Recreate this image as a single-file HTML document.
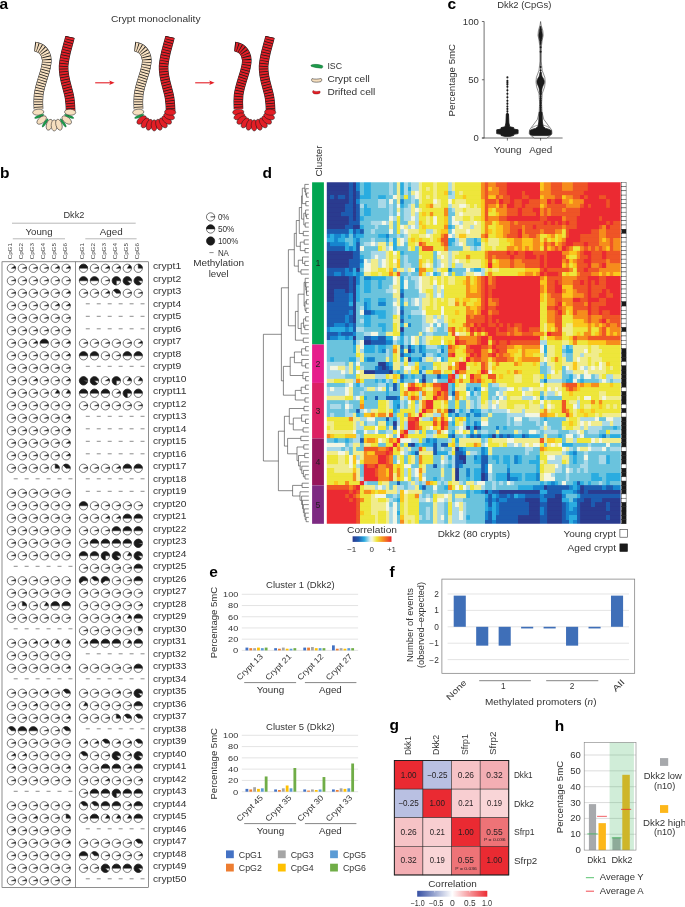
<!DOCTYPE html>
<html><head><meta charset="utf-8"><title>Figure</title>
<style>
html,body{margin:0;padding:0;background:#fff;}
body{width:685px;height:907px;overflow:hidden;font-family:"Liberation Sans",sans-serif;}
svg{display:block;font-family:"Liberation Sans",sans-serif;will-change:transform;}
</style></head><body>
<svg width="685" height="907" viewBox="0 0 685 907">
<rect width="685" height="907" fill="#fff"/>
<g id="pa"><text x="-0.40" y="9.10" font-size="15.5" fill="#000" font-weight="bold">a</text><text x="111.00" y="22.30" font-size="9" fill="#333" textLength="89.50" lengthAdjust="spacingAndGlyphs">Crypt monoclonality</text><g transform="translate(0 0)"><path d="M34.8 46.6 C40 47 46.2 51 46.8 60 C47.2 70 40.4 81 38.6 95 C38.1 100 38.2 104 38.5 109" fill="none" stroke="#1a1a1a" stroke-width="9.6" stroke-linecap="butt"/><path d="M34.8 46.6 C40 47 46.2 51 46.8 60 C47.2 70 40.4 81 38.6 95 C38.1 100 38.2 104 38.5 109" fill="none" stroke="#f6dfbf" stroke-width="8.6" stroke-linecap="butt"/><path d="M34.8 46.6 C40 47 46.2 51 46.8 60 C47.2 70 40.4 81 38.6 95 C38.1 100 38.2 104 38.5 109" fill="none" stroke="#1a1a1a" stroke-width="8.6" stroke-dasharray="0.75 1.95" stroke-linecap="butt"/><path d="M70 37 C68.5 44 64.5 54 63.6 66 C63 78 68 88 69.6 98 C70.3 103 70.6 107 70.6 111" fill="none" stroke="#1a1a1a" stroke-width="9.6" stroke-linecap="butt"/><path d="M70 37 C68.5 44 64.5 54 63.6 66 C63 78 68 88 69.6 98 C70.3 103 70.6 107 70.6 111" fill="none" stroke="#e31e26" stroke-width="8.6" stroke-linecap="butt"/><path d="M70 37 C68.5 44 64.5 54 63.6 66 C63 78 68 88 69.6 98 C70.3 103 70.6 107 70.6 111" fill="none" stroke="#1a1a1a" stroke-width="8.6" stroke-dasharray="0.75 1.95" stroke-linecap="butt"/><ellipse cx="38.24" cy="112.19" rx="5.6" ry="3.0" fill="#f6dfbf" stroke="#1a1a1a" stroke-width="0.5" transform="rotate(176.0 38.24 112.19)"/><ellipse cx="39.28" cy="116.34" rx="5.0" ry="1.15" fill="#1c9b4a" stroke="#0d5c2a" stroke-width="0.3" transform="rotate(158.8 39.28 116.34)"/><ellipse cx="41.66" cy="120.02" rx="5.6" ry="3.0" fill="#f6dfbf" stroke="#1a1a1a" stroke-width="0.5" transform="rotate(141.6 41.66 120.02)"/><ellipse cx="45.16" cy="122.92" rx="5.0" ry="1.15" fill="#1c9b4a" stroke="#0d5c2a" stroke-width="0.3" transform="rotate(124.4 45.16 122.92)"/><ellipse cx="49.47" cy="124.76" rx="5.6" ry="3.0" fill="#f6dfbf" stroke="#1a1a1a" stroke-width="0.5" transform="rotate(107.2 49.47 124.76)"/><ellipse cx="54.20" cy="125.40" rx="5.6" ry="3.0" fill="#f6dfbf" stroke="#1a1a1a" stroke-width="0.5" transform="rotate(90.0 54.20 125.40)"/><ellipse cx="58.93" cy="124.76" rx="5.6" ry="3.0" fill="#f6dfbf" stroke="#1a1a1a" stroke-width="0.5" transform="rotate(72.8 58.93 124.76)"/><ellipse cx="63.24" cy="122.92" rx="5.0" ry="1.15" fill="#1c9b4a" stroke="#0d5c2a" stroke-width="0.3" transform="rotate(55.6 63.24 122.92)"/><ellipse cx="66.74" cy="120.02" rx="5.6" ry="3.0" fill="#f6dfbf" stroke="#1a1a1a" stroke-width="0.5" transform="rotate(38.4 66.74 120.02)"/><ellipse cx="69.12" cy="116.34" rx="5.0" ry="1.15" fill="#1c9b4a" stroke="#0d5c2a" stroke-width="0.3" transform="rotate(21.2 69.12 116.34)"/><ellipse cx="70.16" cy="112.19" rx="5.6" ry="3.0" fill="#f6dfbf" stroke="#1a1a1a" stroke-width="0.5" transform="rotate(4.0 70.16 112.19)"/></g><g transform="translate(100 0)"><path d="M34.8 46.6 C40 47 46.2 51 46.8 60 C47.2 70 40.4 81 38.6 95 C38.1 100 38.2 104 38.5 109" fill="none" stroke="#1a1a1a" stroke-width="9.6" stroke-linecap="butt"/><path d="M34.8 46.6 C40 47 46.2 51 46.8 60 C47.2 70 40.4 81 38.6 95 C38.1 100 38.2 104 38.5 109" fill="none" stroke="#f6dfbf" stroke-width="8.6" stroke-linecap="butt"/><path d="M34.8 46.6 C40 47 46.2 51 46.8 60 C47.2 70 40.4 81 38.6 95 C38.1 100 38.2 104 38.5 109" fill="none" stroke="#1a1a1a" stroke-width="8.6" stroke-dasharray="0.75 1.95" stroke-linecap="butt"/><path d="M70 37 C68.5 44 64.5 54 63.6 66 C63 78 68 88 69.6 98 C70.3 103 70.6 107 70.6 111" fill="none" stroke="#1a1a1a" stroke-width="9.6" stroke-linecap="butt"/><path d="M70 37 C68.5 44 64.5 54 63.6 66 C63 78 68 88 69.6 98 C70.3 103 70.6 107 70.6 111" fill="none" stroke="#e31e26" stroke-width="8.6" stroke-linecap="butt"/><path d="M70 37 C68.5 44 64.5 54 63.6 66 C63 78 68 88 69.6 98 C70.3 103 70.6 107 70.6 111" fill="none" stroke="#1a1a1a" stroke-width="8.6" stroke-dasharray="0.75 1.95" stroke-linecap="butt"/><ellipse cx="38.24" cy="112.19" rx="5.6" ry="3.0" fill="#f6dfbf" stroke="#1a1a1a" stroke-width="0.5" transform="rotate(176.0 38.24 112.19)"/><ellipse cx="39.28" cy="116.34" rx="5.0" ry="1.15" fill="#1c9b4a" stroke="#0d5c2a" stroke-width="0.3" transform="rotate(158.8 39.28 116.34)"/><ellipse cx="41.66" cy="120.02" rx="5.6" ry="3.0" fill="#e31e26" stroke="#1a1a1a" stroke-width="0.5" transform="rotate(141.6 41.66 120.02)"/><ellipse cx="45.16" cy="122.92" rx="5.6" ry="3.0" fill="#e31e26" stroke="#1a1a1a" stroke-width="0.5" transform="rotate(124.4 45.16 122.92)"/><ellipse cx="49.47" cy="124.76" rx="5.6" ry="3.0" fill="#e31e26" stroke="#1a1a1a" stroke-width="0.5" transform="rotate(107.2 49.47 124.76)"/><ellipse cx="54.20" cy="125.40" rx="5.6" ry="3.0" fill="#e31e26" stroke="#1a1a1a" stroke-width="0.5" transform="rotate(90.0 54.20 125.40)"/><ellipse cx="58.93" cy="124.76" rx="5.6" ry="3.0" fill="#e31e26" stroke="#1a1a1a" stroke-width="0.5" transform="rotate(72.8 58.93 124.76)"/><ellipse cx="63.24" cy="122.92" rx="5.6" ry="3.0" fill="#e31e26" stroke="#1a1a1a" stroke-width="0.5" transform="rotate(55.6 63.24 122.92)"/><ellipse cx="66.74" cy="120.02" rx="5.6" ry="3.0" fill="#e31e26" stroke="#1a1a1a" stroke-width="0.5" transform="rotate(38.4 66.74 120.02)"/><ellipse cx="69.12" cy="116.34" rx="5.6" ry="3.0" fill="#e31e26" stroke="#1a1a1a" stroke-width="0.5" transform="rotate(21.2 69.12 116.34)"/><ellipse cx="70.16" cy="112.19" rx="5.6" ry="3.0" fill="#e31e26" stroke="#1a1a1a" stroke-width="0.5" transform="rotate(4.0 70.16 112.19)"/></g><g transform="translate(200 0)"><path d="M34.8 46.6 C40 47 46.2 51 46.8 60 C47.2 70 40.4 81 38.6 95 C38.1 100 38.2 104 38.5 109" fill="none" stroke="#1a1a1a" stroke-width="9.6" stroke-linecap="butt"/><path d="M34.8 46.6 C40 47 46.2 51 46.8 60 C47.2 70 40.4 81 38.6 95 C38.1 100 38.2 104 38.5 109" fill="none" stroke="#e31e26" stroke-width="8.6" stroke-linecap="butt"/><path d="M34.8 46.6 C40 47 46.2 51 46.8 60 C47.2 70 40.4 81 38.6 95 C38.1 100 38.2 104 38.5 109" fill="none" stroke="#1a1a1a" stroke-width="8.6" stroke-dasharray="0.75 1.95" stroke-linecap="butt"/><path d="M70 37 C68.5 44 64.5 54 63.6 66 C63 78 68 88 69.6 98 C70.3 103 70.6 107 70.6 111" fill="none" stroke="#1a1a1a" stroke-width="9.6" stroke-linecap="butt"/><path d="M70 37 C68.5 44 64.5 54 63.6 66 C63 78 68 88 69.6 98 C70.3 103 70.6 107 70.6 111" fill="none" stroke="#e31e26" stroke-width="8.6" stroke-linecap="butt"/><path d="M70 37 C68.5 44 64.5 54 63.6 66 C63 78 68 88 69.6 98 C70.3 103 70.6 107 70.6 111" fill="none" stroke="#1a1a1a" stroke-width="8.6" stroke-dasharray="0.75 1.95" stroke-linecap="butt"/><ellipse cx="38.24" cy="112.19" rx="5.6" ry="3.0" fill="#e31e26" stroke="#1a1a1a" stroke-width="0.5" transform="rotate(176.0 38.24 112.19)"/><ellipse cx="39.28" cy="116.34" rx="5.6" ry="3.0" fill="#e31e26" stroke="#1a1a1a" stroke-width="0.5" transform="rotate(158.8 39.28 116.34)"/><ellipse cx="41.66" cy="120.02" rx="5.6" ry="3.0" fill="#e31e26" stroke="#1a1a1a" stroke-width="0.5" transform="rotate(141.6 41.66 120.02)"/><ellipse cx="45.16" cy="122.92" rx="5.6" ry="3.0" fill="#e31e26" stroke="#1a1a1a" stroke-width="0.5" transform="rotate(124.4 45.16 122.92)"/><ellipse cx="49.47" cy="124.76" rx="5.6" ry="3.0" fill="#e31e26" stroke="#1a1a1a" stroke-width="0.5" transform="rotate(107.2 49.47 124.76)"/><ellipse cx="54.20" cy="125.40" rx="5.6" ry="3.0" fill="#e31e26" stroke="#1a1a1a" stroke-width="0.5" transform="rotate(90.0 54.20 125.40)"/><ellipse cx="58.93" cy="124.76" rx="5.6" ry="3.0" fill="#e31e26" stroke="#1a1a1a" stroke-width="0.5" transform="rotate(72.8 58.93 124.76)"/><ellipse cx="63.24" cy="122.92" rx="5.6" ry="3.0" fill="#e31e26" stroke="#1a1a1a" stroke-width="0.5" transform="rotate(55.6 63.24 122.92)"/><ellipse cx="66.74" cy="120.02" rx="5.6" ry="3.0" fill="#e31e26" stroke="#1a1a1a" stroke-width="0.5" transform="rotate(38.4 66.74 120.02)"/><ellipse cx="69.12" cy="116.34" rx="5.6" ry="3.0" fill="#e31e26" stroke="#1a1a1a" stroke-width="0.5" transform="rotate(21.2 69.12 116.34)"/><ellipse cx="70.16" cy="112.19" rx="5.6" ry="3.0" fill="#e31e26" stroke="#1a1a1a" stroke-width="0.5" transform="rotate(4.0 70.16 112.19)"/></g><line x1="95.2" y1="82.8" x2="111.6" y2="82.8" stroke="#e31e26" stroke-width="1.1"/><path d="M114.6 82.8 L109.19999999999999 80.6 L110.39999999999999 82.8 L109.19999999999999 85.0 Z" fill="#e31e26"/><line x1="195.2" y1="82.8" x2="211.6" y2="82.8" stroke="#e31e26" stroke-width="1.1"/><path d="M214.6 82.8 L209.2 80.6 L210.4 82.8 L209.2 85.0 Z" fill="#e31e26"/><path d="M311.2 65 C313.5 63.8 319 64.4 322.4 65.6 C323.2 66.6 322.8 68 321.6 68.2 C318 68 313.5 67.2 311.4 66.4 C310.8 66 310.8 65.4 311.2 65Z" fill="#1c9b4a" stroke="#0d5c2a" stroke-width="0.4"/><path d="M312 78.6 C314 79.4 319 79.2 321 78.4 C322 78.6 322 81 321 81.6 C318 82.4 314.5 82.4 312.4 81.6 C311.4 81 311.4 79 312 78.6Z" fill="#f6dfbf" stroke="#1a1a1a" stroke-width="0.5"/><path d="M313.2 90.4 C314.5 91.6 318 91.8 319.6 91 C320.4 91.4 320.4 93 319.4 93.4 C317.5 94.2 315 94.2 313.4 93.4 C312.4 92.8 312.4 90.8 313.2 90.4Z" fill="#e31e26" stroke="#7a0d10" stroke-width="0.4"/><text x="327.40" y="69.40" font-size="8.4" fill="#333" textLength="14.60" lengthAdjust="spacingAndGlyphs">ISC</text><text x="327.40" y="82.40" font-size="8.4" fill="#333" textLength="42.30" lengthAdjust="spacingAndGlyphs">Crypt cell</text><text x="327.40" y="95.30" font-size="8.4" fill="#333" textLength="47.90" lengthAdjust="spacingAndGlyphs">Drifted cell</text></g>
<g id="pb"><text x="0.00" y="177.80" font-size="15.5" fill="#000" font-weight="bold">b</text><text x="63.50" y="218.00" font-size="8.8" fill="#333" textLength="20.90" lengthAdjust="spacingAndGlyphs">Dkk2</text><line x1="12.00" y1="223.20" x2="135.70" y2="223.20" stroke="#999" stroke-width="0.7"/><text x="25.50" y="235.10" font-size="8.8" fill="#333" textLength="27.00" lengthAdjust="spacingAndGlyphs">Young</text><text x="99.70" y="235.10" font-size="8.8" fill="#333" textLength="23.00" lengthAdjust="spacingAndGlyphs">Aged</text><line x1="12.80" y1="238.80" x2="65.00" y2="238.80" stroke="#999" stroke-width="0.7"/><line x1="85.30" y1="238.80" x2="136.60" y2="238.80" stroke="#999" stroke-width="0.7"/><text x="11.80" y="259.30" font-size="6.2" fill="#444" transform="rotate(-90 11.80 259.30)" textLength="16.20" lengthAdjust="spacingAndGlyphs">CpG1</text><text x="22.75" y="259.30" font-size="6.2" fill="#444" transform="rotate(-90 22.75 259.30)" textLength="16.20" lengthAdjust="spacingAndGlyphs">CpG2</text><text x="33.70" y="259.30" font-size="6.2" fill="#444" transform="rotate(-90 33.70 259.30)" textLength="16.20" lengthAdjust="spacingAndGlyphs">CpG3</text><text x="44.65" y="259.30" font-size="6.2" fill="#444" transform="rotate(-90 44.65 259.30)" textLength="16.20" lengthAdjust="spacingAndGlyphs">CpG4</text><text x="55.60" y="259.30" font-size="6.2" fill="#444" transform="rotate(-90 55.60 259.30)" textLength="16.20" lengthAdjust="spacingAndGlyphs">CpG5</text><text x="66.55" y="259.30" font-size="6.2" fill="#444" transform="rotate(-90 66.55 259.30)" textLength="16.20" lengthAdjust="spacingAndGlyphs">CpG6</text><text x="83.90" y="259.30" font-size="6.2" fill="#444" transform="rotate(-90 83.90 259.30)" textLength="16.20" lengthAdjust="spacingAndGlyphs">CpG1</text><text x="94.85" y="259.30" font-size="6.2" fill="#444" transform="rotate(-90 94.85 259.30)" textLength="16.20" lengthAdjust="spacingAndGlyphs">CpG2</text><text x="105.80" y="259.30" font-size="6.2" fill="#444" transform="rotate(-90 105.80 259.30)" textLength="16.20" lengthAdjust="spacingAndGlyphs">CpG3</text><text x="116.75" y="259.30" font-size="6.2" fill="#444" transform="rotate(-90 116.75 259.30)" textLength="16.20" lengthAdjust="spacingAndGlyphs">CpG4</text><text x="127.70" y="259.30" font-size="6.2" fill="#444" transform="rotate(-90 127.70 259.30)" textLength="16.20" lengthAdjust="spacingAndGlyphs">CpG5</text><text x="138.65" y="259.30" font-size="6.2" fill="#444" transform="rotate(-90 138.65 259.30)" textLength="16.20" lengthAdjust="spacingAndGlyphs">CpG6</text><rect x="2.00" y="261.80" width="146.50" height="625.50" fill="none" stroke="#444" stroke-width="0.6"/><line x1="75.50" y1="261.80" x2="75.50" y2="887.30" stroke="#444" stroke-width="0.6"/><circle cx="11.40" cy="268.30" r="4.15" fill="#fff" stroke="#1a1a1a" stroke-width="0.6"/><path d="M11.40 268.30 L15.55 268.30 A4.15 4.15 0 0 0 14.90 266.08 Z" fill="#1a1a1a" stroke="#1a1a1a" stroke-width="0.45" stroke-linejoin="round"/><circle cx="22.35" cy="268.30" r="4.15" fill="#fff" stroke="#1a1a1a" stroke-width="0.6"/><path d="M22.35 268.30 L26.50 268.30 A4.15 4.15 0 0 0 26.30 267.02 Z" fill="#1a1a1a" stroke="#1a1a1a" stroke-width="0.45" stroke-linejoin="round"/><circle cx="33.30" cy="268.30" r="4.15" fill="#fff" stroke="#1a1a1a" stroke-width="0.6"/><path d="M33.30 268.30 L37.45 268.30 A4.15 4.15 0 0 0 37.25 267.02 Z" fill="#1a1a1a" stroke="#1a1a1a" stroke-width="0.45" stroke-linejoin="round"/><circle cx="44.25" cy="268.30" r="4.15" fill="#fff" stroke="#1a1a1a" stroke-width="0.6"/><path d="M44.25 268.30 L48.40 268.30 A4.15 4.15 0 0 0 48.20 267.02 Z" fill="#1a1a1a" stroke="#1a1a1a" stroke-width="0.45" stroke-linejoin="round"/><circle cx="55.20" cy="268.30" r="4.15" fill="#fff" stroke="#1a1a1a" stroke-width="0.6"/><path d="M55.20 268.30 L59.35 268.30 A4.15 4.15 0 0 0 58.70 266.08 Z" fill="#1a1a1a" stroke="#1a1a1a" stroke-width="0.45" stroke-linejoin="round"/><circle cx="66.15" cy="268.30" r="4.15" fill="#fff" stroke="#1a1a1a" stroke-width="0.6"/><path d="M66.15 268.30 L70.30 268.30 A4.15 4.15 0 0 0 69.65 266.08 Z" fill="#1a1a1a" stroke="#1a1a1a" stroke-width="0.45" stroke-linejoin="round"/><circle cx="83.50" cy="268.30" r="4.15" fill="#fff" stroke="#1a1a1a" stroke-width="0.6"/><path d="M83.50 268.30 L87.65 268.30 A4.15 4.15 0 0 0 79.35 268.30 Z" fill="#1a1a1a" stroke="#1a1a1a" stroke-width="0.45" stroke-linejoin="round"/><circle cx="94.45" cy="268.30" r="4.15" fill="#fff" stroke="#1a1a1a" stroke-width="0.6"/><path d="M94.45 268.30 L98.60 268.30 A4.15 4.15 0 0 0 98.40 267.02 Z" fill="#1a1a1a" stroke="#1a1a1a" stroke-width="0.45" stroke-linejoin="round"/><circle cx="105.40" cy="268.30" r="4.15" fill="#fff" stroke="#1a1a1a" stroke-width="0.6"/><path d="M105.40 268.30 L109.55 268.30 A4.15 4.15 0 0 0 108.90 266.08 Z" fill="#1a1a1a" stroke="#1a1a1a" stroke-width="0.45" stroke-linejoin="round"/><circle cx="116.35" cy="268.30" r="4.15" fill="#fff" stroke="#1a1a1a" stroke-width="0.6"/><path d="M116.35 268.30 L120.50 268.30 A4.15 4.15 0 0 0 119.85 266.08 Z" fill="#1a1a1a" stroke="#1a1a1a" stroke-width="0.45" stroke-linejoin="round"/><circle cx="127.30" cy="268.30" r="4.15" fill="#fff" stroke="#1a1a1a" stroke-width="0.6"/><path d="M127.30 268.30 L131.45 268.30 A4.15 4.15 0 0 0 129.52 264.80 Z" fill="#1a1a1a" stroke="#1a1a1a" stroke-width="0.45" stroke-linejoin="round"/><circle cx="138.25" cy="268.30" r="4.15" fill="#fff" stroke="#1a1a1a" stroke-width="0.6"/><path d="M138.25 268.30 L142.40 268.30 A4.15 4.15 0 0 0 138.25 264.15 Z" fill="#1a1a1a" stroke="#1a1a1a" stroke-width="0.45" stroke-linejoin="round"/><text x="152.90" y="269.40" font-size="8.6" fill="#333" textLength="28.40" lengthAdjust="spacingAndGlyphs">crypt1</text><circle cx="11.40" cy="280.80" r="4.15" fill="#fff" stroke="#1a1a1a" stroke-width="0.6"/><path d="M11.40 280.80 L15.55 280.80 A4.15 4.15 0 0 0 15.35 279.52 Z" fill="#1a1a1a" stroke="#1a1a1a" stroke-width="0.45" stroke-linejoin="round"/><circle cx="22.35" cy="280.80" r="4.15" fill="#fff" stroke="#1a1a1a" stroke-width="0.6"/><path d="M22.35 280.80 L26.50 280.80 A4.15 4.15 0 0 0 26.30 279.52 Z" fill="#1a1a1a" stroke="#1a1a1a" stroke-width="0.45" stroke-linejoin="round"/><circle cx="33.30" cy="280.80" r="4.15" fill="#fff" stroke="#1a1a1a" stroke-width="0.6"/><path d="M33.30 280.80 L37.45 280.80 A4.15 4.15 0 0 0 37.25 279.52 Z" fill="#1a1a1a" stroke="#1a1a1a" stroke-width="0.45" stroke-linejoin="round"/><circle cx="44.25" cy="280.80" r="4.15" fill="#fff" stroke="#1a1a1a" stroke-width="0.6"/><path d="M44.25 280.80 L48.40 280.80 A4.15 4.15 0 0 0 48.20 279.52 Z" fill="#1a1a1a" stroke="#1a1a1a" stroke-width="0.45" stroke-linejoin="round"/><circle cx="55.20" cy="280.80" r="4.15" fill="#fff" stroke="#1a1a1a" stroke-width="0.6"/><path d="M55.20 280.80 L59.35 280.80 A4.15 4.15 0 0 0 59.15 279.52 Z" fill="#1a1a1a" stroke="#1a1a1a" stroke-width="0.45" stroke-linejoin="round"/><circle cx="66.15" cy="280.80" r="4.15" fill="#fff" stroke="#1a1a1a" stroke-width="0.6"/><path d="M66.15 280.80 L70.30 280.80 A4.15 4.15 0 0 0 70.10 279.52 Z" fill="#1a1a1a" stroke="#1a1a1a" stroke-width="0.45" stroke-linejoin="round"/><circle cx="83.50" cy="280.80" r="4.15" fill="#fff" stroke="#1a1a1a" stroke-width="0.6"/><path d="M83.50 280.80 L87.65 280.80 A4.15 4.15 0 0 0 79.35 280.80 Z" fill="#1a1a1a" stroke="#1a1a1a" stroke-width="0.45" stroke-linejoin="round"/><circle cx="94.45" cy="280.80" r="4.15" fill="#fff" stroke="#1a1a1a" stroke-width="0.6"/><path d="M94.45 280.80 L98.60 280.80 A4.15 4.15 0 0 0 90.30 280.80 Z" fill="#1a1a1a" stroke="#1a1a1a" stroke-width="0.45" stroke-linejoin="round"/><circle cx="105.40" cy="280.80" r="4.15" fill="#fff" stroke="#1a1a1a" stroke-width="0.6"/><path d="M105.40 280.80 L109.55 280.80 A4.15 4.15 0 0 0 109.35 279.52 Z" fill="#1a1a1a" stroke="#1a1a1a" stroke-width="0.45" stroke-linejoin="round"/><circle cx="116.35" cy="280.80" r="4.15" fill="#fff" stroke="#1a1a1a" stroke-width="0.6"/><path d="M116.35 280.80 L120.50 280.80 A4.15 4.15 0 1 0 116.35 284.95 Z" fill="#1a1a1a" stroke="#1a1a1a" stroke-width="0.45" stroke-linejoin="round"/><circle cx="127.30" cy="280.80" r="4.15" fill="#fff" stroke="#1a1a1a" stroke-width="0.6"/><path d="M127.30 280.80 L131.45 280.80 A4.15 4.15 0 1 0 130.33 283.64 Z" fill="#1a1a1a" stroke="#1a1a1a" stroke-width="0.45" stroke-linejoin="round"/><circle cx="138.25" cy="280.80" r="4.15" fill="#fff" stroke="#1a1a1a" stroke-width="0.6"/><path d="M138.25 280.80 L142.40 280.80 A4.15 4.15 0 1 0 141.28 283.64 Z" fill="#1a1a1a" stroke="#1a1a1a" stroke-width="0.45" stroke-linejoin="round"/><text x="152.90" y="281.90" font-size="8.6" fill="#333" textLength="28.40" lengthAdjust="spacingAndGlyphs">crypt2</text><circle cx="11.40" cy="293.30" r="4.15" fill="#fff" stroke="#1a1a1a" stroke-width="0.6"/><path d="M11.40 293.30 L15.55 293.30 A4.15 4.15 0 0 0 15.35 292.02 Z" fill="#1a1a1a" stroke="#1a1a1a" stroke-width="0.45" stroke-linejoin="round"/><circle cx="22.35" cy="293.30" r="4.15" fill="#fff" stroke="#1a1a1a" stroke-width="0.6"/><path d="M22.35 293.30 L26.50 293.30 A4.15 4.15 0 0 0 26.30 292.02 Z" fill="#1a1a1a" stroke="#1a1a1a" stroke-width="0.45" stroke-linejoin="round"/><circle cx="33.30" cy="293.30" r="4.15" fill="#fff" stroke="#1a1a1a" stroke-width="0.6"/><path d="M33.30 293.30 L37.45 293.30 A4.15 4.15 0 0 0 37.25 292.02 Z" fill="#1a1a1a" stroke="#1a1a1a" stroke-width="0.45" stroke-linejoin="round"/><circle cx="44.25" cy="293.30" r="4.15" fill="#fff" stroke="#1a1a1a" stroke-width="0.6"/><path d="M44.25 293.30 L48.40 293.30 A4.15 4.15 0 0 0 48.20 292.02 Z" fill="#1a1a1a" stroke="#1a1a1a" stroke-width="0.45" stroke-linejoin="round"/><circle cx="55.20" cy="293.30" r="4.15" fill="#fff" stroke="#1a1a1a" stroke-width="0.6"/><path d="M55.20 293.30 L59.35 293.30 A4.15 4.15 0 0 0 59.15 292.02 Z" fill="#1a1a1a" stroke="#1a1a1a" stroke-width="0.45" stroke-linejoin="round"/><circle cx="66.15" cy="293.30" r="4.15" fill="#fff" stroke="#1a1a1a" stroke-width="0.6"/><path d="M66.15 293.30 L70.30 293.30 A4.15 4.15 0 0 0 69.65 291.08 Z" fill="#1a1a1a" stroke="#1a1a1a" stroke-width="0.45" stroke-linejoin="round"/><circle cx="83.50" cy="293.30" r="4.15" fill="#fff" stroke="#1a1a1a" stroke-width="0.6"/><path d="M83.50 293.30 L87.65 293.30 A4.15 4.15 0 0 0 87.45 292.02 Z" fill="#1a1a1a" stroke="#1a1a1a" stroke-width="0.45" stroke-linejoin="round"/><circle cx="94.45" cy="293.30" r="4.15" fill="#fff" stroke="#1a1a1a" stroke-width="0.6"/><path d="M94.45 293.30 L98.60 293.30 A4.15 4.15 0 0 0 98.40 292.02 Z" fill="#1a1a1a" stroke="#1a1a1a" stroke-width="0.45" stroke-linejoin="round"/><circle cx="105.40" cy="293.30" r="4.15" fill="#fff" stroke="#1a1a1a" stroke-width="0.6"/><path d="M105.40 293.30 L109.55 293.30 A4.15 4.15 0 0 0 108.90 291.08 Z" fill="#1a1a1a" stroke="#1a1a1a" stroke-width="0.45" stroke-linejoin="round"/><circle cx="116.35" cy="293.30" r="4.15" fill="#fff" stroke="#1a1a1a" stroke-width="0.6"/><path d="M116.35 293.30 L120.50 293.30 A4.15 4.15 0 0 0 113.51 290.27 Z" fill="#1a1a1a" stroke="#1a1a1a" stroke-width="0.45" stroke-linejoin="round"/><circle cx="127.30" cy="293.30" r="4.15" fill="#fff" stroke="#1a1a1a" stroke-width="0.6"/><path d="M127.30 293.30 L131.45 293.30 A4.15 4.15 0 0 0 131.25 292.02 Z" fill="#1a1a1a" stroke="#1a1a1a" stroke-width="0.45" stroke-linejoin="round"/><circle cx="138.25" cy="293.30" r="4.15" fill="#fff" stroke="#1a1a1a" stroke-width="0.6"/><path d="M138.25 293.30 L142.40 293.30 A4.15 4.15 0 0 0 142.20 292.02 Z" fill="#1a1a1a" stroke="#1a1a1a" stroke-width="0.45" stroke-linejoin="round"/><text x="152.90" y="294.40" font-size="8.6" fill="#333" textLength="28.40" lengthAdjust="spacingAndGlyphs">crypt3</text><circle cx="11.40" cy="305.80" r="4.15" fill="#fff" stroke="#1a1a1a" stroke-width="0.6"/><path d="M11.40 305.80 L15.55 305.80 A4.15 4.15 0 0 0 15.35 304.52 Z" fill="#1a1a1a" stroke="#1a1a1a" stroke-width="0.45" stroke-linejoin="round"/><circle cx="22.35" cy="305.80" r="4.15" fill="#fff" stroke="#1a1a1a" stroke-width="0.6"/><path d="M22.35 305.80 L26.50 305.80 A4.15 4.15 0 0 0 26.30 304.52 Z" fill="#1a1a1a" stroke="#1a1a1a" stroke-width="0.45" stroke-linejoin="round"/><circle cx="33.30" cy="305.80" r="4.15" fill="#fff" stroke="#1a1a1a" stroke-width="0.6"/><path d="M33.30 305.80 L37.45 305.80 A4.15 4.15 0 0 0 37.25 304.52 Z" fill="#1a1a1a" stroke="#1a1a1a" stroke-width="0.45" stroke-linejoin="round"/><circle cx="44.25" cy="305.80" r="4.15" fill="#fff" stroke="#1a1a1a" stroke-width="0.6"/><path d="M44.25 305.80 L48.40 305.80 A4.15 4.15 0 0 0 48.20 304.52 Z" fill="#1a1a1a" stroke="#1a1a1a" stroke-width="0.45" stroke-linejoin="round"/><circle cx="55.20" cy="305.80" r="4.15" fill="#fff" stroke="#1a1a1a" stroke-width="0.6"/><path d="M55.20 305.80 L59.35 305.80 A4.15 4.15 0 0 0 58.70 303.58 Z" fill="#1a1a1a" stroke="#1a1a1a" stroke-width="0.45" stroke-linejoin="round"/><circle cx="66.15" cy="305.80" r="4.15" fill="#fff" stroke="#1a1a1a" stroke-width="0.6"/><path d="M66.15 305.80 L70.30 305.80 A4.15 4.15 0 0 0 69.65 303.58 Z" fill="#1a1a1a" stroke="#1a1a1a" stroke-width="0.45" stroke-linejoin="round"/><line x1="85.80" y1="303.80" x2="89.80" y2="303.80" stroke="#666" stroke-width="0.75"/><line x1="96.75" y1="303.80" x2="100.75" y2="303.80" stroke="#666" stroke-width="0.75"/><line x1="107.70" y1="303.80" x2="111.70" y2="303.80" stroke="#666" stroke-width="0.75"/><line x1="118.65" y1="303.80" x2="122.65" y2="303.80" stroke="#666" stroke-width="0.75"/><line x1="129.60" y1="303.80" x2="133.60" y2="303.80" stroke="#666" stroke-width="0.75"/><line x1="140.55" y1="303.80" x2="144.55" y2="303.80" stroke="#666" stroke-width="0.75"/><text x="152.90" y="306.90" font-size="8.6" fill="#333" textLength="28.40" lengthAdjust="spacingAndGlyphs">crypt4</text><circle cx="11.40" cy="318.30" r="4.15" fill="#fff" stroke="#1a1a1a" stroke-width="0.6"/><path d="M11.40 318.30 L15.55 318.30 A4.15 4.15 0 0 0 15.35 317.02 Z" fill="#1a1a1a" stroke="#1a1a1a" stroke-width="0.45" stroke-linejoin="round"/><circle cx="22.35" cy="318.30" r="4.15" fill="#fff" stroke="#1a1a1a" stroke-width="0.6"/><path d="M22.35 318.30 L26.50 318.30 A4.15 4.15 0 0 0 26.30 317.02 Z" fill="#1a1a1a" stroke="#1a1a1a" stroke-width="0.45" stroke-linejoin="round"/><circle cx="33.30" cy="318.30" r="4.15" fill="#fff" stroke="#1a1a1a" stroke-width="0.6"/><path d="M33.30 318.30 L37.45 318.30 A4.15 4.15 0 0 0 37.25 317.02 Z" fill="#1a1a1a" stroke="#1a1a1a" stroke-width="0.45" stroke-linejoin="round"/><circle cx="44.25" cy="318.30" r="4.15" fill="#fff" stroke="#1a1a1a" stroke-width="0.6"/><path d="M44.25 318.30 L48.40 318.30 A4.15 4.15 0 0 0 48.20 317.02 Z" fill="#1a1a1a" stroke="#1a1a1a" stroke-width="0.45" stroke-linejoin="round"/><circle cx="55.20" cy="318.30" r="4.15" fill="#fff" stroke="#1a1a1a" stroke-width="0.6"/><path d="M55.20 318.30 L59.35 318.30 A4.15 4.15 0 0 0 59.15 317.02 Z" fill="#1a1a1a" stroke="#1a1a1a" stroke-width="0.45" stroke-linejoin="round"/><circle cx="66.15" cy="318.30" r="4.15" fill="#fff" stroke="#1a1a1a" stroke-width="0.6"/><path d="M66.15 318.30 L70.30 318.30 A4.15 4.15 0 0 0 70.10 317.02 Z" fill="#1a1a1a" stroke="#1a1a1a" stroke-width="0.45" stroke-linejoin="round"/><line x1="85.80" y1="316.30" x2="89.80" y2="316.30" stroke="#666" stroke-width="0.75"/><line x1="96.75" y1="316.30" x2="100.75" y2="316.30" stroke="#666" stroke-width="0.75"/><line x1="107.70" y1="316.30" x2="111.70" y2="316.30" stroke="#666" stroke-width="0.75"/><line x1="118.65" y1="316.30" x2="122.65" y2="316.30" stroke="#666" stroke-width="0.75"/><line x1="129.60" y1="316.30" x2="133.60" y2="316.30" stroke="#666" stroke-width="0.75"/><line x1="140.55" y1="316.30" x2="144.55" y2="316.30" stroke="#666" stroke-width="0.75"/><text x="152.90" y="319.40" font-size="8.6" fill="#333" textLength="28.40" lengthAdjust="spacingAndGlyphs">crypt5</text><circle cx="11.40" cy="330.80" r="4.15" fill="#fff" stroke="#1a1a1a" stroke-width="0.6"/><path d="M11.40 330.80 L15.55 330.80 A4.15 4.15 0 0 0 15.35 329.52 Z" fill="#1a1a1a" stroke="#1a1a1a" stroke-width="0.45" stroke-linejoin="round"/><circle cx="22.35" cy="330.80" r="4.15" fill="#fff" stroke="#1a1a1a" stroke-width="0.6"/><path d="M22.35 330.80 L26.50 330.80 A4.15 4.15 0 0 0 26.30 329.52 Z" fill="#1a1a1a" stroke="#1a1a1a" stroke-width="0.45" stroke-linejoin="round"/><circle cx="33.30" cy="330.80" r="4.15" fill="#fff" stroke="#1a1a1a" stroke-width="0.6"/><path d="M33.30 330.80 L37.45 330.80 A4.15 4.15 0 0 0 37.25 329.52 Z" fill="#1a1a1a" stroke="#1a1a1a" stroke-width="0.45" stroke-linejoin="round"/><circle cx="44.25" cy="330.80" r="4.15" fill="#fff" stroke="#1a1a1a" stroke-width="0.6"/><path d="M44.25 330.80 L48.40 330.80 A4.15 4.15 0 0 0 48.20 329.52 Z" fill="#1a1a1a" stroke="#1a1a1a" stroke-width="0.45" stroke-linejoin="round"/><circle cx="55.20" cy="330.80" r="4.15" fill="#fff" stroke="#1a1a1a" stroke-width="0.6"/><path d="M55.20 330.80 L59.35 330.80 A4.15 4.15 0 0 0 59.15 329.52 Z" fill="#1a1a1a" stroke="#1a1a1a" stroke-width="0.45" stroke-linejoin="round"/><circle cx="66.15" cy="330.80" r="4.15" fill="#fff" stroke="#1a1a1a" stroke-width="0.6"/><path d="M66.15 330.80 L70.30 330.80 A4.15 4.15 0 0 0 70.10 329.52 Z" fill="#1a1a1a" stroke="#1a1a1a" stroke-width="0.45" stroke-linejoin="round"/><line x1="85.80" y1="328.80" x2="89.80" y2="328.80" stroke="#666" stroke-width="0.75"/><line x1="96.75" y1="328.80" x2="100.75" y2="328.80" stroke="#666" stroke-width="0.75"/><line x1="107.70" y1="328.80" x2="111.70" y2="328.80" stroke="#666" stroke-width="0.75"/><line x1="118.65" y1="328.80" x2="122.65" y2="328.80" stroke="#666" stroke-width="0.75"/><line x1="129.60" y1="328.80" x2="133.60" y2="328.80" stroke="#666" stroke-width="0.75"/><line x1="140.55" y1="328.80" x2="144.55" y2="328.80" stroke="#666" stroke-width="0.75"/><text x="152.90" y="331.90" font-size="8.6" fill="#333" textLength="28.40" lengthAdjust="spacingAndGlyphs">crypt6</text><circle cx="11.40" cy="343.30" r="4.15" fill="#fff" stroke="#1a1a1a" stroke-width="0.6"/><path d="M11.40 343.30 L15.55 343.30 A4.15 4.15 0 0 0 15.35 342.02 Z" fill="#1a1a1a" stroke="#1a1a1a" stroke-width="0.45" stroke-linejoin="round"/><circle cx="22.35" cy="343.30" r="4.15" fill="#fff" stroke="#1a1a1a" stroke-width="0.6"/><path d="M22.35 343.30 L26.50 343.30 A4.15 4.15 0 0 0 26.30 342.02 Z" fill="#1a1a1a" stroke="#1a1a1a" stroke-width="0.45" stroke-linejoin="round"/><circle cx="33.30" cy="343.30" r="4.15" fill="#fff" stroke="#1a1a1a" stroke-width="0.6"/><path d="M33.30 343.30 L37.45 343.30 A4.15 4.15 0 0 0 36.80 341.08 Z" fill="#1a1a1a" stroke="#1a1a1a" stroke-width="0.45" stroke-linejoin="round"/><circle cx="44.25" cy="343.30" r="4.15" fill="#fff" stroke="#1a1a1a" stroke-width="0.6"/><path d="M44.25 343.30 L48.40 343.30 A4.15 4.15 0 0 0 40.10 343.30 Z" fill="#1a1a1a" stroke="#1a1a1a" stroke-width="0.45" stroke-linejoin="round"/><circle cx="55.20" cy="343.30" r="4.15" fill="#fff" stroke="#1a1a1a" stroke-width="0.6"/><path d="M55.20 343.30 L59.35 343.30 A4.15 4.15 0 0 0 59.15 342.02 Z" fill="#1a1a1a" stroke="#1a1a1a" stroke-width="0.45" stroke-linejoin="round"/><circle cx="66.15" cy="343.30" r="4.15" fill="#fff" stroke="#1a1a1a" stroke-width="0.6"/><path d="M66.15 343.30 L70.30 343.30 A4.15 4.15 0 0 0 69.65 341.08 Z" fill="#1a1a1a" stroke="#1a1a1a" stroke-width="0.45" stroke-linejoin="round"/><circle cx="83.50" cy="343.30" r="4.15" fill="#fff" stroke="#1a1a1a" stroke-width="0.6"/><path d="M83.50 343.30 L87.65 343.30 A4.15 4.15 0 0 0 87.45 342.02 Z" fill="#1a1a1a" stroke="#1a1a1a" stroke-width="0.45" stroke-linejoin="round"/><circle cx="94.45" cy="343.30" r="4.15" fill="#fff" stroke="#1a1a1a" stroke-width="0.6"/><path d="M94.45 343.30 L98.60 343.30 A4.15 4.15 0 0 0 98.40 342.02 Z" fill="#1a1a1a" stroke="#1a1a1a" stroke-width="0.45" stroke-linejoin="round"/><circle cx="105.40" cy="343.30" r="4.15" fill="#fff" stroke="#1a1a1a" stroke-width="0.6"/><path d="M105.40 343.30 L109.55 343.30 A4.15 4.15 0 0 0 109.35 342.02 Z" fill="#1a1a1a" stroke="#1a1a1a" stroke-width="0.45" stroke-linejoin="round"/><circle cx="116.35" cy="343.30" r="4.15" fill="#fff" stroke="#1a1a1a" stroke-width="0.6"/><path d="M116.35 343.30 L120.50 343.30 A4.15 4.15 0 0 0 120.30 342.02 Z" fill="#1a1a1a" stroke="#1a1a1a" stroke-width="0.45" stroke-linejoin="round"/><circle cx="127.30" cy="343.30" r="4.15" fill="#fff" stroke="#1a1a1a" stroke-width="0.6"/><path d="M127.30 343.30 L131.45 343.30 A4.15 4.15 0 0 0 131.25 342.02 Z" fill="#1a1a1a" stroke="#1a1a1a" stroke-width="0.45" stroke-linejoin="round"/><circle cx="138.25" cy="343.30" r="4.15" fill="#fff" stroke="#1a1a1a" stroke-width="0.6"/><path d="M138.25 343.30 L142.40 343.30 A4.15 4.15 0 0 0 141.75 341.08 Z" fill="#1a1a1a" stroke="#1a1a1a" stroke-width="0.45" stroke-linejoin="round"/><text x="152.90" y="344.40" font-size="8.6" fill="#333" textLength="28.40" lengthAdjust="spacingAndGlyphs">crypt7</text><circle cx="11.40" cy="355.80" r="4.15" fill="#fff" stroke="#1a1a1a" stroke-width="0.6"/><path d="M11.40 355.80 L15.55 355.80 A4.15 4.15 0 0 0 15.35 354.52 Z" fill="#1a1a1a" stroke="#1a1a1a" stroke-width="0.45" stroke-linejoin="round"/><circle cx="22.35" cy="355.80" r="4.15" fill="#fff" stroke="#1a1a1a" stroke-width="0.6"/><path d="M22.35 355.80 L26.50 355.80 A4.15 4.15 0 0 0 26.30 354.52 Z" fill="#1a1a1a" stroke="#1a1a1a" stroke-width="0.45" stroke-linejoin="round"/><circle cx="33.30" cy="355.80" r="4.15" fill="#fff" stroke="#1a1a1a" stroke-width="0.6"/><path d="M33.30 355.80 L37.45 355.80 A4.15 4.15 0 0 0 37.25 354.52 Z" fill="#1a1a1a" stroke="#1a1a1a" stroke-width="0.45" stroke-linejoin="round"/><circle cx="44.25" cy="355.80" r="4.15" fill="#fff" stroke="#1a1a1a" stroke-width="0.6"/><path d="M44.25 355.80 L48.40 355.80 A4.15 4.15 0 0 0 48.20 354.52 Z" fill="#1a1a1a" stroke="#1a1a1a" stroke-width="0.45" stroke-linejoin="round"/><circle cx="55.20" cy="355.80" r="4.15" fill="#fff" stroke="#1a1a1a" stroke-width="0.6"/><path d="M55.20 355.80 L59.35 355.80 A4.15 4.15 0 0 0 59.15 354.52 Z" fill="#1a1a1a" stroke="#1a1a1a" stroke-width="0.45" stroke-linejoin="round"/><circle cx="66.15" cy="355.80" r="4.15" fill="#fff" stroke="#1a1a1a" stroke-width="0.6"/><path d="M66.15 355.80 L70.30 355.80 A4.15 4.15 0 0 0 69.65 353.58 Z" fill="#1a1a1a" stroke="#1a1a1a" stroke-width="0.45" stroke-linejoin="round"/><circle cx="83.50" cy="355.80" r="4.15" fill="#fff" stroke="#1a1a1a" stroke-width="0.6"/><path d="M83.50 355.80 L87.65 355.80 A4.15 4.15 0 0 0 79.35 355.80 Z" fill="#1a1a1a" stroke="#1a1a1a" stroke-width="0.45" stroke-linejoin="round"/><circle cx="94.45" cy="355.80" r="4.15" fill="#fff" stroke="#1a1a1a" stroke-width="0.6"/><path d="M94.45 355.80 L98.60 355.80 A4.15 4.15 0 0 0 90.30 355.80 Z" fill="#1a1a1a" stroke="#1a1a1a" stroke-width="0.45" stroke-linejoin="round"/><circle cx="105.40" cy="355.80" r="4.15" fill="#fff" stroke="#1a1a1a" stroke-width="0.6"/><path d="M105.40 355.80 L109.55 355.80 A4.15 4.15 0 0 0 109.35 354.52 Z" fill="#1a1a1a" stroke="#1a1a1a" stroke-width="0.45" stroke-linejoin="round"/><circle cx="116.35" cy="355.80" r="4.15" fill="#fff" stroke="#1a1a1a" stroke-width="0.6"/><path d="M116.35 355.80 L120.50 355.80 A4.15 4.15 0 0 0 120.30 354.52 Z" fill="#1a1a1a" stroke="#1a1a1a" stroke-width="0.45" stroke-linejoin="round"/><circle cx="127.30" cy="355.80" r="4.15" fill="#fff" stroke="#1a1a1a" stroke-width="0.6"/><path d="M127.30 355.80 L131.45 355.80 A4.15 4.15 0 0 0 123.15 355.80 Z" fill="#1a1a1a" stroke="#1a1a1a" stroke-width="0.45" stroke-linejoin="round"/><circle cx="138.25" cy="355.80" r="4.15" fill="#fff" stroke="#1a1a1a" stroke-width="0.6"/><path d="M138.25 355.80 L142.40 355.80 A4.15 4.15 0 0 0 134.10 355.80 Z" fill="#1a1a1a" stroke="#1a1a1a" stroke-width="0.45" stroke-linejoin="round"/><text x="152.90" y="356.90" font-size="8.6" fill="#333" textLength="28.40" lengthAdjust="spacingAndGlyphs">crypt8</text><circle cx="11.40" cy="368.30" r="4.15" fill="#fff" stroke="#1a1a1a" stroke-width="0.6"/><path d="M11.40 368.30 L15.55 368.30 A4.15 4.15 0 0 0 15.35 367.02 Z" fill="#1a1a1a" stroke="#1a1a1a" stroke-width="0.45" stroke-linejoin="round"/><circle cx="22.35" cy="368.30" r="4.15" fill="#fff" stroke="#1a1a1a" stroke-width="0.6"/><path d="M22.35 368.30 L26.50 368.30 A4.15 4.15 0 0 0 26.30 367.02 Z" fill="#1a1a1a" stroke="#1a1a1a" stroke-width="0.45" stroke-linejoin="round"/><circle cx="33.30" cy="368.30" r="4.15" fill="#fff" stroke="#1a1a1a" stroke-width="0.6"/><path d="M33.30 368.30 L37.45 368.30 A4.15 4.15 0 0 0 37.25 367.02 Z" fill="#1a1a1a" stroke="#1a1a1a" stroke-width="0.45" stroke-linejoin="round"/><circle cx="44.25" cy="368.30" r="4.15" fill="#fff" stroke="#1a1a1a" stroke-width="0.6"/><path d="M44.25 368.30 L48.40 368.30 A4.15 4.15 0 0 0 48.20 367.02 Z" fill="#1a1a1a" stroke="#1a1a1a" stroke-width="0.45" stroke-linejoin="round"/><circle cx="55.20" cy="368.30" r="4.15" fill="#fff" stroke="#1a1a1a" stroke-width="0.6"/><path d="M55.20 368.30 L59.35 368.30 A4.15 4.15 0 0 0 59.15 367.02 Z" fill="#1a1a1a" stroke="#1a1a1a" stroke-width="0.45" stroke-linejoin="round"/><circle cx="66.15" cy="368.30" r="4.15" fill="#fff" stroke="#1a1a1a" stroke-width="0.6"/><path d="M66.15 368.30 L70.30 368.30 A4.15 4.15 0 0 0 70.10 367.02 Z" fill="#1a1a1a" stroke="#1a1a1a" stroke-width="0.45" stroke-linejoin="round"/><line x1="85.80" y1="366.30" x2="89.80" y2="366.30" stroke="#666" stroke-width="0.75"/><line x1="96.75" y1="366.30" x2="100.75" y2="366.30" stroke="#666" stroke-width="0.75"/><line x1="107.70" y1="366.30" x2="111.70" y2="366.30" stroke="#666" stroke-width="0.75"/><line x1="118.65" y1="366.30" x2="122.65" y2="366.30" stroke="#666" stroke-width="0.75"/><line x1="129.60" y1="366.30" x2="133.60" y2="366.30" stroke="#666" stroke-width="0.75"/><line x1="140.55" y1="366.30" x2="144.55" y2="366.30" stroke="#666" stroke-width="0.75"/><text x="152.90" y="369.40" font-size="8.6" fill="#333" textLength="28.40" lengthAdjust="spacingAndGlyphs">crypt9</text><circle cx="11.40" cy="380.80" r="4.15" fill="#fff" stroke="#1a1a1a" stroke-width="0.6"/><path d="M11.40 380.80 L15.55 380.80 A4.15 4.15 0 0 0 15.35 379.52 Z" fill="#1a1a1a" stroke="#1a1a1a" stroke-width="0.45" stroke-linejoin="round"/><circle cx="22.35" cy="380.80" r="4.15" fill="#fff" stroke="#1a1a1a" stroke-width="0.6"/><path d="M22.35 380.80 L26.50 380.80 A4.15 4.15 0 0 0 26.30 379.52 Z" fill="#1a1a1a" stroke="#1a1a1a" stroke-width="0.45" stroke-linejoin="round"/><circle cx="33.30" cy="380.80" r="4.15" fill="#fff" stroke="#1a1a1a" stroke-width="0.6"/><path d="M33.30 380.80 L37.45 380.80 A4.15 4.15 0 0 0 36.80 378.58 Z" fill="#1a1a1a" stroke="#1a1a1a" stroke-width="0.45" stroke-linejoin="round"/><circle cx="44.25" cy="380.80" r="4.15" fill="#fff" stroke="#1a1a1a" stroke-width="0.6"/><path d="M44.25 380.80 L48.40 380.80 A4.15 4.15 0 0 0 48.20 379.52 Z" fill="#1a1a1a" stroke="#1a1a1a" stroke-width="0.45" stroke-linejoin="round"/><circle cx="55.20" cy="380.80" r="4.15" fill="#fff" stroke="#1a1a1a" stroke-width="0.6"/><path d="M55.20 380.80 L59.35 380.80 A4.15 4.15 0 0 0 59.15 379.52 Z" fill="#1a1a1a" stroke="#1a1a1a" stroke-width="0.45" stroke-linejoin="round"/><circle cx="66.15" cy="380.80" r="4.15" fill="#fff" stroke="#1a1a1a" stroke-width="0.6"/><path d="M66.15 380.80 L70.30 380.80 A4.15 4.15 0 0 0 69.65 378.58 Z" fill="#1a1a1a" stroke="#1a1a1a" stroke-width="0.45" stroke-linejoin="round"/><circle cx="83.50" cy="380.80" r="4.15" fill="#fff" stroke="#1a1a1a" stroke-width="0.6"/><path d="M83.50 380.80 L87.65 380.80 A4.15 4.15 0 1 0 87.52 381.83 Z" fill="#1a1a1a" stroke="#1a1a1a" stroke-width="0.45" stroke-linejoin="round"/><circle cx="94.45" cy="380.80" r="4.15" fill="#fff" stroke="#1a1a1a" stroke-width="0.6"/><path d="M94.45 380.80 L98.60 380.80 A4.15 4.15 0 1 0 97.48 383.64 Z" fill="#1a1a1a" stroke="#1a1a1a" stroke-width="0.45" stroke-linejoin="round"/><circle cx="105.40" cy="380.80" r="4.15" fill="#fff" stroke="#1a1a1a" stroke-width="0.6"/><path d="M105.40 380.80 L109.55 380.80 A4.15 4.15 0 0 0 108.90 378.58 Z" fill="#1a1a1a" stroke="#1a1a1a" stroke-width="0.45" stroke-linejoin="round"/><circle cx="116.35" cy="380.80" r="4.15" fill="#fff" stroke="#1a1a1a" stroke-width="0.6"/><path d="M116.35 380.80 L120.50 380.80 A4.15 4.15 0 1 0 116.35 384.95 Z" fill="#1a1a1a" stroke="#1a1a1a" stroke-width="0.45" stroke-linejoin="round"/><circle cx="127.30" cy="380.80" r="4.15" fill="#fff" stroke="#1a1a1a" stroke-width="0.6"/><path d="M127.30 380.80 L131.45 380.80 A4.15 4.15 0 0 0 129.52 377.30 Z" fill="#1a1a1a" stroke="#1a1a1a" stroke-width="0.45" stroke-linejoin="round"/><circle cx="138.25" cy="380.80" r="4.15" fill="#fff" stroke="#1a1a1a" stroke-width="0.6"/><path d="M138.25 380.80 L142.40 380.80 A4.15 4.15 0 0 0 140.47 377.30 Z" fill="#1a1a1a" stroke="#1a1a1a" stroke-width="0.45" stroke-linejoin="round"/><text x="152.90" y="381.90" font-size="8.6" fill="#333" textLength="33.60" lengthAdjust="spacingAndGlyphs">crypt10</text><circle cx="11.40" cy="393.30" r="4.15" fill="#fff" stroke="#1a1a1a" stroke-width="0.6"/><path d="M11.40 393.30 L15.55 393.30 A4.15 4.15 0 0 0 15.35 392.02 Z" fill="#1a1a1a" stroke="#1a1a1a" stroke-width="0.45" stroke-linejoin="round"/><circle cx="22.35" cy="393.30" r="4.15" fill="#fff" stroke="#1a1a1a" stroke-width="0.6"/><path d="M22.35 393.30 L26.50 393.30 A4.15 4.15 0 0 0 26.30 392.02 Z" fill="#1a1a1a" stroke="#1a1a1a" stroke-width="0.45" stroke-linejoin="round"/><circle cx="33.30" cy="393.30" r="4.15" fill="#fff" stroke="#1a1a1a" stroke-width="0.6"/><path d="M33.30 393.30 L37.45 393.30 A4.15 4.15 0 0 0 37.25 392.02 Z" fill="#1a1a1a" stroke="#1a1a1a" stroke-width="0.45" stroke-linejoin="round"/><circle cx="44.25" cy="393.30" r="4.15" fill="#fff" stroke="#1a1a1a" stroke-width="0.6"/><path d="M44.25 393.30 L48.40 393.30 A4.15 4.15 0 0 0 48.20 392.02 Z" fill="#1a1a1a" stroke="#1a1a1a" stroke-width="0.45" stroke-linejoin="round"/><circle cx="55.20" cy="393.30" r="4.15" fill="#fff" stroke="#1a1a1a" stroke-width="0.6"/><path d="M55.20 393.30 L59.35 393.30 A4.15 4.15 0 0 0 57.42 389.80 Z" fill="#1a1a1a" stroke="#1a1a1a" stroke-width="0.45" stroke-linejoin="round"/><circle cx="66.15" cy="393.30" r="4.15" fill="#fff" stroke="#1a1a1a" stroke-width="0.6"/><path d="M66.15 393.30 L70.30 393.30 A4.15 4.15 0 0 0 68.37 389.80 Z" fill="#1a1a1a" stroke="#1a1a1a" stroke-width="0.45" stroke-linejoin="round"/><circle cx="83.50" cy="393.30" r="4.15" fill="#fff" stroke="#1a1a1a" stroke-width="0.6"/><path d="M83.50 393.30 L87.65 393.30 A4.15 4.15 0 0 0 79.35 393.30 Z" fill="#1a1a1a" stroke="#1a1a1a" stroke-width="0.45" stroke-linejoin="round"/><circle cx="94.45" cy="393.30" r="4.15" fill="#fff" stroke="#1a1a1a" stroke-width="0.6"/><path d="M94.45 393.30 L98.60 393.30 A4.15 4.15 0 0 0 90.30 393.30 Z" fill="#1a1a1a" stroke="#1a1a1a" stroke-width="0.45" stroke-linejoin="round"/><circle cx="105.40" cy="393.30" r="4.15" fill="#fff" stroke="#1a1a1a" stroke-width="0.6"/><path d="M105.40 393.30 L109.55 393.30 A4.15 4.15 0 0 0 101.25 393.30 Z" fill="#1a1a1a" stroke="#1a1a1a" stroke-width="0.45" stroke-linejoin="round"/><circle cx="116.35" cy="393.30" r="4.15" fill="#fff" stroke="#1a1a1a" stroke-width="0.6"/><path d="M116.35 393.30 L120.50 393.30 A4.15 4.15 0 0 0 119.85 391.08 Z" fill="#1a1a1a" stroke="#1a1a1a" stroke-width="0.45" stroke-linejoin="round"/><circle cx="127.30" cy="393.30" r="4.15" fill="#fff" stroke="#1a1a1a" stroke-width="0.6"/><path d="M127.30 393.30 L131.45 393.30 A4.15 4.15 0 1 0 127.30 397.45 Z" fill="#1a1a1a" stroke="#1a1a1a" stroke-width="0.45" stroke-linejoin="round"/><circle cx="138.25" cy="393.30" r="4.15" fill="#fff" stroke="#1a1a1a" stroke-width="0.6"/><path d="M138.25 393.30 L142.40 393.30 A4.15 4.15 0 0 0 134.10 393.30 Z" fill="#1a1a1a" stroke="#1a1a1a" stroke-width="0.45" stroke-linejoin="round"/><text x="152.90" y="394.40" font-size="8.6" fill="#333" textLength="33.60" lengthAdjust="spacingAndGlyphs">crypt11</text><circle cx="11.40" cy="405.80" r="4.15" fill="#fff" stroke="#1a1a1a" stroke-width="0.6"/><path d="M11.40 405.80 L15.55 405.80 A4.15 4.15 0 0 0 15.35 404.52 Z" fill="#1a1a1a" stroke="#1a1a1a" stroke-width="0.45" stroke-linejoin="round"/><circle cx="22.35" cy="405.80" r="4.15" fill="#fff" stroke="#1a1a1a" stroke-width="0.6"/><path d="M22.35 405.80 L26.50 405.80 A4.15 4.15 0 0 0 26.30 404.52 Z" fill="#1a1a1a" stroke="#1a1a1a" stroke-width="0.45" stroke-linejoin="round"/><circle cx="33.30" cy="405.80" r="4.15" fill="#fff" stroke="#1a1a1a" stroke-width="0.6"/><path d="M33.30 405.80 L37.45 405.80 A4.15 4.15 0 0 0 37.25 404.52 Z" fill="#1a1a1a" stroke="#1a1a1a" stroke-width="0.45" stroke-linejoin="round"/><circle cx="44.25" cy="405.80" r="4.15" fill="#fff" stroke="#1a1a1a" stroke-width="0.6"/><path d="M44.25 405.80 L48.40 405.80 A4.15 4.15 0 0 0 48.20 404.52 Z" fill="#1a1a1a" stroke="#1a1a1a" stroke-width="0.45" stroke-linejoin="round"/><circle cx="55.20" cy="405.80" r="4.15" fill="#fff" stroke="#1a1a1a" stroke-width="0.6"/><path d="M55.20 405.80 L59.35 405.80 A4.15 4.15 0 0 0 59.15 404.52 Z" fill="#1a1a1a" stroke="#1a1a1a" stroke-width="0.45" stroke-linejoin="round"/><circle cx="66.15" cy="405.80" r="4.15" fill="#fff" stroke="#1a1a1a" stroke-width="0.6"/><path d="M66.15 405.80 L70.30 405.80 A4.15 4.15 0 0 0 70.10 404.52 Z" fill="#1a1a1a" stroke="#1a1a1a" stroke-width="0.45" stroke-linejoin="round"/><circle cx="83.50" cy="405.80" r="4.15" fill="#fff" stroke="#1a1a1a" stroke-width="0.6"/><path d="M83.50 405.80 L87.65 405.80 A4.15 4.15 0 0 0 87.45 404.52 Z" fill="#1a1a1a" stroke="#1a1a1a" stroke-width="0.45" stroke-linejoin="round"/><circle cx="94.45" cy="405.80" r="4.15" fill="#fff" stroke="#1a1a1a" stroke-width="0.6"/><path d="M94.45 405.80 L98.60 405.80 A4.15 4.15 0 0 0 98.40 404.52 Z" fill="#1a1a1a" stroke="#1a1a1a" stroke-width="0.45" stroke-linejoin="round"/><circle cx="105.40" cy="405.80" r="4.15" fill="#fff" stroke="#1a1a1a" stroke-width="0.6"/><path d="M105.40 405.80 L109.55 405.80 A4.15 4.15 0 0 0 109.35 404.52 Z" fill="#1a1a1a" stroke="#1a1a1a" stroke-width="0.45" stroke-linejoin="round"/><circle cx="116.35" cy="405.80" r="4.15" fill="#fff" stroke="#1a1a1a" stroke-width="0.6"/><path d="M116.35 405.80 L120.50 405.80 A4.15 4.15 0 0 0 120.30 404.52 Z" fill="#1a1a1a" stroke="#1a1a1a" stroke-width="0.45" stroke-linejoin="round"/><circle cx="127.30" cy="405.80" r="4.15" fill="#fff" stroke="#1a1a1a" stroke-width="0.6"/><path d="M127.30 405.80 L131.45 405.80 A4.15 4.15 0 0 0 131.25 404.52 Z" fill="#1a1a1a" stroke="#1a1a1a" stroke-width="0.45" stroke-linejoin="round"/><circle cx="138.25" cy="405.80" r="4.15" fill="#fff" stroke="#1a1a1a" stroke-width="0.6"/><path d="M138.25 405.80 L142.40 405.80 A4.15 4.15 0 0 0 142.20 404.52 Z" fill="#1a1a1a" stroke="#1a1a1a" stroke-width="0.45" stroke-linejoin="round"/><text x="152.90" y="406.90" font-size="8.6" fill="#333" textLength="33.60" lengthAdjust="spacingAndGlyphs">crypt12</text><circle cx="11.40" cy="418.30" r="4.15" fill="#fff" stroke="#1a1a1a" stroke-width="0.6"/><path d="M11.40 418.30 L15.55 418.30 A4.15 4.15 0 0 0 15.35 417.02 Z" fill="#1a1a1a" stroke="#1a1a1a" stroke-width="0.45" stroke-linejoin="round"/><circle cx="22.35" cy="418.30" r="4.15" fill="#fff" stroke="#1a1a1a" stroke-width="0.6"/><path d="M22.35 418.30 L26.50 418.30 A4.15 4.15 0 0 0 26.30 417.02 Z" fill="#1a1a1a" stroke="#1a1a1a" stroke-width="0.45" stroke-linejoin="round"/><circle cx="33.30" cy="418.30" r="4.15" fill="#fff" stroke="#1a1a1a" stroke-width="0.6"/><path d="M33.30 418.30 L37.45 418.30 A4.15 4.15 0 0 0 37.25 417.02 Z" fill="#1a1a1a" stroke="#1a1a1a" stroke-width="0.45" stroke-linejoin="round"/><circle cx="44.25" cy="418.30" r="4.15" fill="#fff" stroke="#1a1a1a" stroke-width="0.6"/><path d="M44.25 418.30 L48.40 418.30 A4.15 4.15 0 0 0 48.20 417.02 Z" fill="#1a1a1a" stroke="#1a1a1a" stroke-width="0.45" stroke-linejoin="round"/><circle cx="55.20" cy="418.30" r="4.15" fill="#fff" stroke="#1a1a1a" stroke-width="0.6"/><path d="M55.20 418.30 L59.35 418.30 A4.15 4.15 0 0 0 59.15 417.02 Z" fill="#1a1a1a" stroke="#1a1a1a" stroke-width="0.45" stroke-linejoin="round"/><circle cx="66.15" cy="418.30" r="4.15" fill="#fff" stroke="#1a1a1a" stroke-width="0.6"/><path d="M66.15 418.30 L70.30 418.30 A4.15 4.15 0 0 0 69.65 416.08 Z" fill="#1a1a1a" stroke="#1a1a1a" stroke-width="0.45" stroke-linejoin="round"/><line x1="85.80" y1="416.30" x2="89.80" y2="416.30" stroke="#666" stroke-width="0.75"/><line x1="96.75" y1="416.30" x2="100.75" y2="416.30" stroke="#666" stroke-width="0.75"/><line x1="107.70" y1="416.30" x2="111.70" y2="416.30" stroke="#666" stroke-width="0.75"/><line x1="118.65" y1="416.30" x2="122.65" y2="416.30" stroke="#666" stroke-width="0.75"/><line x1="129.60" y1="416.30" x2="133.60" y2="416.30" stroke="#666" stroke-width="0.75"/><line x1="140.55" y1="416.30" x2="144.55" y2="416.30" stroke="#666" stroke-width="0.75"/><text x="152.90" y="419.40" font-size="8.6" fill="#333" textLength="33.60" lengthAdjust="spacingAndGlyphs">crypt13</text><circle cx="11.40" cy="430.80" r="4.15" fill="#fff" stroke="#1a1a1a" stroke-width="0.6"/><path d="M11.40 430.80 L15.55 430.80 A4.15 4.15 0 0 0 15.35 429.52 Z" fill="#1a1a1a" stroke="#1a1a1a" stroke-width="0.45" stroke-linejoin="round"/><circle cx="22.35" cy="430.80" r="4.15" fill="#fff" stroke="#1a1a1a" stroke-width="0.6"/><path d="M22.35 430.80 L26.50 430.80 A4.15 4.15 0 0 0 26.30 429.52 Z" fill="#1a1a1a" stroke="#1a1a1a" stroke-width="0.45" stroke-linejoin="round"/><circle cx="33.30" cy="430.80" r="4.15" fill="#fff" stroke="#1a1a1a" stroke-width="0.6"/><path d="M33.30 430.80 L37.45 430.80 A4.15 4.15 0 0 0 37.25 429.52 Z" fill="#1a1a1a" stroke="#1a1a1a" stroke-width="0.45" stroke-linejoin="round"/><circle cx="44.25" cy="430.80" r="4.15" fill="#fff" stroke="#1a1a1a" stroke-width="0.6"/><path d="M44.25 430.80 L48.40 430.80 A4.15 4.15 0 0 0 48.20 429.52 Z" fill="#1a1a1a" stroke="#1a1a1a" stroke-width="0.45" stroke-linejoin="round"/><circle cx="55.20" cy="430.80" r="4.15" fill="#fff" stroke="#1a1a1a" stroke-width="0.6"/><path d="M55.20 430.80 L59.35 430.80 A4.15 4.15 0 0 0 59.15 429.52 Z" fill="#1a1a1a" stroke="#1a1a1a" stroke-width="0.45" stroke-linejoin="round"/><circle cx="66.15" cy="430.80" r="4.15" fill="#fff" stroke="#1a1a1a" stroke-width="0.6"/><path d="M66.15 430.80 L70.30 430.80 A4.15 4.15 0 0 0 69.65 428.58 Z" fill="#1a1a1a" stroke="#1a1a1a" stroke-width="0.45" stroke-linejoin="round"/><line x1="85.80" y1="428.80" x2="89.80" y2="428.80" stroke="#666" stroke-width="0.75"/><line x1="96.75" y1="428.80" x2="100.75" y2="428.80" stroke="#666" stroke-width="0.75"/><line x1="107.70" y1="428.80" x2="111.70" y2="428.80" stroke="#666" stroke-width="0.75"/><line x1="118.65" y1="428.80" x2="122.65" y2="428.80" stroke="#666" stroke-width="0.75"/><line x1="129.60" y1="428.80" x2="133.60" y2="428.80" stroke="#666" stroke-width="0.75"/><line x1="140.55" y1="428.80" x2="144.55" y2="428.80" stroke="#666" stroke-width="0.75"/><text x="152.90" y="431.90" font-size="8.6" fill="#333" textLength="33.60" lengthAdjust="spacingAndGlyphs">crypt14</text><circle cx="11.40" cy="443.30" r="4.15" fill="#fff" stroke="#1a1a1a" stroke-width="0.6"/><path d="M11.40 443.30 L15.55 443.30 A4.15 4.15 0 0 0 15.35 442.02 Z" fill="#1a1a1a" stroke="#1a1a1a" stroke-width="0.45" stroke-linejoin="round"/><circle cx="22.35" cy="443.30" r="4.15" fill="#fff" stroke="#1a1a1a" stroke-width="0.6"/><path d="M22.35 443.30 L26.50 443.30 A4.15 4.15 0 0 0 26.30 442.02 Z" fill="#1a1a1a" stroke="#1a1a1a" stroke-width="0.45" stroke-linejoin="round"/><circle cx="33.30" cy="443.30" r="4.15" fill="#fff" stroke="#1a1a1a" stroke-width="0.6"/><path d="M33.30 443.30 L37.45 443.30 A4.15 4.15 0 0 0 37.25 442.02 Z" fill="#1a1a1a" stroke="#1a1a1a" stroke-width="0.45" stroke-linejoin="round"/><circle cx="44.25" cy="443.30" r="4.15" fill="#fff" stroke="#1a1a1a" stroke-width="0.6"/><path d="M44.25 443.30 L48.40 443.30 A4.15 4.15 0 0 0 48.20 442.02 Z" fill="#1a1a1a" stroke="#1a1a1a" stroke-width="0.45" stroke-linejoin="round"/><circle cx="55.20" cy="443.30" r="4.15" fill="#fff" stroke="#1a1a1a" stroke-width="0.6"/><path d="M55.20 443.30 L59.35 443.30 A4.15 4.15 0 0 0 59.15 442.02 Z" fill="#1a1a1a" stroke="#1a1a1a" stroke-width="0.45" stroke-linejoin="round"/><circle cx="66.15" cy="443.30" r="4.15" fill="#fff" stroke="#1a1a1a" stroke-width="0.6"/><path d="M66.15 443.30 L70.30 443.30 A4.15 4.15 0 0 0 69.65 441.08 Z" fill="#1a1a1a" stroke="#1a1a1a" stroke-width="0.45" stroke-linejoin="round"/><line x1="85.80" y1="441.30" x2="89.80" y2="441.30" stroke="#666" stroke-width="0.75"/><line x1="96.75" y1="441.30" x2="100.75" y2="441.30" stroke="#666" stroke-width="0.75"/><line x1="107.70" y1="441.30" x2="111.70" y2="441.30" stroke="#666" stroke-width="0.75"/><line x1="118.65" y1="441.30" x2="122.65" y2="441.30" stroke="#666" stroke-width="0.75"/><line x1="129.60" y1="441.30" x2="133.60" y2="441.30" stroke="#666" stroke-width="0.75"/><line x1="140.55" y1="441.30" x2="144.55" y2="441.30" stroke="#666" stroke-width="0.75"/><text x="152.90" y="444.40" font-size="8.6" fill="#333" textLength="33.60" lengthAdjust="spacingAndGlyphs">crypt15</text><circle cx="11.40" cy="455.80" r="4.15" fill="#fff" stroke="#1a1a1a" stroke-width="0.6"/><path d="M11.40 455.80 L15.55 455.80 A4.15 4.15 0 0 0 15.35 454.52 Z" fill="#1a1a1a" stroke="#1a1a1a" stroke-width="0.45" stroke-linejoin="round"/><circle cx="22.35" cy="455.80" r="4.15" fill="#fff" stroke="#1a1a1a" stroke-width="0.6"/><path d="M22.35 455.80 L26.50 455.80 A4.15 4.15 0 0 0 26.30 454.52 Z" fill="#1a1a1a" stroke="#1a1a1a" stroke-width="0.45" stroke-linejoin="round"/><circle cx="33.30" cy="455.80" r="4.15" fill="#fff" stroke="#1a1a1a" stroke-width="0.6"/><path d="M33.30 455.80 L37.45 455.80 A4.15 4.15 0 0 0 37.25 454.52 Z" fill="#1a1a1a" stroke="#1a1a1a" stroke-width="0.45" stroke-linejoin="round"/><circle cx="44.25" cy="455.80" r="4.15" fill="#fff" stroke="#1a1a1a" stroke-width="0.6"/><path d="M44.25 455.80 L48.40 455.80 A4.15 4.15 0 0 0 48.20 454.52 Z" fill="#1a1a1a" stroke="#1a1a1a" stroke-width="0.45" stroke-linejoin="round"/><circle cx="55.20" cy="455.80" r="4.15" fill="#fff" stroke="#1a1a1a" stroke-width="0.6"/><path d="M55.20 455.80 L59.35 455.80 A4.15 4.15 0 0 0 59.15 454.52 Z" fill="#1a1a1a" stroke="#1a1a1a" stroke-width="0.45" stroke-linejoin="round"/><circle cx="66.15" cy="455.80" r="4.15" fill="#fff" stroke="#1a1a1a" stroke-width="0.6"/><path d="M66.15 455.80 L70.30 455.80 A4.15 4.15 0 0 0 69.65 453.58 Z" fill="#1a1a1a" stroke="#1a1a1a" stroke-width="0.45" stroke-linejoin="round"/><line x1="85.80" y1="453.80" x2="89.80" y2="453.80" stroke="#666" stroke-width="0.75"/><line x1="96.75" y1="453.80" x2="100.75" y2="453.80" stroke="#666" stroke-width="0.75"/><line x1="107.70" y1="453.80" x2="111.70" y2="453.80" stroke="#666" stroke-width="0.75"/><line x1="118.65" y1="453.80" x2="122.65" y2="453.80" stroke="#666" stroke-width="0.75"/><line x1="129.60" y1="453.80" x2="133.60" y2="453.80" stroke="#666" stroke-width="0.75"/><line x1="140.55" y1="453.80" x2="144.55" y2="453.80" stroke="#666" stroke-width="0.75"/><text x="152.90" y="456.90" font-size="8.6" fill="#333" textLength="33.60" lengthAdjust="spacingAndGlyphs">crypt16</text><circle cx="11.40" cy="468.30" r="4.15" fill="#fff" stroke="#1a1a1a" stroke-width="0.6"/><path d="M11.40 468.30 L15.55 468.30 A4.15 4.15 0 0 0 15.35 467.02 Z" fill="#1a1a1a" stroke="#1a1a1a" stroke-width="0.45" stroke-linejoin="round"/><circle cx="22.35" cy="468.30" r="4.15" fill="#fff" stroke="#1a1a1a" stroke-width="0.6"/><path d="M22.35 468.30 L26.50 468.30 A4.15 4.15 0 0 0 26.30 467.02 Z" fill="#1a1a1a" stroke="#1a1a1a" stroke-width="0.45" stroke-linejoin="round"/><circle cx="33.30" cy="468.30" r="4.15" fill="#fff" stroke="#1a1a1a" stroke-width="0.6"/><path d="M33.30 468.30 L37.45 468.30 A4.15 4.15 0 0 0 37.25 467.02 Z" fill="#1a1a1a" stroke="#1a1a1a" stroke-width="0.45" stroke-linejoin="round"/><circle cx="44.25" cy="468.30" r="4.15" fill="#fff" stroke="#1a1a1a" stroke-width="0.6"/><path d="M44.25 468.30 L48.40 468.30 A4.15 4.15 0 0 0 48.20 467.02 Z" fill="#1a1a1a" stroke="#1a1a1a" stroke-width="0.45" stroke-linejoin="round"/><circle cx="55.20" cy="468.30" r="4.15" fill="#fff" stroke="#1a1a1a" stroke-width="0.6"/><path d="M55.20 468.30 L59.35 468.30 A4.15 4.15 0 0 0 55.20 464.15 Z" fill="#1a1a1a" stroke="#1a1a1a" stroke-width="0.45" stroke-linejoin="round"/><circle cx="66.15" cy="468.30" r="4.15" fill="#fff" stroke="#1a1a1a" stroke-width="0.6"/><path d="M66.15 468.30 L70.30 468.30 A4.15 4.15 0 0 0 63.31 465.27 Z" fill="#1a1a1a" stroke="#1a1a1a" stroke-width="0.45" stroke-linejoin="round"/><circle cx="83.50" cy="468.30" r="4.15" fill="#fff" stroke="#1a1a1a" stroke-width="0.6"/><path d="M83.50 468.30 L87.65 468.30 A4.15 4.15 0 0 0 87.45 467.02 Z" fill="#1a1a1a" stroke="#1a1a1a" stroke-width="0.45" stroke-linejoin="round"/><circle cx="94.45" cy="468.30" r="4.15" fill="#fff" stroke="#1a1a1a" stroke-width="0.6"/><path d="M94.45 468.30 L98.60 468.30 A4.15 4.15 0 0 0 98.40 467.02 Z" fill="#1a1a1a" stroke="#1a1a1a" stroke-width="0.45" stroke-linejoin="round"/><circle cx="105.40" cy="468.30" r="4.15" fill="#fff" stroke="#1a1a1a" stroke-width="0.6"/><path d="M105.40 468.30 L109.55 468.30 A4.15 4.15 0 0 0 109.35 467.02 Z" fill="#1a1a1a" stroke="#1a1a1a" stroke-width="0.45" stroke-linejoin="round"/><circle cx="116.35" cy="468.30" r="4.15" fill="#fff" stroke="#1a1a1a" stroke-width="0.6"/><path d="M116.35 468.30 L120.50 468.30 A4.15 4.15 0 0 0 119.85 466.08 Z" fill="#1a1a1a" stroke="#1a1a1a" stroke-width="0.45" stroke-linejoin="round"/><circle cx="127.30" cy="468.30" r="4.15" fill="#fff" stroke="#1a1a1a" stroke-width="0.6"/><path d="M127.30 468.30 L131.45 468.30 A4.15 4.15 0 0 0 123.15 468.30 Z" fill="#1a1a1a" stroke="#1a1a1a" stroke-width="0.45" stroke-linejoin="round"/><circle cx="138.25" cy="468.30" r="4.15" fill="#fff" stroke="#1a1a1a" stroke-width="0.6"/><path d="M138.25 468.30 L142.40 468.30 A4.15 4.15 0 0 0 134.10 468.30 Z" fill="#1a1a1a" stroke="#1a1a1a" stroke-width="0.45" stroke-linejoin="round"/><text x="152.90" y="469.40" font-size="8.6" fill="#333" textLength="33.60" lengthAdjust="spacingAndGlyphs">crypt17</text><line x1="13.70" y1="478.80" x2="17.70" y2="478.80" stroke="#666" stroke-width="0.75"/><line x1="24.65" y1="478.80" x2="28.65" y2="478.80" stroke="#666" stroke-width="0.75"/><line x1="35.60" y1="478.80" x2="39.60" y2="478.80" stroke="#666" stroke-width="0.75"/><line x1="46.55" y1="478.80" x2="50.55" y2="478.80" stroke="#666" stroke-width="0.75"/><line x1="57.50" y1="478.80" x2="61.50" y2="478.80" stroke="#666" stroke-width="0.75"/><line x1="68.45" y1="478.80" x2="72.45" y2="478.80" stroke="#666" stroke-width="0.75"/><line x1="85.80" y1="478.80" x2="89.80" y2="478.80" stroke="#666" stroke-width="0.75"/><line x1="96.75" y1="478.80" x2="100.75" y2="478.80" stroke="#666" stroke-width="0.75"/><line x1="107.70" y1="478.80" x2="111.70" y2="478.80" stroke="#666" stroke-width="0.75"/><line x1="118.65" y1="478.80" x2="122.65" y2="478.80" stroke="#666" stroke-width="0.75"/><line x1="129.60" y1="478.80" x2="133.60" y2="478.80" stroke="#666" stroke-width="0.75"/><line x1="140.55" y1="478.80" x2="144.55" y2="478.80" stroke="#666" stroke-width="0.75"/><text x="152.90" y="481.90" font-size="8.6" fill="#333" textLength="33.60" lengthAdjust="spacingAndGlyphs">crypt18</text><circle cx="11.40" cy="493.30" r="4.15" fill="#fff" stroke="#1a1a1a" stroke-width="0.6"/><path d="M11.40 493.30 L15.55 493.30 A4.15 4.15 0 0 0 15.35 492.02 Z" fill="#1a1a1a" stroke="#1a1a1a" stroke-width="0.45" stroke-linejoin="round"/><circle cx="22.35" cy="493.30" r="4.15" fill="#fff" stroke="#1a1a1a" stroke-width="0.6"/><path d="M22.35 493.30 L26.50 493.30 A4.15 4.15 0 0 0 26.30 492.02 Z" fill="#1a1a1a" stroke="#1a1a1a" stroke-width="0.45" stroke-linejoin="round"/><circle cx="33.30" cy="493.30" r="4.15" fill="#fff" stroke="#1a1a1a" stroke-width="0.6"/><path d="M33.30 493.30 L37.45 493.30 A4.15 4.15 0 0 0 37.25 492.02 Z" fill="#1a1a1a" stroke="#1a1a1a" stroke-width="0.45" stroke-linejoin="round"/><circle cx="44.25" cy="493.30" r="4.15" fill="#fff" stroke="#1a1a1a" stroke-width="0.6"/><path d="M44.25 493.30 L48.40 493.30 A4.15 4.15 0 0 0 48.20 492.02 Z" fill="#1a1a1a" stroke="#1a1a1a" stroke-width="0.45" stroke-linejoin="round"/><circle cx="55.20" cy="493.30" r="4.15" fill="#fff" stroke="#1a1a1a" stroke-width="0.6"/><path d="M55.20 493.30 L59.35 493.30 A4.15 4.15 0 0 0 59.15 492.02 Z" fill="#1a1a1a" stroke="#1a1a1a" stroke-width="0.45" stroke-linejoin="round"/><circle cx="66.15" cy="493.30" r="4.15" fill="#fff" stroke="#1a1a1a" stroke-width="0.6"/><path d="M66.15 493.30 L70.30 493.30 A4.15 4.15 0 0 0 70.10 492.02 Z" fill="#1a1a1a" stroke="#1a1a1a" stroke-width="0.45" stroke-linejoin="round"/><line x1="85.80" y1="491.30" x2="89.80" y2="491.30" stroke="#666" stroke-width="0.75"/><line x1="96.75" y1="491.30" x2="100.75" y2="491.30" stroke="#666" stroke-width="0.75"/><line x1="107.70" y1="491.30" x2="111.70" y2="491.30" stroke="#666" stroke-width="0.75"/><line x1="118.65" y1="491.30" x2="122.65" y2="491.30" stroke="#666" stroke-width="0.75"/><line x1="129.60" y1="491.30" x2="133.60" y2="491.30" stroke="#666" stroke-width="0.75"/><line x1="140.55" y1="491.30" x2="144.55" y2="491.30" stroke="#666" stroke-width="0.75"/><text x="152.90" y="494.40" font-size="8.6" fill="#333" textLength="33.60" lengthAdjust="spacingAndGlyphs">crypt19</text><circle cx="11.40" cy="505.80" r="4.15" fill="#fff" stroke="#1a1a1a" stroke-width="0.6"/><path d="M11.40 505.80 L15.55 505.80 A4.15 4.15 0 0 0 15.35 504.52 Z" fill="#1a1a1a" stroke="#1a1a1a" stroke-width="0.45" stroke-linejoin="round"/><circle cx="22.35" cy="505.80" r="4.15" fill="#fff" stroke="#1a1a1a" stroke-width="0.6"/><path d="M22.35 505.80 L26.50 505.80 A4.15 4.15 0 0 0 26.30 504.52 Z" fill="#1a1a1a" stroke="#1a1a1a" stroke-width="0.45" stroke-linejoin="round"/><circle cx="33.30" cy="505.80" r="4.15" fill="#fff" stroke="#1a1a1a" stroke-width="0.6"/><path d="M33.30 505.80 L37.45 505.80 A4.15 4.15 0 0 0 37.25 504.52 Z" fill="#1a1a1a" stroke="#1a1a1a" stroke-width="0.45" stroke-linejoin="round"/><circle cx="44.25" cy="505.80" r="4.15" fill="#fff" stroke="#1a1a1a" stroke-width="0.6"/><path d="M44.25 505.80 L48.40 505.80 A4.15 4.15 0 0 0 48.20 504.52 Z" fill="#1a1a1a" stroke="#1a1a1a" stroke-width="0.45" stroke-linejoin="round"/><circle cx="55.20" cy="505.80" r="4.15" fill="#fff" stroke="#1a1a1a" stroke-width="0.6"/><path d="M55.20 505.80 L59.35 505.80 A4.15 4.15 0 0 0 59.15 504.52 Z" fill="#1a1a1a" stroke="#1a1a1a" stroke-width="0.45" stroke-linejoin="round"/><circle cx="66.15" cy="505.80" r="4.15" fill="#fff" stroke="#1a1a1a" stroke-width="0.6"/><path d="M66.15 505.80 L70.30 505.80 A4.15 4.15 0 0 0 70.10 504.52 Z" fill="#1a1a1a" stroke="#1a1a1a" stroke-width="0.45" stroke-linejoin="round"/><circle cx="83.50" cy="505.80" r="4.15" fill="#fff" stroke="#1a1a1a" stroke-width="0.6"/><path d="M83.50 505.80 L87.65 505.80 A4.15 4.15 0 0 0 79.35 505.80 Z" fill="#1a1a1a" stroke="#1a1a1a" stroke-width="0.45" stroke-linejoin="round"/><circle cx="94.45" cy="505.80" r="4.15" fill="#fff" stroke="#1a1a1a" stroke-width="0.6"/><path d="M94.45 505.80 L98.60 505.80 A4.15 4.15 0 0 0 98.40 504.52 Z" fill="#1a1a1a" stroke="#1a1a1a" stroke-width="0.45" stroke-linejoin="round"/><circle cx="105.40" cy="505.80" r="4.15" fill="#fff" stroke="#1a1a1a" stroke-width="0.6"/><path d="M105.40 505.80 L109.55 505.80 A4.15 4.15 0 0 0 109.35 504.52 Z" fill="#1a1a1a" stroke="#1a1a1a" stroke-width="0.45" stroke-linejoin="round"/><circle cx="116.35" cy="505.80" r="4.15" fill="#fff" stroke="#1a1a1a" stroke-width="0.6"/><path d="M116.35 505.80 L120.50 505.80 A4.15 4.15 0 0 0 120.30 504.52 Z" fill="#1a1a1a" stroke="#1a1a1a" stroke-width="0.45" stroke-linejoin="round"/><circle cx="127.30" cy="505.80" r="4.15" fill="#fff" stroke="#1a1a1a" stroke-width="0.6"/><path d="M127.30 505.80 L131.45 505.80 A4.15 4.15 0 0 0 131.25 504.52 Z" fill="#1a1a1a" stroke="#1a1a1a" stroke-width="0.45" stroke-linejoin="round"/><circle cx="138.25" cy="505.80" r="4.15" fill="#fff" stroke="#1a1a1a" stroke-width="0.6"/><path d="M138.25 505.80 L142.40 505.80 A4.15 4.15 0 0 0 142.20 504.52 Z" fill="#1a1a1a" stroke="#1a1a1a" stroke-width="0.45" stroke-linejoin="round"/><text x="152.90" y="506.90" font-size="8.6" fill="#333" textLength="33.60" lengthAdjust="spacingAndGlyphs">crypt20</text><circle cx="11.40" cy="518.30" r="4.15" fill="#fff" stroke="#1a1a1a" stroke-width="0.6"/><path d="M11.40 518.30 L15.55 518.30 A4.15 4.15 0 0 0 15.35 517.02 Z" fill="#1a1a1a" stroke="#1a1a1a" stroke-width="0.45" stroke-linejoin="round"/><circle cx="22.35" cy="518.30" r="4.15" fill="#fff" stroke="#1a1a1a" stroke-width="0.6"/><path d="M22.35 518.30 L26.50 518.30 A4.15 4.15 0 0 0 26.30 517.02 Z" fill="#1a1a1a" stroke="#1a1a1a" stroke-width="0.45" stroke-linejoin="round"/><circle cx="33.30" cy="518.30" r="4.15" fill="#fff" stroke="#1a1a1a" stroke-width="0.6"/><path d="M33.30 518.30 L37.45 518.30 A4.15 4.15 0 0 0 37.25 517.02 Z" fill="#1a1a1a" stroke="#1a1a1a" stroke-width="0.45" stroke-linejoin="round"/><circle cx="44.25" cy="518.30" r="4.15" fill="#fff" stroke="#1a1a1a" stroke-width="0.6"/><path d="M44.25 518.30 L48.40 518.30 A4.15 4.15 0 0 0 48.20 517.02 Z" fill="#1a1a1a" stroke="#1a1a1a" stroke-width="0.45" stroke-linejoin="round"/><circle cx="55.20" cy="518.30" r="4.15" fill="#fff" stroke="#1a1a1a" stroke-width="0.6"/><path d="M55.20 518.30 L59.35 518.30 A4.15 4.15 0 0 0 59.15 517.02 Z" fill="#1a1a1a" stroke="#1a1a1a" stroke-width="0.45" stroke-linejoin="round"/><circle cx="66.15" cy="518.30" r="4.15" fill="#fff" stroke="#1a1a1a" stroke-width="0.6"/><path d="M66.15 518.30 L70.30 518.30 A4.15 4.15 0 0 0 70.10 517.02 Z" fill="#1a1a1a" stroke="#1a1a1a" stroke-width="0.45" stroke-linejoin="round"/><circle cx="83.50" cy="518.30" r="4.15" fill="#fff" stroke="#1a1a1a" stroke-width="0.6"/><path d="M83.50 518.30 L87.65 518.30 A4.15 4.15 0 0 0 87.45 517.02 Z" fill="#1a1a1a" stroke="#1a1a1a" stroke-width="0.45" stroke-linejoin="round"/><circle cx="94.45" cy="518.30" r="4.15" fill="#fff" stroke="#1a1a1a" stroke-width="0.6"/><path d="M94.45 518.30 L98.60 518.30 A4.15 4.15 0 0 0 98.40 517.02 Z" fill="#1a1a1a" stroke="#1a1a1a" stroke-width="0.45" stroke-linejoin="round"/><circle cx="105.40" cy="518.30" r="4.15" fill="#fff" stroke="#1a1a1a" stroke-width="0.6"/><path d="M105.40 518.30 L109.55 518.30 A4.15 4.15 0 0 0 108.90 516.08 Z" fill="#1a1a1a" stroke="#1a1a1a" stroke-width="0.45" stroke-linejoin="round"/><circle cx="116.35" cy="518.30" r="4.15" fill="#fff" stroke="#1a1a1a" stroke-width="0.6"/><path d="M116.35 518.30 L120.50 518.30 A4.15 4.15 0 0 0 119.85 516.08 Z" fill="#1a1a1a" stroke="#1a1a1a" stroke-width="0.45" stroke-linejoin="round"/><circle cx="127.30" cy="518.30" r="4.15" fill="#fff" stroke="#1a1a1a" stroke-width="0.6"/><path d="M127.30 518.30 L131.45 518.30 A4.15 4.15 0 0 0 123.15 518.30 Z" fill="#1a1a1a" stroke="#1a1a1a" stroke-width="0.45" stroke-linejoin="round"/><circle cx="138.25" cy="518.30" r="4.15" fill="#fff" stroke="#1a1a1a" stroke-width="0.6"/><path d="M138.25 518.30 L142.40 518.30 A4.15 4.15 0 0 0 134.10 518.30 Z" fill="#1a1a1a" stroke="#1a1a1a" stroke-width="0.45" stroke-linejoin="round"/><text x="152.90" y="519.40" font-size="8.6" fill="#333" textLength="33.60" lengthAdjust="spacingAndGlyphs">crypt21</text><circle cx="11.40" cy="530.80" r="4.15" fill="#fff" stroke="#1a1a1a" stroke-width="0.6"/><path d="M11.40 530.80 L15.55 530.80 A4.15 4.15 0 0 0 15.35 529.52 Z" fill="#1a1a1a" stroke="#1a1a1a" stroke-width="0.45" stroke-linejoin="round"/><circle cx="22.35" cy="530.80" r="4.15" fill="#fff" stroke="#1a1a1a" stroke-width="0.6"/><path d="M22.35 530.80 L26.50 530.80 A4.15 4.15 0 0 0 26.30 529.52 Z" fill="#1a1a1a" stroke="#1a1a1a" stroke-width="0.45" stroke-linejoin="round"/><circle cx="33.30" cy="530.80" r="4.15" fill="#fff" stroke="#1a1a1a" stroke-width="0.6"/><path d="M33.30 530.80 L37.45 530.80 A4.15 4.15 0 0 0 37.25 529.52 Z" fill="#1a1a1a" stroke="#1a1a1a" stroke-width="0.45" stroke-linejoin="round"/><circle cx="44.25" cy="530.80" r="4.15" fill="#fff" stroke="#1a1a1a" stroke-width="0.6"/><path d="M44.25 530.80 L48.40 530.80 A4.15 4.15 0 0 0 48.20 529.52 Z" fill="#1a1a1a" stroke="#1a1a1a" stroke-width="0.45" stroke-linejoin="round"/><circle cx="55.20" cy="530.80" r="4.15" fill="#fff" stroke="#1a1a1a" stroke-width="0.6"/><path d="M55.20 530.80 L59.35 530.80 A4.15 4.15 0 0 0 59.15 529.52 Z" fill="#1a1a1a" stroke="#1a1a1a" stroke-width="0.45" stroke-linejoin="round"/><circle cx="66.15" cy="530.80" r="4.15" fill="#fff" stroke="#1a1a1a" stroke-width="0.6"/><path d="M66.15 530.80 L70.30 530.80 A4.15 4.15 0 0 0 70.10 529.52 Z" fill="#1a1a1a" stroke="#1a1a1a" stroke-width="0.45" stroke-linejoin="round"/><circle cx="83.50" cy="530.80" r="4.15" fill="#fff" stroke="#1a1a1a" stroke-width="0.6"/><path d="M83.50 530.80 L87.65 530.80 A4.15 4.15 0 0 0 87.45 529.52 Z" fill="#1a1a1a" stroke="#1a1a1a" stroke-width="0.45" stroke-linejoin="round"/><circle cx="94.45" cy="530.80" r="4.15" fill="#fff" stroke="#1a1a1a" stroke-width="0.6"/><path d="M94.45 530.80 L98.60 530.80 A4.15 4.15 0 0 0 98.40 529.52 Z" fill="#1a1a1a" stroke="#1a1a1a" stroke-width="0.45" stroke-linejoin="round"/><circle cx="105.40" cy="530.80" r="4.15" fill="#fff" stroke="#1a1a1a" stroke-width="0.6"/><path d="M105.40 530.80 L109.55 530.80 A4.15 4.15 0 0 0 109.35 529.52 Z" fill="#1a1a1a" stroke="#1a1a1a" stroke-width="0.45" stroke-linejoin="round"/><circle cx="116.35" cy="530.80" r="4.15" fill="#fff" stroke="#1a1a1a" stroke-width="0.6"/><path d="M116.35 530.80 L120.50 530.80 A4.15 4.15 0 0 0 112.20 530.80 Z" fill="#1a1a1a" stroke="#1a1a1a" stroke-width="0.45" stroke-linejoin="round"/><circle cx="127.30" cy="530.80" r="4.15" fill="#fff" stroke="#1a1a1a" stroke-width="0.6"/><path d="M127.30 530.80 L131.45 530.80 A4.15 4.15 0 0 0 123.15 530.80 Z" fill="#1a1a1a" stroke="#1a1a1a" stroke-width="0.45" stroke-linejoin="round"/><circle cx="138.25" cy="530.80" r="4.15" fill="#fff" stroke="#1a1a1a" stroke-width="0.6"/><path d="M138.25 530.80 L142.40 530.80 A4.15 4.15 0 0 0 134.10 530.80 Z" fill="#1a1a1a" stroke="#1a1a1a" stroke-width="0.45" stroke-linejoin="round"/><text x="152.90" y="531.90" font-size="8.6" fill="#333" textLength="33.60" lengthAdjust="spacingAndGlyphs">crypt22</text><circle cx="11.40" cy="543.30" r="4.15" fill="#fff" stroke="#1a1a1a" stroke-width="0.6"/><path d="M11.40 543.30 L15.55 543.30 A4.15 4.15 0 0 0 15.35 542.02 Z" fill="#1a1a1a" stroke="#1a1a1a" stroke-width="0.45" stroke-linejoin="round"/><circle cx="22.35" cy="543.30" r="4.15" fill="#fff" stroke="#1a1a1a" stroke-width="0.6"/><path d="M22.35 543.30 L26.50 543.30 A4.15 4.15 0 0 0 26.30 542.02 Z" fill="#1a1a1a" stroke="#1a1a1a" stroke-width="0.45" stroke-linejoin="round"/><circle cx="33.30" cy="543.30" r="4.15" fill="#fff" stroke="#1a1a1a" stroke-width="0.6"/><path d="M33.30 543.30 L37.45 543.30 A4.15 4.15 0 0 0 37.25 542.02 Z" fill="#1a1a1a" stroke="#1a1a1a" stroke-width="0.45" stroke-linejoin="round"/><circle cx="44.25" cy="543.30" r="4.15" fill="#fff" stroke="#1a1a1a" stroke-width="0.6"/><path d="M44.25 543.30 L48.40 543.30 A4.15 4.15 0 0 0 48.20 542.02 Z" fill="#1a1a1a" stroke="#1a1a1a" stroke-width="0.45" stroke-linejoin="round"/><circle cx="55.20" cy="543.30" r="4.15" fill="#fff" stroke="#1a1a1a" stroke-width="0.6"/><path d="M55.20 543.30 L59.35 543.30 A4.15 4.15 0 0 0 59.15 542.02 Z" fill="#1a1a1a" stroke="#1a1a1a" stroke-width="0.45" stroke-linejoin="round"/><circle cx="66.15" cy="543.30" r="4.15" fill="#fff" stroke="#1a1a1a" stroke-width="0.6"/><path d="M66.15 543.30 L70.30 543.30 A4.15 4.15 0 0 0 70.10 542.02 Z" fill="#1a1a1a" stroke="#1a1a1a" stroke-width="0.45" stroke-linejoin="round"/><circle cx="83.50" cy="543.30" r="4.15" fill="#fff" stroke="#1a1a1a" stroke-width="0.6"/><path d="M83.50 543.30 L87.65 543.30 A4.15 4.15 0 0 0 87.45 542.02 Z" fill="#1a1a1a" stroke="#1a1a1a" stroke-width="0.45" stroke-linejoin="round"/><circle cx="94.45" cy="543.30" r="4.15" fill="#fff" stroke="#1a1a1a" stroke-width="0.6"/><path d="M94.45 543.30 L98.60 543.30 A4.15 4.15 0 0 0 90.30 543.30 Z" fill="#1a1a1a" stroke="#1a1a1a" stroke-width="0.45" stroke-linejoin="round"/><circle cx="105.40" cy="543.30" r="4.15" fill="#fff" stroke="#1a1a1a" stroke-width="0.6"/><path d="M105.40 543.30 L109.55 543.30 A4.15 4.15 0 0 0 101.25 543.30 Z" fill="#1a1a1a" stroke="#1a1a1a" stroke-width="0.45" stroke-linejoin="round"/><circle cx="116.35" cy="543.30" r="4.15" fill="#fff" stroke="#1a1a1a" stroke-width="0.6"/><path d="M116.35 543.30 L120.50 543.30 A4.15 4.15 0 0 0 112.20 543.30 Z" fill="#1a1a1a" stroke="#1a1a1a" stroke-width="0.45" stroke-linejoin="round"/><circle cx="127.30" cy="543.30" r="4.15" fill="#fff" stroke="#1a1a1a" stroke-width="0.6"/><path d="M127.30 543.30 L131.45 543.30 A4.15 4.15 0 0 0 123.15 543.30 Z" fill="#1a1a1a" stroke="#1a1a1a" stroke-width="0.45" stroke-linejoin="round"/><circle cx="138.25" cy="543.30" r="4.15" fill="#fff" stroke="#1a1a1a" stroke-width="0.6"/><path d="M138.25 543.30 L142.40 543.30 A4.15 4.15 0 1 0 142.27 544.33 Z" fill="#1a1a1a" stroke="#1a1a1a" stroke-width="0.45" stroke-linejoin="round"/><text x="152.90" y="544.40" font-size="8.6" fill="#333" textLength="33.60" lengthAdjust="spacingAndGlyphs">crypt23</text><circle cx="11.40" cy="555.80" r="4.15" fill="#fff" stroke="#1a1a1a" stroke-width="0.6"/><path d="M11.40 555.80 L15.55 555.80 A4.15 4.15 0 0 0 15.35 554.52 Z" fill="#1a1a1a" stroke="#1a1a1a" stroke-width="0.45" stroke-linejoin="round"/><circle cx="22.35" cy="555.80" r="4.15" fill="#fff" stroke="#1a1a1a" stroke-width="0.6"/><path d="M22.35 555.80 L26.50 555.80 A4.15 4.15 0 0 0 26.30 554.52 Z" fill="#1a1a1a" stroke="#1a1a1a" stroke-width="0.45" stroke-linejoin="round"/><circle cx="33.30" cy="555.80" r="4.15" fill="#fff" stroke="#1a1a1a" stroke-width="0.6"/><path d="M33.30 555.80 L37.45 555.80 A4.15 4.15 0 0 0 37.25 554.52 Z" fill="#1a1a1a" stroke="#1a1a1a" stroke-width="0.45" stroke-linejoin="round"/><circle cx="44.25" cy="555.80" r="4.15" fill="#fff" stroke="#1a1a1a" stroke-width="0.6"/><path d="M44.25 555.80 L48.40 555.80 A4.15 4.15 0 0 0 48.20 554.52 Z" fill="#1a1a1a" stroke="#1a1a1a" stroke-width="0.45" stroke-linejoin="round"/><circle cx="55.20" cy="555.80" r="4.15" fill="#fff" stroke="#1a1a1a" stroke-width="0.6"/><path d="M55.20 555.80 L59.35 555.80 A4.15 4.15 0 0 0 59.15 554.52 Z" fill="#1a1a1a" stroke="#1a1a1a" stroke-width="0.45" stroke-linejoin="round"/><circle cx="66.15" cy="555.80" r="4.15" fill="#fff" stroke="#1a1a1a" stroke-width="0.6"/><path d="M66.15 555.80 L70.30 555.80 A4.15 4.15 0 0 0 70.10 554.52 Z" fill="#1a1a1a" stroke="#1a1a1a" stroke-width="0.45" stroke-linejoin="round"/><circle cx="83.50" cy="555.80" r="4.15" fill="#fff" stroke="#1a1a1a" stroke-width="0.6"/><path d="M83.50 555.80 L87.65 555.80 A4.15 4.15 0 0 0 79.35 555.80 Z" fill="#1a1a1a" stroke="#1a1a1a" stroke-width="0.45" stroke-linejoin="round"/><circle cx="94.45" cy="555.80" r="4.15" fill="#fff" stroke="#1a1a1a" stroke-width="0.6"/><path d="M94.45 555.80 L98.60 555.80 A4.15 4.15 0 0 0 90.30 555.80 Z" fill="#1a1a1a" stroke="#1a1a1a" stroke-width="0.45" stroke-linejoin="round"/><circle cx="105.40" cy="555.80" r="4.15" fill="#fff" stroke="#1a1a1a" stroke-width="0.6"/><path d="M105.40 555.80 L109.55 555.80 A4.15 4.15 0 1 0 105.40 559.95 Z" fill="#1a1a1a" stroke="#1a1a1a" stroke-width="0.45" stroke-linejoin="round"/><circle cx="116.35" cy="555.80" r="4.15" fill="#fff" stroke="#1a1a1a" stroke-width="0.6"/><path d="M116.35 555.80 L120.50 555.80 A4.15 4.15 0 1 0 119.38 558.64 Z" fill="#1a1a1a" stroke="#1a1a1a" stroke-width="0.45" stroke-linejoin="round"/><circle cx="127.30" cy="555.80" r="4.15" fill="#fff" stroke="#1a1a1a" stroke-width="0.6"/><path d="M127.30 555.80 L131.45 555.80 A4.15 4.15 0 0 0 129.52 552.30 Z" fill="#1a1a1a" stroke="#1a1a1a" stroke-width="0.45" stroke-linejoin="round"/><circle cx="138.25" cy="555.80" r="4.15" fill="#fff" stroke="#1a1a1a" stroke-width="0.6"/><path d="M138.25 555.80 L142.40 555.80 A4.15 4.15 0 1 0 141.28 558.64 Z" fill="#1a1a1a" stroke="#1a1a1a" stroke-width="0.45" stroke-linejoin="round"/><text x="152.90" y="556.90" font-size="8.6" fill="#333" textLength="33.60" lengthAdjust="spacingAndGlyphs">crypt24</text><line x1="13.70" y1="566.30" x2="17.70" y2="566.30" stroke="#666" stroke-width="0.75"/><line x1="24.65" y1="566.30" x2="28.65" y2="566.30" stroke="#666" stroke-width="0.75"/><line x1="35.60" y1="566.30" x2="39.60" y2="566.30" stroke="#666" stroke-width="0.75"/><line x1="46.55" y1="566.30" x2="50.55" y2="566.30" stroke="#666" stroke-width="0.75"/><line x1="57.50" y1="566.30" x2="61.50" y2="566.30" stroke="#666" stroke-width="0.75"/><line x1="68.45" y1="566.30" x2="72.45" y2="566.30" stroke="#666" stroke-width="0.75"/><circle cx="83.50" cy="568.30" r="4.15" fill="#fff" stroke="#1a1a1a" stroke-width="0.6"/><path d="M83.50 568.30 L87.65 568.30 A4.15 4.15 0 0 0 87.45 567.02 Z" fill="#1a1a1a" stroke="#1a1a1a" stroke-width="0.45" stroke-linejoin="round"/><circle cx="94.45" cy="568.30" r="4.15" fill="#fff" stroke="#1a1a1a" stroke-width="0.6"/><path d="M94.45 568.30 L98.60 568.30 A4.15 4.15 0 0 0 98.40 567.02 Z" fill="#1a1a1a" stroke="#1a1a1a" stroke-width="0.45" stroke-linejoin="round"/><circle cx="105.40" cy="568.30" r="4.15" fill="#fff" stroke="#1a1a1a" stroke-width="0.6"/><path d="M105.40 568.30 L109.55 568.30 A4.15 4.15 0 0 0 109.35 567.02 Z" fill="#1a1a1a" stroke="#1a1a1a" stroke-width="0.45" stroke-linejoin="round"/><circle cx="116.35" cy="568.30" r="4.15" fill="#fff" stroke="#1a1a1a" stroke-width="0.6"/><path d="M116.35 568.30 L120.50 568.30 A4.15 4.15 0 0 0 120.30 567.02 Z" fill="#1a1a1a" stroke="#1a1a1a" stroke-width="0.45" stroke-linejoin="round"/><circle cx="127.30" cy="568.30" r="4.15" fill="#fff" stroke="#1a1a1a" stroke-width="0.6"/><path d="M127.30 568.30 L131.45 568.30 A4.15 4.15 0 0 0 131.25 567.02 Z" fill="#1a1a1a" stroke="#1a1a1a" stroke-width="0.45" stroke-linejoin="round"/><circle cx="138.25" cy="568.30" r="4.15" fill="#fff" stroke="#1a1a1a" stroke-width="0.6"/><path d="M138.25 568.30 L142.40 568.30 A4.15 4.15 0 0 0 134.10 568.30 Z" fill="#1a1a1a" stroke="#1a1a1a" stroke-width="0.45" stroke-linejoin="round"/><text x="152.90" y="569.40" font-size="8.6" fill="#333" textLength="33.60" lengthAdjust="spacingAndGlyphs">crypt25</text><circle cx="11.40" cy="580.80" r="4.15" fill="#fff" stroke="#1a1a1a" stroke-width="0.6"/><path d="M11.40 580.80 L15.55 580.80 A4.15 4.15 0 0 0 15.35 579.52 Z" fill="#1a1a1a" stroke="#1a1a1a" stroke-width="0.45" stroke-linejoin="round"/><circle cx="22.35" cy="580.80" r="4.15" fill="#fff" stroke="#1a1a1a" stroke-width="0.6"/><path d="M22.35 580.80 L26.50 580.80 A4.15 4.15 0 0 0 26.30 579.52 Z" fill="#1a1a1a" stroke="#1a1a1a" stroke-width="0.45" stroke-linejoin="round"/><circle cx="33.30" cy="580.80" r="4.15" fill="#fff" stroke="#1a1a1a" stroke-width="0.6"/><path d="M33.30 580.80 L37.45 580.80 A4.15 4.15 0 0 0 37.25 579.52 Z" fill="#1a1a1a" stroke="#1a1a1a" stroke-width="0.45" stroke-linejoin="round"/><circle cx="44.25" cy="580.80" r="4.15" fill="#fff" stroke="#1a1a1a" stroke-width="0.6"/><path d="M44.25 580.80 L48.40 580.80 A4.15 4.15 0 0 0 48.20 579.52 Z" fill="#1a1a1a" stroke="#1a1a1a" stroke-width="0.45" stroke-linejoin="round"/><circle cx="55.20" cy="580.80" r="4.15" fill="#fff" stroke="#1a1a1a" stroke-width="0.6"/><path d="M55.20 580.80 L59.35 580.80 A4.15 4.15 0 0 0 59.15 579.52 Z" fill="#1a1a1a" stroke="#1a1a1a" stroke-width="0.45" stroke-linejoin="round"/><circle cx="66.15" cy="580.80" r="4.15" fill="#fff" stroke="#1a1a1a" stroke-width="0.6"/><path d="M66.15 580.80 L70.30 580.80 A4.15 4.15 0 0 0 70.10 579.52 Z" fill="#1a1a1a" stroke="#1a1a1a" stroke-width="0.45" stroke-linejoin="round"/><circle cx="83.50" cy="580.80" r="4.15" fill="#fff" stroke="#1a1a1a" stroke-width="0.6"/><path d="M83.50 580.80 L87.65 580.80 A4.15 4.15 0 1 0 80.14 583.24 Z" fill="#1a1a1a" stroke="#1a1a1a" stroke-width="0.45" stroke-linejoin="round"/><circle cx="94.45" cy="580.80" r="4.15" fill="#fff" stroke="#1a1a1a" stroke-width="0.6"/><path d="M94.45 580.80 L98.60 580.80 A4.15 4.15 0 0 0 91.61 577.77 Z" fill="#1a1a1a" stroke="#1a1a1a" stroke-width="0.45" stroke-linejoin="round"/><circle cx="105.40" cy="580.80" r="4.15" fill="#fff" stroke="#1a1a1a" stroke-width="0.6"/><path d="M105.40 580.80 L109.55 580.80 A4.15 4.15 0 1 0 102.04 583.24 Z" fill="#1a1a1a" stroke="#1a1a1a" stroke-width="0.45" stroke-linejoin="round"/><circle cx="116.35" cy="580.80" r="4.15" fill="#fff" stroke="#1a1a1a" stroke-width="0.6"/><path d="M116.35 580.80 L120.50 580.80 A4.15 4.15 0 0 0 120.30 579.52 Z" fill="#1a1a1a" stroke="#1a1a1a" stroke-width="0.45" stroke-linejoin="round"/><circle cx="127.30" cy="580.80" r="4.15" fill="#fff" stroke="#1a1a1a" stroke-width="0.6"/><path d="M127.30 580.80 L131.45 580.80 A4.15 4.15 0 0 0 131.25 579.52 Z" fill="#1a1a1a" stroke="#1a1a1a" stroke-width="0.45" stroke-linejoin="round"/><circle cx="138.25" cy="580.80" r="4.15" fill="#fff" stroke="#1a1a1a" stroke-width="0.6"/><path d="M138.25 580.80 L142.40 580.80 A4.15 4.15 0 0 0 134.10 580.80 Z" fill="#1a1a1a" stroke="#1a1a1a" stroke-width="0.45" stroke-linejoin="round"/><text x="152.90" y="581.90" font-size="8.6" fill="#333" textLength="33.60" lengthAdjust="spacingAndGlyphs">crypt26</text><circle cx="11.40" cy="593.30" r="4.15" fill="#fff" stroke="#1a1a1a" stroke-width="0.6"/><path d="M11.40 593.30 L15.55 593.30 A4.15 4.15 0 0 0 15.35 592.02 Z" fill="#1a1a1a" stroke="#1a1a1a" stroke-width="0.45" stroke-linejoin="round"/><circle cx="22.35" cy="593.30" r="4.15" fill="#fff" stroke="#1a1a1a" stroke-width="0.6"/><path d="M22.35 593.30 L26.50 593.30 A4.15 4.15 0 0 0 26.30 592.02 Z" fill="#1a1a1a" stroke="#1a1a1a" stroke-width="0.45" stroke-linejoin="round"/><circle cx="33.30" cy="593.30" r="4.15" fill="#fff" stroke="#1a1a1a" stroke-width="0.6"/><path d="M33.30 593.30 L37.45 593.30 A4.15 4.15 0 0 0 37.25 592.02 Z" fill="#1a1a1a" stroke="#1a1a1a" stroke-width="0.45" stroke-linejoin="round"/><circle cx="44.25" cy="593.30" r="4.15" fill="#fff" stroke="#1a1a1a" stroke-width="0.6"/><path d="M44.25 593.30 L48.40 593.30 A4.15 4.15 0 0 0 48.20 592.02 Z" fill="#1a1a1a" stroke="#1a1a1a" stroke-width="0.45" stroke-linejoin="round"/><circle cx="55.20" cy="593.30" r="4.15" fill="#fff" stroke="#1a1a1a" stroke-width="0.6"/><path d="M55.20 593.30 L59.35 593.30 A4.15 4.15 0 0 0 59.15 592.02 Z" fill="#1a1a1a" stroke="#1a1a1a" stroke-width="0.45" stroke-linejoin="round"/><circle cx="66.15" cy="593.30" r="4.15" fill="#fff" stroke="#1a1a1a" stroke-width="0.6"/><path d="M66.15 593.30 L70.30 593.30 A4.15 4.15 0 0 0 70.10 592.02 Z" fill="#1a1a1a" stroke="#1a1a1a" stroke-width="0.45" stroke-linejoin="round"/><circle cx="83.50" cy="593.30" r="4.15" fill="#fff" stroke="#1a1a1a" stroke-width="0.6"/><path d="M83.50 593.30 L87.65 593.30 A4.15 4.15 0 0 0 87.45 592.02 Z" fill="#1a1a1a" stroke="#1a1a1a" stroke-width="0.45" stroke-linejoin="round"/><circle cx="94.45" cy="593.30" r="4.15" fill="#fff" stroke="#1a1a1a" stroke-width="0.6"/><path d="M94.45 593.30 L98.60 593.30 A4.15 4.15 0 0 0 98.40 592.02 Z" fill="#1a1a1a" stroke="#1a1a1a" stroke-width="0.45" stroke-linejoin="round"/><circle cx="105.40" cy="593.30" r="4.15" fill="#fff" stroke="#1a1a1a" stroke-width="0.6"/><path d="M105.40 593.30 L109.55 593.30 A4.15 4.15 0 0 0 109.35 592.02 Z" fill="#1a1a1a" stroke="#1a1a1a" stroke-width="0.45" stroke-linejoin="round"/><circle cx="116.35" cy="593.30" r="4.15" fill="#fff" stroke="#1a1a1a" stroke-width="0.6"/><path d="M116.35 593.30 L120.50 593.30 A4.15 4.15 0 0 0 120.30 592.02 Z" fill="#1a1a1a" stroke="#1a1a1a" stroke-width="0.45" stroke-linejoin="round"/><circle cx="127.30" cy="593.30" r="4.15" fill="#fff" stroke="#1a1a1a" stroke-width="0.6"/><path d="M127.30 593.30 L131.45 593.30 A4.15 4.15 0 0 0 131.25 592.02 Z" fill="#1a1a1a" stroke="#1a1a1a" stroke-width="0.45" stroke-linejoin="round"/><circle cx="138.25" cy="593.30" r="4.15" fill="#fff" stroke="#1a1a1a" stroke-width="0.6"/><path d="M138.25 593.30 L142.40 593.30 A4.15 4.15 0 0 0 142.20 592.02 Z" fill="#1a1a1a" stroke="#1a1a1a" stroke-width="0.45" stroke-linejoin="round"/><text x="152.90" y="594.40" font-size="8.6" fill="#333" textLength="33.60" lengthAdjust="spacingAndGlyphs">crypt27</text><circle cx="11.40" cy="605.80" r="4.15" fill="#fff" stroke="#1a1a1a" stroke-width="0.6"/><path d="M11.40 605.80 L15.55 605.80 A4.15 4.15 0 0 0 15.35 604.52 Z" fill="#1a1a1a" stroke="#1a1a1a" stroke-width="0.45" stroke-linejoin="round"/><circle cx="22.35" cy="605.80" r="4.15" fill="#fff" stroke="#1a1a1a" stroke-width="0.6"/><path d="M22.35 605.80 L26.50 605.80 A4.15 4.15 0 0 0 22.35 601.65 Z" fill="#1a1a1a" stroke="#1a1a1a" stroke-width="0.45" stroke-linejoin="round"/><circle cx="33.30" cy="605.80" r="4.15" fill="#fff" stroke="#1a1a1a" stroke-width="0.6"/><path d="M33.30 605.80 L37.45 605.80 A4.15 4.15 0 0 0 37.25 604.52 Z" fill="#1a1a1a" stroke="#1a1a1a" stroke-width="0.45" stroke-linejoin="round"/><circle cx="44.25" cy="605.80" r="4.15" fill="#fff" stroke="#1a1a1a" stroke-width="0.6"/><path d="M44.25 605.80 L48.40 605.80 A4.15 4.15 0 0 0 46.47 602.30 Z" fill="#1a1a1a" stroke="#1a1a1a" stroke-width="0.45" stroke-linejoin="round"/><circle cx="55.20" cy="605.80" r="4.15" fill="#fff" stroke="#1a1a1a" stroke-width="0.6"/><path d="M55.20 605.80 L59.35 605.80 A4.15 4.15 0 0 0 51.05 605.80 Z" fill="#1a1a1a" stroke="#1a1a1a" stroke-width="0.45" stroke-linejoin="round"/><circle cx="66.15" cy="605.80" r="4.15" fill="#fff" stroke="#1a1a1a" stroke-width="0.6"/><path d="M66.15 605.80 L70.30 605.80 A4.15 4.15 0 0 0 62.00 605.80 Z" fill="#1a1a1a" stroke="#1a1a1a" stroke-width="0.45" stroke-linejoin="round"/><circle cx="83.50" cy="605.80" r="4.15" fill="#fff" stroke="#1a1a1a" stroke-width="0.6"/><path d="M83.50 605.80 L87.65 605.80 A4.15 4.15 0 0 0 87.45 604.52 Z" fill="#1a1a1a" stroke="#1a1a1a" stroke-width="0.45" stroke-linejoin="round"/><circle cx="94.45" cy="605.80" r="4.15" fill="#fff" stroke="#1a1a1a" stroke-width="0.6"/><path d="M94.45 605.80 L98.60 605.80 A4.15 4.15 0 0 0 98.40 604.52 Z" fill="#1a1a1a" stroke="#1a1a1a" stroke-width="0.45" stroke-linejoin="round"/><circle cx="105.40" cy="605.80" r="4.15" fill="#fff" stroke="#1a1a1a" stroke-width="0.6"/><path d="M105.40 605.80 L109.55 605.80 A4.15 4.15 0 0 0 109.35 604.52 Z" fill="#1a1a1a" stroke="#1a1a1a" stroke-width="0.45" stroke-linejoin="round"/><circle cx="116.35" cy="605.80" r="4.15" fill="#fff" stroke="#1a1a1a" stroke-width="0.6"/><path d="M116.35 605.80 L120.50 605.80 A4.15 4.15 0 0 0 120.30 604.52 Z" fill="#1a1a1a" stroke="#1a1a1a" stroke-width="0.45" stroke-linejoin="round"/><circle cx="127.30" cy="605.80" r="4.15" fill="#fff" stroke="#1a1a1a" stroke-width="0.6"/><path d="M127.30 605.80 L131.45 605.80 A4.15 4.15 0 0 0 131.25 604.52 Z" fill="#1a1a1a" stroke="#1a1a1a" stroke-width="0.45" stroke-linejoin="round"/><circle cx="138.25" cy="605.80" r="4.15" fill="#fff" stroke="#1a1a1a" stroke-width="0.6"/><path d="M138.25 605.80 L142.40 605.80 A4.15 4.15 0 0 0 141.75 603.58 Z" fill="#1a1a1a" stroke="#1a1a1a" stroke-width="0.45" stroke-linejoin="round"/><text x="152.90" y="606.90" font-size="8.6" fill="#333" textLength="33.60" lengthAdjust="spacingAndGlyphs">crypt28</text><circle cx="11.40" cy="618.30" r="4.15" fill="#fff" stroke="#1a1a1a" stroke-width="0.6"/><path d="M11.40 618.30 L15.55 618.30 A4.15 4.15 0 0 0 15.35 617.02 Z" fill="#1a1a1a" stroke="#1a1a1a" stroke-width="0.45" stroke-linejoin="round"/><circle cx="22.35" cy="618.30" r="4.15" fill="#fff" stroke="#1a1a1a" stroke-width="0.6"/><path d="M22.35 618.30 L26.50 618.30 A4.15 4.15 0 0 0 26.30 617.02 Z" fill="#1a1a1a" stroke="#1a1a1a" stroke-width="0.45" stroke-linejoin="round"/><circle cx="33.30" cy="618.30" r="4.15" fill="#fff" stroke="#1a1a1a" stroke-width="0.6"/><path d="M33.30 618.30 L37.45 618.30 A4.15 4.15 0 0 0 37.25 617.02 Z" fill="#1a1a1a" stroke="#1a1a1a" stroke-width="0.45" stroke-linejoin="round"/><circle cx="44.25" cy="618.30" r="4.15" fill="#fff" stroke="#1a1a1a" stroke-width="0.6"/><path d="M44.25 618.30 L48.40 618.30 A4.15 4.15 0 0 0 48.20 617.02 Z" fill="#1a1a1a" stroke="#1a1a1a" stroke-width="0.45" stroke-linejoin="round"/><circle cx="55.20" cy="618.30" r="4.15" fill="#fff" stroke="#1a1a1a" stroke-width="0.6"/><path d="M55.20 618.30 L59.35 618.30 A4.15 4.15 0 0 0 59.15 617.02 Z" fill="#1a1a1a" stroke="#1a1a1a" stroke-width="0.45" stroke-linejoin="round"/><circle cx="66.15" cy="618.30" r="4.15" fill="#fff" stroke="#1a1a1a" stroke-width="0.6"/><path d="M66.15 618.30 L70.30 618.30 A4.15 4.15 0 0 0 70.10 617.02 Z" fill="#1a1a1a" stroke="#1a1a1a" stroke-width="0.45" stroke-linejoin="round"/><circle cx="83.50" cy="618.30" r="4.15" fill="#fff" stroke="#1a1a1a" stroke-width="0.6"/><path d="M83.50 618.30 L87.65 618.30 A4.15 4.15 0 0 0 87.45 617.02 Z" fill="#1a1a1a" stroke="#1a1a1a" stroke-width="0.45" stroke-linejoin="round"/><circle cx="94.45" cy="618.30" r="4.15" fill="#fff" stroke="#1a1a1a" stroke-width="0.6"/><path d="M94.45 618.30 L98.60 618.30 A4.15 4.15 0 0 0 98.40 617.02 Z" fill="#1a1a1a" stroke="#1a1a1a" stroke-width="0.45" stroke-linejoin="round"/><circle cx="105.40" cy="618.30" r="4.15" fill="#fff" stroke="#1a1a1a" stroke-width="0.6"/><path d="M105.40 618.30 L109.55 618.30 A4.15 4.15 0 0 0 109.35 617.02 Z" fill="#1a1a1a" stroke="#1a1a1a" stroke-width="0.45" stroke-linejoin="round"/><circle cx="116.35" cy="618.30" r="4.15" fill="#fff" stroke="#1a1a1a" stroke-width="0.6"/><path d="M116.35 618.30 L120.50 618.30 A4.15 4.15 0 0 0 119.85 616.08 Z" fill="#1a1a1a" stroke="#1a1a1a" stroke-width="0.45" stroke-linejoin="round"/><circle cx="127.30" cy="618.30" r="4.15" fill="#fff" stroke="#1a1a1a" stroke-width="0.6"/><path d="M127.30 618.30 L131.45 618.30 A4.15 4.15 0 0 0 129.52 614.80 Z" fill="#1a1a1a" stroke="#1a1a1a" stroke-width="0.45" stroke-linejoin="round"/><circle cx="138.25" cy="618.30" r="4.15" fill="#fff" stroke="#1a1a1a" stroke-width="0.6"/><path d="M138.25 618.30 L142.40 618.30 A4.15 4.15 0 0 0 134.10 618.30 Z" fill="#1a1a1a" stroke="#1a1a1a" stroke-width="0.45" stroke-linejoin="round"/><text x="152.90" y="619.40" font-size="8.6" fill="#333" textLength="33.60" lengthAdjust="spacingAndGlyphs">crypt29</text><line x1="13.70" y1="628.80" x2="17.70" y2="628.80" stroke="#666" stroke-width="0.75"/><line x1="24.65" y1="628.80" x2="28.65" y2="628.80" stroke="#666" stroke-width="0.75"/><line x1="35.60" y1="628.80" x2="39.60" y2="628.80" stroke="#666" stroke-width="0.75"/><line x1="46.55" y1="628.80" x2="50.55" y2="628.80" stroke="#666" stroke-width="0.75"/><line x1="57.50" y1="628.80" x2="61.50" y2="628.80" stroke="#666" stroke-width="0.75"/><line x1="68.45" y1="628.80" x2="72.45" y2="628.80" stroke="#666" stroke-width="0.75"/><circle cx="83.50" cy="630.80" r="4.15" fill="#fff" stroke="#1a1a1a" stroke-width="0.6"/><path d="M83.50 630.80 L87.65 630.80 A4.15 4.15 0 0 0 87.45 629.52 Z" fill="#1a1a1a" stroke="#1a1a1a" stroke-width="0.45" stroke-linejoin="round"/><circle cx="94.45" cy="630.80" r="4.15" fill="#fff" stroke="#1a1a1a" stroke-width="0.6"/><path d="M94.45 630.80 L98.60 630.80 A4.15 4.15 0 0 0 98.40 629.52 Z" fill="#1a1a1a" stroke="#1a1a1a" stroke-width="0.45" stroke-linejoin="round"/><circle cx="105.40" cy="630.80" r="4.15" fill="#fff" stroke="#1a1a1a" stroke-width="0.6"/><path d="M105.40 630.80 L109.55 630.80 A4.15 4.15 0 0 0 109.35 629.52 Z" fill="#1a1a1a" stroke="#1a1a1a" stroke-width="0.45" stroke-linejoin="round"/><circle cx="116.35" cy="630.80" r="4.15" fill="#fff" stroke="#1a1a1a" stroke-width="0.6"/><path d="M116.35 630.80 L120.50 630.80 A4.15 4.15 0 0 0 120.30 629.52 Z" fill="#1a1a1a" stroke="#1a1a1a" stroke-width="0.45" stroke-linejoin="round"/><circle cx="127.30" cy="630.80" r="4.15" fill="#fff" stroke="#1a1a1a" stroke-width="0.6"/><path d="M127.30 630.80 L131.45 630.80 A4.15 4.15 0 0 0 131.25 629.52 Z" fill="#1a1a1a" stroke="#1a1a1a" stroke-width="0.45" stroke-linejoin="round"/><circle cx="138.25" cy="630.80" r="4.15" fill="#fff" stroke="#1a1a1a" stroke-width="0.6"/><path d="M138.25 630.80 L142.40 630.80 A4.15 4.15 0 0 0 138.25 626.65 Z" fill="#1a1a1a" stroke="#1a1a1a" stroke-width="0.45" stroke-linejoin="round"/><text x="152.90" y="631.90" font-size="8.6" fill="#333" textLength="33.60" lengthAdjust="spacingAndGlyphs">crypt30</text><circle cx="11.40" cy="643.30" r="4.15" fill="#fff" stroke="#1a1a1a" stroke-width="0.6"/><path d="M11.40 643.30 L15.55 643.30 A4.15 4.15 0 0 0 15.35 642.02 Z" fill="#1a1a1a" stroke="#1a1a1a" stroke-width="0.45" stroke-linejoin="round"/><circle cx="22.35" cy="643.30" r="4.15" fill="#fff" stroke="#1a1a1a" stroke-width="0.6"/><path d="M22.35 643.30 L26.50 643.30 A4.15 4.15 0 0 0 26.30 642.02 Z" fill="#1a1a1a" stroke="#1a1a1a" stroke-width="0.45" stroke-linejoin="round"/><circle cx="33.30" cy="643.30" r="4.15" fill="#fff" stroke="#1a1a1a" stroke-width="0.6"/><path d="M33.30 643.30 L37.45 643.30 A4.15 4.15 0 0 0 36.80 641.08 Z" fill="#1a1a1a" stroke="#1a1a1a" stroke-width="0.45" stroke-linejoin="round"/><circle cx="44.25" cy="643.30" r="4.15" fill="#fff" stroke="#1a1a1a" stroke-width="0.6"/><path d="M44.25 643.30 L48.40 643.30 A4.15 4.15 0 0 0 47.75 641.08 Z" fill="#1a1a1a" stroke="#1a1a1a" stroke-width="0.45" stroke-linejoin="round"/><circle cx="55.20" cy="643.30" r="4.15" fill="#fff" stroke="#1a1a1a" stroke-width="0.6"/><path d="M55.20 643.30 L59.35 643.30 A4.15 4.15 0 0 0 57.42 639.80 Z" fill="#1a1a1a" stroke="#1a1a1a" stroke-width="0.45" stroke-linejoin="round"/><circle cx="66.15" cy="643.30" r="4.15" fill="#fff" stroke="#1a1a1a" stroke-width="0.6"/><path d="M66.15 643.30 L70.30 643.30 A4.15 4.15 0 0 0 68.37 639.80 Z" fill="#1a1a1a" stroke="#1a1a1a" stroke-width="0.45" stroke-linejoin="round"/><circle cx="83.50" cy="643.30" r="4.15" fill="#fff" stroke="#1a1a1a" stroke-width="0.6"/><path d="M83.50 643.30 L87.65 643.30 A4.15 4.15 0 0 0 87.00 641.08 Z" fill="#1a1a1a" stroke="#1a1a1a" stroke-width="0.45" stroke-linejoin="round"/><circle cx="94.45" cy="643.30" r="4.15" fill="#fff" stroke="#1a1a1a" stroke-width="0.6"/><path d="M94.45 643.30 L98.60 643.30 A4.15 4.15 0 0 0 90.30 643.30 Z" fill="#1a1a1a" stroke="#1a1a1a" stroke-width="0.45" stroke-linejoin="round"/><circle cx="105.40" cy="643.30" r="4.15" fill="#fff" stroke="#1a1a1a" stroke-width="0.6"/><path d="M105.40 643.30 L109.55 643.30 A4.15 4.15 0 0 0 101.25 643.30 Z" fill="#1a1a1a" stroke="#1a1a1a" stroke-width="0.45" stroke-linejoin="round"/><circle cx="116.35" cy="643.30" r="4.15" fill="#fff" stroke="#1a1a1a" stroke-width="0.6"/><path d="M116.35 643.30 L120.50 643.30 A4.15 4.15 0 0 0 112.20 643.30 Z" fill="#1a1a1a" stroke="#1a1a1a" stroke-width="0.45" stroke-linejoin="round"/><circle cx="127.30" cy="643.30" r="4.15" fill="#fff" stroke="#1a1a1a" stroke-width="0.6"/><path d="M127.30 643.30 L131.45 643.30 A4.15 4.15 0 0 0 129.52 639.80 Z" fill="#1a1a1a" stroke="#1a1a1a" stroke-width="0.45" stroke-linejoin="round"/><circle cx="138.25" cy="643.30" r="4.15" fill="#fff" stroke="#1a1a1a" stroke-width="0.6"/><path d="M138.25 643.30 L142.40 643.30 A4.15 4.15 0 0 0 134.10 643.30 Z" fill="#1a1a1a" stroke="#1a1a1a" stroke-width="0.45" stroke-linejoin="round"/><text x="152.90" y="644.40" font-size="8.6" fill="#333" textLength="33.60" lengthAdjust="spacingAndGlyphs">crypt31</text><circle cx="11.40" cy="655.80" r="4.15" fill="#fff" stroke="#1a1a1a" stroke-width="0.6"/><path d="M11.40 655.80 L15.55 655.80 A4.15 4.15 0 0 0 15.35 654.52 Z" fill="#1a1a1a" stroke="#1a1a1a" stroke-width="0.45" stroke-linejoin="round"/><circle cx="22.35" cy="655.80" r="4.15" fill="#fff" stroke="#1a1a1a" stroke-width="0.6"/><path d="M22.35 655.80 L26.50 655.80 A4.15 4.15 0 0 0 26.30 654.52 Z" fill="#1a1a1a" stroke="#1a1a1a" stroke-width="0.45" stroke-linejoin="round"/><circle cx="33.30" cy="655.80" r="4.15" fill="#fff" stroke="#1a1a1a" stroke-width="0.6"/><path d="M33.30 655.80 L37.45 655.80 A4.15 4.15 0 0 0 37.25 654.52 Z" fill="#1a1a1a" stroke="#1a1a1a" stroke-width="0.45" stroke-linejoin="round"/><circle cx="44.25" cy="655.80" r="4.15" fill="#fff" stroke="#1a1a1a" stroke-width="0.6"/><path d="M44.25 655.80 L48.40 655.80 A4.15 4.15 0 0 0 48.20 654.52 Z" fill="#1a1a1a" stroke="#1a1a1a" stroke-width="0.45" stroke-linejoin="round"/><circle cx="55.20" cy="655.80" r="4.15" fill="#fff" stroke="#1a1a1a" stroke-width="0.6"/><path d="M55.20 655.80 L59.35 655.80 A4.15 4.15 0 0 0 59.15 654.52 Z" fill="#1a1a1a" stroke="#1a1a1a" stroke-width="0.45" stroke-linejoin="round"/><circle cx="66.15" cy="655.80" r="4.15" fill="#fff" stroke="#1a1a1a" stroke-width="0.6"/><path d="M66.15 655.80 L70.30 655.80 A4.15 4.15 0 0 0 70.10 654.52 Z" fill="#1a1a1a" stroke="#1a1a1a" stroke-width="0.45" stroke-linejoin="round"/><line x1="85.80" y1="653.80" x2="89.80" y2="653.80" stroke="#666" stroke-width="0.75"/><line x1="96.75" y1="653.80" x2="100.75" y2="653.80" stroke="#666" stroke-width="0.75"/><line x1="107.70" y1="653.80" x2="111.70" y2="653.80" stroke="#666" stroke-width="0.75"/><line x1="118.65" y1="653.80" x2="122.65" y2="653.80" stroke="#666" stroke-width="0.75"/><line x1="129.60" y1="653.80" x2="133.60" y2="653.80" stroke="#666" stroke-width="0.75"/><line x1="140.55" y1="653.80" x2="144.55" y2="653.80" stroke="#666" stroke-width="0.75"/><text x="152.90" y="656.90" font-size="8.6" fill="#333" textLength="33.60" lengthAdjust="spacingAndGlyphs">crypt32</text><circle cx="11.40" cy="668.30" r="4.15" fill="#fff" stroke="#1a1a1a" stroke-width="0.6"/><path d="M11.40 668.30 L15.55 668.30 A4.15 4.15 0 0 0 15.35 667.02 Z" fill="#1a1a1a" stroke="#1a1a1a" stroke-width="0.45" stroke-linejoin="round"/><circle cx="22.35" cy="668.30" r="4.15" fill="#fff" stroke="#1a1a1a" stroke-width="0.6"/><path d="M22.35 668.30 L26.50 668.30 A4.15 4.15 0 0 0 26.30 667.02 Z" fill="#1a1a1a" stroke="#1a1a1a" stroke-width="0.45" stroke-linejoin="round"/><circle cx="33.30" cy="668.30" r="4.15" fill="#fff" stroke="#1a1a1a" stroke-width="0.6"/><path d="M33.30 668.30 L37.45 668.30 A4.15 4.15 0 0 0 37.25 667.02 Z" fill="#1a1a1a" stroke="#1a1a1a" stroke-width="0.45" stroke-linejoin="round"/><circle cx="44.25" cy="668.30" r="4.15" fill="#fff" stroke="#1a1a1a" stroke-width="0.6"/><path d="M44.25 668.30 L48.40 668.30 A4.15 4.15 0 0 0 48.20 667.02 Z" fill="#1a1a1a" stroke="#1a1a1a" stroke-width="0.45" stroke-linejoin="round"/><circle cx="55.20" cy="668.30" r="4.15" fill="#fff" stroke="#1a1a1a" stroke-width="0.6"/><path d="M55.20 668.30 L59.35 668.30 A4.15 4.15 0 0 0 59.15 667.02 Z" fill="#1a1a1a" stroke="#1a1a1a" stroke-width="0.45" stroke-linejoin="round"/><circle cx="66.15" cy="668.30" r="4.15" fill="#fff" stroke="#1a1a1a" stroke-width="0.6"/><path d="M66.15 668.30 L70.30 668.30 A4.15 4.15 0 0 0 69.65 666.08 Z" fill="#1a1a1a" stroke="#1a1a1a" stroke-width="0.45" stroke-linejoin="round"/><circle cx="83.50" cy="668.30" r="4.15" fill="#fff" stroke="#1a1a1a" stroke-width="0.6"/><path d="M83.50 668.30 L87.65 668.30 A4.15 4.15 0 0 0 87.45 667.02 Z" fill="#1a1a1a" stroke="#1a1a1a" stroke-width="0.45" stroke-linejoin="round"/><circle cx="94.45" cy="668.30" r="4.15" fill="#fff" stroke="#1a1a1a" stroke-width="0.6"/><path d="M94.45 668.30 L98.60 668.30 A4.15 4.15 0 0 0 98.40 667.02 Z" fill="#1a1a1a" stroke="#1a1a1a" stroke-width="0.45" stroke-linejoin="round"/><circle cx="105.40" cy="668.30" r="4.15" fill="#fff" stroke="#1a1a1a" stroke-width="0.6"/><path d="M105.40 668.30 L109.55 668.30 A4.15 4.15 0 0 0 109.35 667.02 Z" fill="#1a1a1a" stroke="#1a1a1a" stroke-width="0.45" stroke-linejoin="round"/><circle cx="116.35" cy="668.30" r="4.15" fill="#fff" stroke="#1a1a1a" stroke-width="0.6"/><path d="M116.35 668.30 L120.50 668.30 A4.15 4.15 0 0 0 120.30 667.02 Z" fill="#1a1a1a" stroke="#1a1a1a" stroke-width="0.45" stroke-linejoin="round"/><circle cx="127.30" cy="668.30" r="4.15" fill="#fff" stroke="#1a1a1a" stroke-width="0.6"/><path d="M127.30 668.30 L131.45 668.30 A4.15 4.15 0 0 0 131.25 667.02 Z" fill="#1a1a1a" stroke="#1a1a1a" stroke-width="0.45" stroke-linejoin="round"/><circle cx="138.25" cy="668.30" r="4.15" fill="#fff" stroke="#1a1a1a" stroke-width="0.6"/><path d="M138.25 668.30 L142.40 668.30 A4.15 4.15 0 0 0 134.10 668.30 Z" fill="#1a1a1a" stroke="#1a1a1a" stroke-width="0.45" stroke-linejoin="round"/><text x="152.90" y="669.40" font-size="8.6" fill="#333" textLength="33.60" lengthAdjust="spacingAndGlyphs">crypt33</text><line x1="13.70" y1="678.80" x2="17.70" y2="678.80" stroke="#666" stroke-width="0.75"/><line x1="24.65" y1="678.80" x2="28.65" y2="678.80" stroke="#666" stroke-width="0.75"/><line x1="35.60" y1="678.80" x2="39.60" y2="678.80" stroke="#666" stroke-width="0.75"/><line x1="46.55" y1="678.80" x2="50.55" y2="678.80" stroke="#666" stroke-width="0.75"/><line x1="57.50" y1="678.80" x2="61.50" y2="678.80" stroke="#666" stroke-width="0.75"/><line x1="68.45" y1="678.80" x2="72.45" y2="678.80" stroke="#666" stroke-width="0.75"/><line x1="85.80" y1="678.80" x2="89.80" y2="678.80" stroke="#666" stroke-width="0.75"/><line x1="96.75" y1="678.80" x2="100.75" y2="678.80" stroke="#666" stroke-width="0.75"/><line x1="107.70" y1="678.80" x2="111.70" y2="678.80" stroke="#666" stroke-width="0.75"/><line x1="118.65" y1="678.80" x2="122.65" y2="678.80" stroke="#666" stroke-width="0.75"/><line x1="129.60" y1="678.80" x2="133.60" y2="678.80" stroke="#666" stroke-width="0.75"/><line x1="140.55" y1="678.80" x2="144.55" y2="678.80" stroke="#666" stroke-width="0.75"/><text x="152.90" y="681.90" font-size="8.6" fill="#333" textLength="33.60" lengthAdjust="spacingAndGlyphs">crypt34</text><circle cx="11.40" cy="693.30" r="4.15" fill="#fff" stroke="#1a1a1a" stroke-width="0.6"/><path d="M11.40 693.30 L15.55 693.30 A4.15 4.15 0 0 0 15.35 692.02 Z" fill="#1a1a1a" stroke="#1a1a1a" stroke-width="0.45" stroke-linejoin="round"/><circle cx="22.35" cy="693.30" r="4.15" fill="#fff" stroke="#1a1a1a" stroke-width="0.6"/><path d="M22.35 693.30 L26.50 693.30 A4.15 4.15 0 0 0 26.30 692.02 Z" fill="#1a1a1a" stroke="#1a1a1a" stroke-width="0.45" stroke-linejoin="round"/><circle cx="33.30" cy="693.30" r="4.15" fill="#fff" stroke="#1a1a1a" stroke-width="0.6"/><path d="M33.30 693.30 L37.45 693.30 A4.15 4.15 0 0 0 37.25 692.02 Z" fill="#1a1a1a" stroke="#1a1a1a" stroke-width="0.45" stroke-linejoin="round"/><circle cx="44.25" cy="693.30" r="4.15" fill="#fff" stroke="#1a1a1a" stroke-width="0.6"/><path d="M44.25 693.30 L48.40 693.30 A4.15 4.15 0 0 0 47.75 691.08 Z" fill="#1a1a1a" stroke="#1a1a1a" stroke-width="0.45" stroke-linejoin="round"/><circle cx="55.20" cy="693.30" r="4.15" fill="#fff" stroke="#1a1a1a" stroke-width="0.6"/><path d="M55.20 693.30 L59.35 693.30 A4.15 4.15 0 0 0 59.15 692.02 Z" fill="#1a1a1a" stroke="#1a1a1a" stroke-width="0.45" stroke-linejoin="round"/><circle cx="66.15" cy="693.30" r="4.15" fill="#fff" stroke="#1a1a1a" stroke-width="0.6"/><path d="M66.15 693.30 L70.30 693.30 A4.15 4.15 0 0 0 63.31 690.27 Z" fill="#1a1a1a" stroke="#1a1a1a" stroke-width="0.45" stroke-linejoin="round"/><circle cx="83.50" cy="693.30" r="4.15" fill="#fff" stroke="#1a1a1a" stroke-width="0.6"/><path d="M83.50 693.30 L87.65 693.30 A4.15 4.15 0 0 0 87.45 692.02 Z" fill="#1a1a1a" stroke="#1a1a1a" stroke-width="0.45" stroke-linejoin="round"/><circle cx="94.45" cy="693.30" r="4.15" fill="#fff" stroke="#1a1a1a" stroke-width="0.6"/><path d="M94.45 693.30 L98.60 693.30 A4.15 4.15 0 0 0 98.40 692.02 Z" fill="#1a1a1a" stroke="#1a1a1a" stroke-width="0.45" stroke-linejoin="round"/><circle cx="105.40" cy="693.30" r="4.15" fill="#fff" stroke="#1a1a1a" stroke-width="0.6"/><path d="M105.40 693.30 L109.55 693.30 A4.15 4.15 0 0 0 109.35 692.02 Z" fill="#1a1a1a" stroke="#1a1a1a" stroke-width="0.45" stroke-linejoin="round"/><circle cx="116.35" cy="693.30" r="4.15" fill="#fff" stroke="#1a1a1a" stroke-width="0.6"/><path d="M116.35 693.30 L120.50 693.30 A4.15 4.15 0 0 0 119.85 691.08 Z" fill="#1a1a1a" stroke="#1a1a1a" stroke-width="0.45" stroke-linejoin="round"/><circle cx="127.30" cy="693.30" r="4.15" fill="#fff" stroke="#1a1a1a" stroke-width="0.6"/><path d="M127.30 693.30 L131.45 693.30 A4.15 4.15 0 0 0 131.25 692.02 Z" fill="#1a1a1a" stroke="#1a1a1a" stroke-width="0.45" stroke-linejoin="round"/><circle cx="138.25" cy="693.30" r="4.15" fill="#fff" stroke="#1a1a1a" stroke-width="0.6"/><path d="M138.25 693.30 L142.40 693.30 A4.15 4.15 0 1 0 141.28 696.14 Z" fill="#1a1a1a" stroke="#1a1a1a" stroke-width="0.45" stroke-linejoin="round"/><text x="152.90" y="694.40" font-size="8.6" fill="#333" textLength="33.60" lengthAdjust="spacingAndGlyphs">crypt35</text><circle cx="11.40" cy="705.80" r="4.15" fill="#fff" stroke="#1a1a1a" stroke-width="0.6"/><path d="M11.40 705.80 L15.55 705.80 A4.15 4.15 0 0 0 15.35 704.52 Z" fill="#1a1a1a" stroke="#1a1a1a" stroke-width="0.45" stroke-linejoin="round"/><circle cx="22.35" cy="705.80" r="4.15" fill="#fff" stroke="#1a1a1a" stroke-width="0.6"/><path d="M22.35 705.80 L26.50 705.80 A4.15 4.15 0 0 0 26.30 704.52 Z" fill="#1a1a1a" stroke="#1a1a1a" stroke-width="0.45" stroke-linejoin="round"/><circle cx="33.30" cy="705.80" r="4.15" fill="#fff" stroke="#1a1a1a" stroke-width="0.6"/><path d="M33.30 705.80 L37.45 705.80 A4.15 4.15 0 0 0 36.80 703.58 Z" fill="#1a1a1a" stroke="#1a1a1a" stroke-width="0.45" stroke-linejoin="round"/><circle cx="44.25" cy="705.80" r="4.15" fill="#fff" stroke="#1a1a1a" stroke-width="0.6"/><path d="M44.25 705.80 L48.40 705.80 A4.15 4.15 0 0 0 48.20 704.52 Z" fill="#1a1a1a" stroke="#1a1a1a" stroke-width="0.45" stroke-linejoin="round"/><circle cx="55.20" cy="705.80" r="4.15" fill="#fff" stroke="#1a1a1a" stroke-width="0.6"/><path d="M55.20 705.80 L59.35 705.80 A4.15 4.15 0 0 0 59.15 704.52 Z" fill="#1a1a1a" stroke="#1a1a1a" stroke-width="0.45" stroke-linejoin="round"/><circle cx="66.15" cy="705.80" r="4.15" fill="#fff" stroke="#1a1a1a" stroke-width="0.6"/><path d="M66.15 705.80 L70.30 705.80 A4.15 4.15 0 0 0 69.65 703.58 Z" fill="#1a1a1a" stroke="#1a1a1a" stroke-width="0.45" stroke-linejoin="round"/><circle cx="83.50" cy="705.80" r="4.15" fill="#fff" stroke="#1a1a1a" stroke-width="0.6"/><path d="M83.50 705.80 L87.65 705.80 A4.15 4.15 0 0 0 85.72 702.30 Z" fill="#1a1a1a" stroke="#1a1a1a" stroke-width="0.45" stroke-linejoin="round"/><circle cx="94.45" cy="705.80" r="4.15" fill="#fff" stroke="#1a1a1a" stroke-width="0.6"/><path d="M94.45 705.80 L98.60 705.80 A4.15 4.15 0 0 0 98.40 704.52 Z" fill="#1a1a1a" stroke="#1a1a1a" stroke-width="0.45" stroke-linejoin="round"/><circle cx="105.40" cy="705.80" r="4.15" fill="#fff" stroke="#1a1a1a" stroke-width="0.6"/><path d="M105.40 705.80 L109.55 705.80 A4.15 4.15 0 0 0 109.35 704.52 Z" fill="#1a1a1a" stroke="#1a1a1a" stroke-width="0.45" stroke-linejoin="round"/><circle cx="116.35" cy="705.80" r="4.15" fill="#fff" stroke="#1a1a1a" stroke-width="0.6"/><path d="M116.35 705.80 L120.50 705.80 A4.15 4.15 0 0 0 120.30 704.52 Z" fill="#1a1a1a" stroke="#1a1a1a" stroke-width="0.45" stroke-linejoin="round"/><circle cx="127.30" cy="705.80" r="4.15" fill="#fff" stroke="#1a1a1a" stroke-width="0.6"/><path d="M127.30 705.80 L131.45 705.80 A4.15 4.15 0 0 0 131.25 704.52 Z" fill="#1a1a1a" stroke="#1a1a1a" stroke-width="0.45" stroke-linejoin="round"/><circle cx="138.25" cy="705.80" r="4.15" fill="#fff" stroke="#1a1a1a" stroke-width="0.6"/><path d="M138.25 705.80 L142.40 705.80 A4.15 4.15 0 0 0 134.10 705.80 Z" fill="#1a1a1a" stroke="#1a1a1a" stroke-width="0.45" stroke-linejoin="round"/><text x="152.90" y="706.90" font-size="8.6" fill="#333" textLength="33.60" lengthAdjust="spacingAndGlyphs">crypt36</text><circle cx="11.40" cy="718.30" r="4.15" fill="#fff" stroke="#1a1a1a" stroke-width="0.6"/><path d="M11.40 718.30 L15.55 718.30 A4.15 4.15 0 0 0 15.35 717.02 Z" fill="#1a1a1a" stroke="#1a1a1a" stroke-width="0.45" stroke-linejoin="round"/><circle cx="22.35" cy="718.30" r="4.15" fill="#fff" stroke="#1a1a1a" stroke-width="0.6"/><path d="M22.35 718.30 L26.50 718.30 A4.15 4.15 0 0 0 26.30 717.02 Z" fill="#1a1a1a" stroke="#1a1a1a" stroke-width="0.45" stroke-linejoin="round"/><circle cx="33.30" cy="718.30" r="4.15" fill="#fff" stroke="#1a1a1a" stroke-width="0.6"/><path d="M33.30 718.30 L37.45 718.30 A4.15 4.15 0 0 0 37.25 717.02 Z" fill="#1a1a1a" stroke="#1a1a1a" stroke-width="0.45" stroke-linejoin="round"/><circle cx="44.25" cy="718.30" r="4.15" fill="#fff" stroke="#1a1a1a" stroke-width="0.6"/><path d="M44.25 718.30 L48.40 718.30 A4.15 4.15 0 0 0 48.20 717.02 Z" fill="#1a1a1a" stroke="#1a1a1a" stroke-width="0.45" stroke-linejoin="round"/><circle cx="55.20" cy="718.30" r="4.15" fill="#fff" stroke="#1a1a1a" stroke-width="0.6"/><path d="M55.20 718.30 L59.35 718.30 A4.15 4.15 0 0 0 59.15 717.02 Z" fill="#1a1a1a" stroke="#1a1a1a" stroke-width="0.45" stroke-linejoin="round"/><circle cx="66.15" cy="718.30" r="4.15" fill="#fff" stroke="#1a1a1a" stroke-width="0.6"/><path d="M66.15 718.30 L70.30 718.30 A4.15 4.15 0 0 0 69.65 716.08 Z" fill="#1a1a1a" stroke="#1a1a1a" stroke-width="0.45" stroke-linejoin="round"/><circle cx="83.50" cy="718.30" r="4.15" fill="#fff" stroke="#1a1a1a" stroke-width="0.6"/><path d="M83.50 718.30 L87.65 718.30 A4.15 4.15 0 0 0 87.45 717.02 Z" fill="#1a1a1a" stroke="#1a1a1a" stroke-width="0.45" stroke-linejoin="round"/><circle cx="94.45" cy="718.30" r="4.15" fill="#fff" stroke="#1a1a1a" stroke-width="0.6"/><path d="M94.45 718.30 L98.60 718.30 A4.15 4.15 0 0 0 98.40 717.02 Z" fill="#1a1a1a" stroke="#1a1a1a" stroke-width="0.45" stroke-linejoin="round"/><circle cx="105.40" cy="718.30" r="4.15" fill="#fff" stroke="#1a1a1a" stroke-width="0.6"/><path d="M105.40 718.30 L109.55 718.30 A4.15 4.15 0 0 0 109.35 717.02 Z" fill="#1a1a1a" stroke="#1a1a1a" stroke-width="0.45" stroke-linejoin="round"/><circle cx="116.35" cy="718.30" r="4.15" fill="#fff" stroke="#1a1a1a" stroke-width="0.6"/><path d="M116.35 718.30 L120.50 718.30 A4.15 4.15 0 0 0 116.35 714.15 Z" fill="#1a1a1a" stroke="#1a1a1a" stroke-width="0.45" stroke-linejoin="round"/><circle cx="127.30" cy="718.30" r="4.15" fill="#fff" stroke="#1a1a1a" stroke-width="0.6"/><path d="M127.30 718.30 L131.45 718.30 A4.15 4.15 0 0 0 124.46 715.27 Z" fill="#1a1a1a" stroke="#1a1a1a" stroke-width="0.45" stroke-linejoin="round"/><circle cx="138.25" cy="718.30" r="4.15" fill="#fff" stroke="#1a1a1a" stroke-width="0.6"/><path d="M138.25 718.30 L142.40 718.30 A4.15 4.15 0 0 0 135.41 715.27 Z" fill="#1a1a1a" stroke="#1a1a1a" stroke-width="0.45" stroke-linejoin="round"/><text x="152.90" y="719.40" font-size="8.6" fill="#333" textLength="33.60" lengthAdjust="spacingAndGlyphs">crypt37</text><circle cx="11.40" cy="730.80" r="4.15" fill="#fff" stroke="#1a1a1a" stroke-width="0.6"/><path d="M11.40 730.80 L15.55 730.80 A4.15 4.15 0 0 0 8.56 727.77 Z" fill="#1a1a1a" stroke="#1a1a1a" stroke-width="0.45" stroke-linejoin="round"/><circle cx="22.35" cy="730.80" r="4.15" fill="#fff" stroke="#1a1a1a" stroke-width="0.6"/><path d="M22.35 730.80 L26.50 730.80 A4.15 4.15 0 0 0 18.20 730.80 Z" fill="#1a1a1a" stroke="#1a1a1a" stroke-width="0.45" stroke-linejoin="round"/><circle cx="33.30" cy="730.80" r="4.15" fill="#fff" stroke="#1a1a1a" stroke-width="0.6"/><path d="M33.30 730.80 L37.45 730.80 A4.15 4.15 0 0 0 29.15 730.80 Z" fill="#1a1a1a" stroke="#1a1a1a" stroke-width="0.45" stroke-linejoin="round"/><circle cx="44.25" cy="730.80" r="4.15" fill="#fff" stroke="#1a1a1a" stroke-width="0.6"/><path d="M44.25 730.80 L48.40 730.80 A4.15 4.15 0 0 0 48.20 729.52 Z" fill="#1a1a1a" stroke="#1a1a1a" stroke-width="0.45" stroke-linejoin="round"/><circle cx="55.20" cy="730.80" r="4.15" fill="#fff" stroke="#1a1a1a" stroke-width="0.6"/><path d="M55.20 730.80 L59.35 730.80 A4.15 4.15 0 0 0 59.15 729.52 Z" fill="#1a1a1a" stroke="#1a1a1a" stroke-width="0.45" stroke-linejoin="round"/><circle cx="66.15" cy="730.80" r="4.15" fill="#fff" stroke="#1a1a1a" stroke-width="0.6"/><path d="M66.15 730.80 L70.30 730.80 A4.15 4.15 0 0 0 63.31 727.77 Z" fill="#1a1a1a" stroke="#1a1a1a" stroke-width="0.45" stroke-linejoin="round"/><line x1="85.80" y1="728.80" x2="89.80" y2="728.80" stroke="#666" stroke-width="0.75"/><line x1="96.75" y1="728.80" x2="100.75" y2="728.80" stroke="#666" stroke-width="0.75"/><line x1="107.70" y1="728.80" x2="111.70" y2="728.80" stroke="#666" stroke-width="0.75"/><line x1="118.65" y1="728.80" x2="122.65" y2="728.80" stroke="#666" stroke-width="0.75"/><line x1="129.60" y1="728.80" x2="133.60" y2="728.80" stroke="#666" stroke-width="0.75"/><line x1="140.55" y1="728.80" x2="144.55" y2="728.80" stroke="#666" stroke-width="0.75"/><text x="152.90" y="731.90" font-size="8.6" fill="#333" textLength="33.60" lengthAdjust="spacingAndGlyphs">crypt38</text><circle cx="11.40" cy="743.30" r="4.15" fill="#fff" stroke="#1a1a1a" stroke-width="0.6"/><path d="M11.40 743.30 L15.55 743.30 A4.15 4.15 0 0 0 15.35 742.02 Z" fill="#1a1a1a" stroke="#1a1a1a" stroke-width="0.45" stroke-linejoin="round"/><circle cx="22.35" cy="743.30" r="4.15" fill="#fff" stroke="#1a1a1a" stroke-width="0.6"/><path d="M22.35 743.30 L26.50 743.30 A4.15 4.15 0 0 0 26.30 742.02 Z" fill="#1a1a1a" stroke="#1a1a1a" stroke-width="0.45" stroke-linejoin="round"/><circle cx="33.30" cy="743.30" r="4.15" fill="#fff" stroke="#1a1a1a" stroke-width="0.6"/><path d="M33.30 743.30 L37.45 743.30 A4.15 4.15 0 0 0 37.25 742.02 Z" fill="#1a1a1a" stroke="#1a1a1a" stroke-width="0.45" stroke-linejoin="round"/><circle cx="44.25" cy="743.30" r="4.15" fill="#fff" stroke="#1a1a1a" stroke-width="0.6"/><path d="M44.25 743.30 L48.40 743.30 A4.15 4.15 0 0 0 48.20 742.02 Z" fill="#1a1a1a" stroke="#1a1a1a" stroke-width="0.45" stroke-linejoin="round"/><circle cx="55.20" cy="743.30" r="4.15" fill="#fff" stroke="#1a1a1a" stroke-width="0.6"/><path d="M55.20 743.30 L59.35 743.30 A4.15 4.15 0 0 0 59.15 742.02 Z" fill="#1a1a1a" stroke="#1a1a1a" stroke-width="0.45" stroke-linejoin="round"/><circle cx="66.15" cy="743.30" r="4.15" fill="#fff" stroke="#1a1a1a" stroke-width="0.6"/><path d="M66.15 743.30 L70.30 743.30 A4.15 4.15 0 0 0 70.10 742.02 Z" fill="#1a1a1a" stroke="#1a1a1a" stroke-width="0.45" stroke-linejoin="round"/><circle cx="83.50" cy="743.30" r="4.15" fill="#fff" stroke="#1a1a1a" stroke-width="0.6"/><path d="M83.50 743.30 L87.65 743.30 A4.15 4.15 0 0 0 87.00 741.08 Z" fill="#1a1a1a" stroke="#1a1a1a" stroke-width="0.45" stroke-linejoin="round"/><circle cx="94.45" cy="743.30" r="4.15" fill="#fff" stroke="#1a1a1a" stroke-width="0.6"/><path d="M94.45 743.30 L98.60 743.30 A4.15 4.15 0 0 0 97.95 741.08 Z" fill="#1a1a1a" stroke="#1a1a1a" stroke-width="0.45" stroke-linejoin="round"/><circle cx="105.40" cy="743.30" r="4.15" fill="#fff" stroke="#1a1a1a" stroke-width="0.6"/><path d="M105.40 743.30 L109.55 743.30 A4.15 4.15 0 0 0 102.56 740.27 Z" fill="#1a1a1a" stroke="#1a1a1a" stroke-width="0.45" stroke-linejoin="round"/><circle cx="116.35" cy="743.30" r="4.15" fill="#fff" stroke="#1a1a1a" stroke-width="0.6"/><path d="M116.35 743.30 L120.50 743.30 A4.15 4.15 0 0 0 119.85 741.08 Z" fill="#1a1a1a" stroke="#1a1a1a" stroke-width="0.45" stroke-linejoin="round"/><circle cx="127.30" cy="743.30" r="4.15" fill="#fff" stroke="#1a1a1a" stroke-width="0.6"/><path d="M127.30 743.30 L131.45 743.30 A4.15 4.15 0 0 0 130.80 741.08 Z" fill="#1a1a1a" stroke="#1a1a1a" stroke-width="0.45" stroke-linejoin="round"/><circle cx="138.25" cy="743.30" r="4.15" fill="#fff" stroke="#1a1a1a" stroke-width="0.6"/><path d="M138.25 743.30 L142.40 743.30 A4.15 4.15 0 0 0 135.41 740.27 Z" fill="#1a1a1a" stroke="#1a1a1a" stroke-width="0.45" stroke-linejoin="round"/><text x="152.90" y="744.40" font-size="8.6" fill="#333" textLength="33.60" lengthAdjust="spacingAndGlyphs">crypt39</text><circle cx="11.40" cy="755.80" r="4.15" fill="#fff" stroke="#1a1a1a" stroke-width="0.6"/><path d="M11.40 755.80 L15.55 755.80 A4.15 4.15 0 0 0 14.90 753.58 Z" fill="#1a1a1a" stroke="#1a1a1a" stroke-width="0.45" stroke-linejoin="round"/><circle cx="22.35" cy="755.80" r="4.15" fill="#fff" stroke="#1a1a1a" stroke-width="0.6"/><path d="M22.35 755.80 L26.50 755.80 A4.15 4.15 0 0 0 25.85 753.58 Z" fill="#1a1a1a" stroke="#1a1a1a" stroke-width="0.45" stroke-linejoin="round"/><circle cx="33.30" cy="755.80" r="4.15" fill="#fff" stroke="#1a1a1a" stroke-width="0.6"/><path d="M33.30 755.80 L37.45 755.80 A4.15 4.15 0 0 0 37.25 754.52 Z" fill="#1a1a1a" stroke="#1a1a1a" stroke-width="0.45" stroke-linejoin="round"/><circle cx="44.25" cy="755.80" r="4.15" fill="#fff" stroke="#1a1a1a" stroke-width="0.6"/><path d="M44.25 755.80 L48.40 755.80 A4.15 4.15 0 0 0 48.20 754.52 Z" fill="#1a1a1a" stroke="#1a1a1a" stroke-width="0.45" stroke-linejoin="round"/><circle cx="55.20" cy="755.80" r="4.15" fill="#fff" stroke="#1a1a1a" stroke-width="0.6"/><path d="M55.20 755.80 L59.35 755.80 A4.15 4.15 0 0 0 59.15 754.52 Z" fill="#1a1a1a" stroke="#1a1a1a" stroke-width="0.45" stroke-linejoin="round"/><circle cx="66.15" cy="755.80" r="4.15" fill="#fff" stroke="#1a1a1a" stroke-width="0.6"/><path d="M66.15 755.80 L70.30 755.80 A4.15 4.15 0 0 0 70.10 754.52 Z" fill="#1a1a1a" stroke="#1a1a1a" stroke-width="0.45" stroke-linejoin="round"/><circle cx="83.50" cy="755.80" r="4.15" fill="#fff" stroke="#1a1a1a" stroke-width="0.6"/><path d="M83.50 755.80 L87.65 755.80 A4.15 4.15 0 0 0 80.66 752.77 Z" fill="#1a1a1a" stroke="#1a1a1a" stroke-width="0.45" stroke-linejoin="round"/><circle cx="94.45" cy="755.80" r="4.15" fill="#fff" stroke="#1a1a1a" stroke-width="0.6"/><path d="M94.45 755.80 L98.60 755.80 A4.15 4.15 0 0 0 98.40 754.52 Z" fill="#1a1a1a" stroke="#1a1a1a" stroke-width="0.45" stroke-linejoin="round"/><circle cx="105.40" cy="755.80" r="4.15" fill="#fff" stroke="#1a1a1a" stroke-width="0.6"/><path d="M105.40 755.80 L109.55 755.80 A4.15 4.15 0 0 0 109.35 754.52 Z" fill="#1a1a1a" stroke="#1a1a1a" stroke-width="0.45" stroke-linejoin="round"/><circle cx="116.35" cy="755.80" r="4.15" fill="#fff" stroke="#1a1a1a" stroke-width="0.6"/><path d="M116.35 755.80 L120.50 755.80 A4.15 4.15 0 1 0 119.38 758.64 Z" fill="#1a1a1a" stroke="#1a1a1a" stroke-width="0.45" stroke-linejoin="round"/><circle cx="127.30" cy="755.80" r="4.15" fill="#fff" stroke="#1a1a1a" stroke-width="0.6"/><path d="M127.30 755.80 L131.45 755.80 A4.15 4.15 0 0 0 130.80 753.58 Z" fill="#1a1a1a" stroke="#1a1a1a" stroke-width="0.45" stroke-linejoin="round"/><circle cx="138.25" cy="755.80" r="4.15" fill="#fff" stroke="#1a1a1a" stroke-width="0.6"/><path d="M138.25 755.80 L142.40 755.80 A4.15 4.15 0 1 0 141.28 758.64 Z" fill="#1a1a1a" stroke="#1a1a1a" stroke-width="0.45" stroke-linejoin="round"/><text x="152.90" y="756.90" font-size="8.6" fill="#333" textLength="33.60" lengthAdjust="spacingAndGlyphs">crypt40</text><circle cx="11.40" cy="768.30" r="4.15" fill="#fff" stroke="#1a1a1a" stroke-width="0.6"/><path d="M11.40 768.30 L15.55 768.30 A4.15 4.15 0 0 0 14.90 766.08 Z" fill="#1a1a1a" stroke="#1a1a1a" stroke-width="0.45" stroke-linejoin="round"/><circle cx="22.35" cy="768.30" r="4.15" fill="#fff" stroke="#1a1a1a" stroke-width="0.6"/><path d="M22.35 768.30 L26.50 768.30 A4.15 4.15 0 0 0 26.30 767.02 Z" fill="#1a1a1a" stroke="#1a1a1a" stroke-width="0.45" stroke-linejoin="round"/><circle cx="33.30" cy="768.30" r="4.15" fill="#fff" stroke="#1a1a1a" stroke-width="0.6"/><path d="M33.30 768.30 L37.45 768.30 A4.15 4.15 0 0 0 37.25 767.02 Z" fill="#1a1a1a" stroke="#1a1a1a" stroke-width="0.45" stroke-linejoin="round"/><circle cx="44.25" cy="768.30" r="4.15" fill="#fff" stroke="#1a1a1a" stroke-width="0.6"/><path d="M44.25 768.30 L48.40 768.30 A4.15 4.15 0 0 0 48.20 767.02 Z" fill="#1a1a1a" stroke="#1a1a1a" stroke-width="0.45" stroke-linejoin="round"/><circle cx="55.20" cy="768.30" r="4.15" fill="#fff" stroke="#1a1a1a" stroke-width="0.6"/><path d="M55.20 768.30 L59.35 768.30 A4.15 4.15 0 0 0 59.15 767.02 Z" fill="#1a1a1a" stroke="#1a1a1a" stroke-width="0.45" stroke-linejoin="round"/><circle cx="66.15" cy="768.30" r="4.15" fill="#fff" stroke="#1a1a1a" stroke-width="0.6"/><path d="M66.15 768.30 L70.30 768.30 A4.15 4.15 0 0 0 69.65 766.08 Z" fill="#1a1a1a" stroke="#1a1a1a" stroke-width="0.45" stroke-linejoin="round"/><circle cx="83.50" cy="768.30" r="4.15" fill="#fff" stroke="#1a1a1a" stroke-width="0.6"/><path d="M83.50 768.30 L87.65 768.30 A4.15 4.15 0 0 0 87.45 767.02 Z" fill="#1a1a1a" stroke="#1a1a1a" stroke-width="0.45" stroke-linejoin="round"/><circle cx="94.45" cy="768.30" r="4.15" fill="#fff" stroke="#1a1a1a" stroke-width="0.6"/><path d="M94.45 768.30 L98.60 768.30 A4.15 4.15 0 0 0 98.40 767.02 Z" fill="#1a1a1a" stroke="#1a1a1a" stroke-width="0.45" stroke-linejoin="round"/><circle cx="105.40" cy="768.30" r="4.15" fill="#fff" stroke="#1a1a1a" stroke-width="0.6"/><path d="M105.40 768.30 L109.55 768.30 A4.15 4.15 0 0 0 101.25 768.30 Z" fill="#1a1a1a" stroke="#1a1a1a" stroke-width="0.45" stroke-linejoin="round"/><circle cx="116.35" cy="768.30" r="4.15" fill="#fff" stroke="#1a1a1a" stroke-width="0.6"/><path d="M116.35 768.30 L120.50 768.30 A4.15 4.15 0 0 0 112.20 768.30 Z" fill="#1a1a1a" stroke="#1a1a1a" stroke-width="0.45" stroke-linejoin="round"/><circle cx="127.30" cy="768.30" r="4.15" fill="#fff" stroke="#1a1a1a" stroke-width="0.6"/><path d="M127.30 768.30 L131.45 768.30 A4.15 4.15 0 0 0 130.80 766.08 Z" fill="#1a1a1a" stroke="#1a1a1a" stroke-width="0.45" stroke-linejoin="round"/><circle cx="138.25" cy="768.30" r="4.15" fill="#fff" stroke="#1a1a1a" stroke-width="0.6"/><path d="M138.25 768.30 L142.40 768.30 A4.15 4.15 0 0 0 134.10 768.30 Z" fill="#1a1a1a" stroke="#1a1a1a" stroke-width="0.45" stroke-linejoin="round"/><text x="152.90" y="769.40" font-size="8.6" fill="#333" textLength="33.60" lengthAdjust="spacingAndGlyphs">crypt41</text><circle cx="11.40" cy="780.80" r="4.15" fill="#fff" stroke="#1a1a1a" stroke-width="0.6"/><path d="M11.40 780.80 L15.55 780.80 A4.15 4.15 0 0 0 15.35 779.52 Z" fill="#1a1a1a" stroke="#1a1a1a" stroke-width="0.45" stroke-linejoin="round"/><circle cx="22.35" cy="780.80" r="4.15" fill="#fff" stroke="#1a1a1a" stroke-width="0.6"/><path d="M22.35 780.80 L26.50 780.80 A4.15 4.15 0 0 0 26.30 779.52 Z" fill="#1a1a1a" stroke="#1a1a1a" stroke-width="0.45" stroke-linejoin="round"/><circle cx="33.30" cy="780.80" r="4.15" fill="#fff" stroke="#1a1a1a" stroke-width="0.6"/><path d="M33.30 780.80 L37.45 780.80 A4.15 4.15 0 0 0 37.25 779.52 Z" fill="#1a1a1a" stroke="#1a1a1a" stroke-width="0.45" stroke-linejoin="round"/><circle cx="44.25" cy="780.80" r="4.15" fill="#fff" stroke="#1a1a1a" stroke-width="0.6"/><path d="M44.25 780.80 L48.40 780.80 A4.15 4.15 0 0 0 48.20 779.52 Z" fill="#1a1a1a" stroke="#1a1a1a" stroke-width="0.45" stroke-linejoin="round"/><circle cx="55.20" cy="780.80" r="4.15" fill="#fff" stroke="#1a1a1a" stroke-width="0.6"/><path d="M55.20 780.80 L59.35 780.80 A4.15 4.15 0 0 0 59.15 779.52 Z" fill="#1a1a1a" stroke="#1a1a1a" stroke-width="0.45" stroke-linejoin="round"/><circle cx="66.15" cy="780.80" r="4.15" fill="#fff" stroke="#1a1a1a" stroke-width="0.6"/><path d="M66.15 780.80 L70.30 780.80 A4.15 4.15 0 0 0 70.10 779.52 Z" fill="#1a1a1a" stroke="#1a1a1a" stroke-width="0.45" stroke-linejoin="round"/><circle cx="83.50" cy="780.80" r="4.15" fill="#fff" stroke="#1a1a1a" stroke-width="0.6"/><path d="M83.50 780.80 L87.65 780.80 A4.15 4.15 0 0 0 87.45 779.52 Z" fill="#1a1a1a" stroke="#1a1a1a" stroke-width="0.45" stroke-linejoin="round"/><circle cx="94.45" cy="780.80" r="4.15" fill="#fff" stroke="#1a1a1a" stroke-width="0.6"/><path d="M94.45 780.80 L98.60 780.80 A4.15 4.15 0 0 0 98.40 779.52 Z" fill="#1a1a1a" stroke="#1a1a1a" stroke-width="0.45" stroke-linejoin="round"/><circle cx="105.40" cy="780.80" r="4.15" fill="#fff" stroke="#1a1a1a" stroke-width="0.6"/><path d="M105.40 780.80 L109.55 780.80 A4.15 4.15 0 0 0 108.90 778.58 Z" fill="#1a1a1a" stroke="#1a1a1a" stroke-width="0.45" stroke-linejoin="round"/><circle cx="116.35" cy="780.80" r="4.15" fill="#fff" stroke="#1a1a1a" stroke-width="0.6"/><path d="M116.35 780.80 L120.50 780.80 A4.15 4.15 0 0 0 120.30 779.52 Z" fill="#1a1a1a" stroke="#1a1a1a" stroke-width="0.45" stroke-linejoin="round"/><circle cx="127.30" cy="780.80" r="4.15" fill="#fff" stroke="#1a1a1a" stroke-width="0.6"/><path d="M127.30 780.80 L131.45 780.80 A4.15 4.15 0 0 0 131.25 779.52 Z" fill="#1a1a1a" stroke="#1a1a1a" stroke-width="0.45" stroke-linejoin="round"/><circle cx="138.25" cy="780.80" r="4.15" fill="#fff" stroke="#1a1a1a" stroke-width="0.6"/><path d="M138.25 780.80 L142.40 780.80 A4.15 4.15 0 0 0 141.75 778.58 Z" fill="#1a1a1a" stroke="#1a1a1a" stroke-width="0.45" stroke-linejoin="round"/><text x="152.90" y="781.90" font-size="8.6" fill="#333" textLength="33.60" lengthAdjust="spacingAndGlyphs">crypt42</text><line x1="13.70" y1="791.30" x2="17.70" y2="791.30" stroke="#666" stroke-width="0.75"/><line x1="24.65" y1="791.30" x2="28.65" y2="791.30" stroke="#666" stroke-width="0.75"/><line x1="35.60" y1="791.30" x2="39.60" y2="791.30" stroke="#666" stroke-width="0.75"/><line x1="46.55" y1="791.30" x2="50.55" y2="791.30" stroke="#666" stroke-width="0.75"/><line x1="57.50" y1="791.30" x2="61.50" y2="791.30" stroke="#666" stroke-width="0.75"/><line x1="68.45" y1="791.30" x2="72.45" y2="791.30" stroke="#666" stroke-width="0.75"/><circle cx="83.50" cy="793.30" r="4.15" fill="#fff" stroke="#1a1a1a" stroke-width="0.6"/><path d="M83.50 793.30 L87.65 793.30 A4.15 4.15 0 0 0 87.45 792.02 Z" fill="#1a1a1a" stroke="#1a1a1a" stroke-width="0.45" stroke-linejoin="round"/><circle cx="94.45" cy="793.30" r="4.15" fill="#fff" stroke="#1a1a1a" stroke-width="0.6"/><path d="M94.45 793.30 L98.60 793.30 A4.15 4.15 0 0 0 90.30 793.30 Z" fill="#1a1a1a" stroke="#1a1a1a" stroke-width="0.45" stroke-linejoin="round"/><circle cx="105.40" cy="793.30" r="4.15" fill="#fff" stroke="#1a1a1a" stroke-width="0.6"/><path d="M105.40 793.30 L109.55 793.30 A4.15 4.15 0 0 0 101.25 793.30 Z" fill="#1a1a1a" stroke="#1a1a1a" stroke-width="0.45" stroke-linejoin="round"/><circle cx="116.35" cy="793.30" r="4.15" fill="#fff" stroke="#1a1a1a" stroke-width="0.6"/><path d="M116.35 793.30 L120.50 793.30 A4.15 4.15 0 1 0 116.35 797.45 Z" fill="#1a1a1a" stroke="#1a1a1a" stroke-width="0.45" stroke-linejoin="round"/><circle cx="127.30" cy="793.30" r="4.15" fill="#fff" stroke="#1a1a1a" stroke-width="0.6"/><path d="M127.30 793.30 L131.45 793.30 A4.15 4.15 0 0 0 123.15 793.30 Z" fill="#1a1a1a" stroke="#1a1a1a" stroke-width="0.45" stroke-linejoin="round"/><circle cx="138.25" cy="793.30" r="4.15" fill="#fff" stroke="#1a1a1a" stroke-width="0.6"/><path d="M138.25 793.30 L142.40 793.30 A4.15 4.15 0 0 0 134.10 793.30 Z" fill="#1a1a1a" stroke="#1a1a1a" stroke-width="0.45" stroke-linejoin="round"/><text x="152.90" y="794.40" font-size="8.6" fill="#333" textLength="33.60" lengthAdjust="spacingAndGlyphs">crypt43</text><circle cx="11.40" cy="805.80" r="4.15" fill="#fff" stroke="#1a1a1a" stroke-width="0.6"/><path d="M11.40 805.80 L15.55 805.80 A4.15 4.15 0 0 0 15.35 804.52 Z" fill="#1a1a1a" stroke="#1a1a1a" stroke-width="0.45" stroke-linejoin="round"/><circle cx="22.35" cy="805.80" r="4.15" fill="#fff" stroke="#1a1a1a" stroke-width="0.6"/><path d="M22.35 805.80 L26.50 805.80 A4.15 4.15 0 0 0 26.30 804.52 Z" fill="#1a1a1a" stroke="#1a1a1a" stroke-width="0.45" stroke-linejoin="round"/><circle cx="33.30" cy="805.80" r="4.15" fill="#fff" stroke="#1a1a1a" stroke-width="0.6"/><path d="M33.30 805.80 L37.45 805.80 A4.15 4.15 0 0 0 37.25 804.52 Z" fill="#1a1a1a" stroke="#1a1a1a" stroke-width="0.45" stroke-linejoin="round"/><circle cx="44.25" cy="805.80" r="4.15" fill="#fff" stroke="#1a1a1a" stroke-width="0.6"/><path d="M44.25 805.80 L48.40 805.80 A4.15 4.15 0 0 0 48.20 804.52 Z" fill="#1a1a1a" stroke="#1a1a1a" stroke-width="0.45" stroke-linejoin="round"/><circle cx="55.20" cy="805.80" r="4.15" fill="#fff" stroke="#1a1a1a" stroke-width="0.6"/><path d="M55.20 805.80 L59.35 805.80 A4.15 4.15 0 0 0 59.15 804.52 Z" fill="#1a1a1a" stroke="#1a1a1a" stroke-width="0.45" stroke-linejoin="round"/><circle cx="66.15" cy="805.80" r="4.15" fill="#fff" stroke="#1a1a1a" stroke-width="0.6"/><path d="M66.15 805.80 L70.30 805.80 A4.15 4.15 0 0 0 70.10 804.52 Z" fill="#1a1a1a" stroke="#1a1a1a" stroke-width="0.45" stroke-linejoin="round"/><circle cx="83.50" cy="805.80" r="4.15" fill="#fff" stroke="#1a1a1a" stroke-width="0.6"/><path d="M83.50 805.80 L87.65 805.80 A4.15 4.15 0 0 0 80.66 802.77 Z" fill="#1a1a1a" stroke="#1a1a1a" stroke-width="0.45" stroke-linejoin="round"/><circle cx="94.45" cy="805.80" r="4.15" fill="#fff" stroke="#1a1a1a" stroke-width="0.6"/><path d="M94.45 805.80 L98.60 805.80 A4.15 4.15 0 0 0 91.61 802.77 Z" fill="#1a1a1a" stroke="#1a1a1a" stroke-width="0.45" stroke-linejoin="round"/><circle cx="105.40" cy="805.80" r="4.15" fill="#fff" stroke="#1a1a1a" stroke-width="0.6"/><path d="M105.40 805.80 L109.55 805.80 A4.15 4.15 0 0 0 101.25 805.80 Z" fill="#1a1a1a" stroke="#1a1a1a" stroke-width="0.45" stroke-linejoin="round"/><circle cx="116.35" cy="805.80" r="4.15" fill="#fff" stroke="#1a1a1a" stroke-width="0.6"/><path d="M116.35 805.80 L120.50 805.80 A4.15 4.15 0 0 0 112.20 805.80 Z" fill="#1a1a1a" stroke="#1a1a1a" stroke-width="0.45" stroke-linejoin="round"/><circle cx="127.30" cy="805.80" r="4.15" fill="#fff" stroke="#1a1a1a" stroke-width="0.6"/><path d="M127.30 805.80 L131.45 805.80 A4.15 4.15 0 0 0 130.80 803.58 Z" fill="#1a1a1a" stroke="#1a1a1a" stroke-width="0.45" stroke-linejoin="round"/><circle cx="138.25" cy="805.80" r="4.15" fill="#fff" stroke="#1a1a1a" stroke-width="0.6"/><path d="M138.25 805.80 L142.40 805.80 A4.15 4.15 0 0 0 134.10 805.80 Z" fill="#1a1a1a" stroke="#1a1a1a" stroke-width="0.45" stroke-linejoin="round"/><text x="152.90" y="806.90" font-size="8.6" fill="#333" textLength="33.60" lengthAdjust="spacingAndGlyphs">crypt44</text><circle cx="11.40" cy="818.30" r="4.15" fill="#fff" stroke="#1a1a1a" stroke-width="0.6"/><path d="M11.40 818.30 L15.55 818.30 A4.15 4.15 0 0 0 15.35 817.02 Z" fill="#1a1a1a" stroke="#1a1a1a" stroke-width="0.45" stroke-linejoin="round"/><circle cx="22.35" cy="818.30" r="4.15" fill="#fff" stroke="#1a1a1a" stroke-width="0.6"/><path d="M22.35 818.30 L26.50 818.30 A4.15 4.15 0 0 0 26.30 817.02 Z" fill="#1a1a1a" stroke="#1a1a1a" stroke-width="0.45" stroke-linejoin="round"/><circle cx="33.30" cy="818.30" r="4.15" fill="#fff" stroke="#1a1a1a" stroke-width="0.6"/><path d="M33.30 818.30 L37.45 818.30 A4.15 4.15 0 0 0 36.80 816.08 Z" fill="#1a1a1a" stroke="#1a1a1a" stroke-width="0.45" stroke-linejoin="round"/><circle cx="44.25" cy="818.30" r="4.15" fill="#fff" stroke="#1a1a1a" stroke-width="0.6"/><path d="M44.25 818.30 L48.40 818.30 A4.15 4.15 0 0 0 48.20 817.02 Z" fill="#1a1a1a" stroke="#1a1a1a" stroke-width="0.45" stroke-linejoin="round"/><circle cx="55.20" cy="818.30" r="4.15" fill="#fff" stroke="#1a1a1a" stroke-width="0.6"/><path d="M55.20 818.30 L59.35 818.30 A4.15 4.15 0 0 0 59.15 817.02 Z" fill="#1a1a1a" stroke="#1a1a1a" stroke-width="0.45" stroke-linejoin="round"/><circle cx="66.15" cy="818.30" r="4.15" fill="#fff" stroke="#1a1a1a" stroke-width="0.6"/><path d="M66.15 818.30 L70.30 818.30 A4.15 4.15 0 0 0 66.15 814.15 Z" fill="#1a1a1a" stroke="#1a1a1a" stroke-width="0.45" stroke-linejoin="round"/><circle cx="83.50" cy="818.30" r="4.15" fill="#fff" stroke="#1a1a1a" stroke-width="0.6"/><path d="M83.50 818.30 L87.65 818.30 A4.15 4.15 0 0 0 87.45 817.02 Z" fill="#1a1a1a" stroke="#1a1a1a" stroke-width="0.45" stroke-linejoin="round"/><circle cx="94.45" cy="818.30" r="4.15" fill="#fff" stroke="#1a1a1a" stroke-width="0.6"/><path d="M94.45 818.30 L98.60 818.30 A4.15 4.15 0 0 0 90.30 818.30 Z" fill="#1a1a1a" stroke="#1a1a1a" stroke-width="0.45" stroke-linejoin="round"/><circle cx="105.40" cy="818.30" r="4.15" fill="#fff" stroke="#1a1a1a" stroke-width="0.6"/><path d="M105.40 818.30 L109.55 818.30 A4.15 4.15 0 0 0 107.62 814.80 Z" fill="#1a1a1a" stroke="#1a1a1a" stroke-width="0.45" stroke-linejoin="round"/><circle cx="116.35" cy="818.30" r="4.15" fill="#fff" stroke="#1a1a1a" stroke-width="0.6"/><path d="M116.35 818.30 L120.50 818.30 A4.15 4.15 0 0 0 118.57 814.80 Z" fill="#1a1a1a" stroke="#1a1a1a" stroke-width="0.45" stroke-linejoin="round"/><circle cx="127.30" cy="818.30" r="4.15" fill="#fff" stroke="#1a1a1a" stroke-width="0.6"/><path d="M127.30 818.30 L131.45 818.30 A4.15 4.15 0 0 0 129.52 814.80 Z" fill="#1a1a1a" stroke="#1a1a1a" stroke-width="0.45" stroke-linejoin="round"/><circle cx="138.25" cy="818.30" r="4.15" fill="#fff" stroke="#1a1a1a" stroke-width="0.6"/><path d="M138.25 818.30 L142.40 818.30 A4.15 4.15 0 0 0 134.10 818.30 Z" fill="#1a1a1a" stroke="#1a1a1a" stroke-width="0.45" stroke-linejoin="round"/><text x="152.90" y="819.40" font-size="8.6" fill="#333" textLength="33.60" lengthAdjust="spacingAndGlyphs">crypt45</text><circle cx="11.40" cy="830.80" r="4.15" fill="#fff" stroke="#1a1a1a" stroke-width="0.6"/><path d="M11.40 830.80 L15.55 830.80 A4.15 4.15 0 0 0 14.90 828.58 Z" fill="#1a1a1a" stroke="#1a1a1a" stroke-width="0.45" stroke-linejoin="round"/><circle cx="22.35" cy="830.80" r="4.15" fill="#fff" stroke="#1a1a1a" stroke-width="0.6"/><path d="M22.35 830.80 L26.50 830.80 A4.15 4.15 0 0 0 26.30 829.52 Z" fill="#1a1a1a" stroke="#1a1a1a" stroke-width="0.45" stroke-linejoin="round"/><circle cx="33.30" cy="830.80" r="4.15" fill="#fff" stroke="#1a1a1a" stroke-width="0.6"/><path d="M33.30 830.80 L37.45 830.80 A4.15 4.15 0 0 0 37.25 829.52 Z" fill="#1a1a1a" stroke="#1a1a1a" stroke-width="0.45" stroke-linejoin="round"/><circle cx="44.25" cy="830.80" r="4.15" fill="#fff" stroke="#1a1a1a" stroke-width="0.6"/><path d="M44.25 830.80 L48.40 830.80 A4.15 4.15 0 0 0 48.20 829.52 Z" fill="#1a1a1a" stroke="#1a1a1a" stroke-width="0.45" stroke-linejoin="round"/><circle cx="55.20" cy="830.80" r="4.15" fill="#fff" stroke="#1a1a1a" stroke-width="0.6"/><path d="M55.20 830.80 L59.35 830.80 A4.15 4.15 0 0 0 59.15 829.52 Z" fill="#1a1a1a" stroke="#1a1a1a" stroke-width="0.45" stroke-linejoin="round"/><circle cx="66.15" cy="830.80" r="4.15" fill="#fff" stroke="#1a1a1a" stroke-width="0.6"/><path d="M66.15 830.80 L70.30 830.80 A4.15 4.15 0 0 0 70.10 829.52 Z" fill="#1a1a1a" stroke="#1a1a1a" stroke-width="0.45" stroke-linejoin="round"/><line x1="85.80" y1="828.80" x2="89.80" y2="828.80" stroke="#666" stroke-width="0.75"/><line x1="96.75" y1="828.80" x2="100.75" y2="828.80" stroke="#666" stroke-width="0.75"/><line x1="107.70" y1="828.80" x2="111.70" y2="828.80" stroke="#666" stroke-width="0.75"/><line x1="118.65" y1="828.80" x2="122.65" y2="828.80" stroke="#666" stroke-width="0.75"/><line x1="129.60" y1="828.80" x2="133.60" y2="828.80" stroke="#666" stroke-width="0.75"/><line x1="140.55" y1="828.80" x2="144.55" y2="828.80" stroke="#666" stroke-width="0.75"/><text x="152.90" y="831.90" font-size="8.6" fill="#333" textLength="33.60" lengthAdjust="spacingAndGlyphs">crypt46</text><circle cx="11.40" cy="843.30" r="4.15" fill="#fff" stroke="#1a1a1a" stroke-width="0.6"/><path d="M11.40 843.30 L15.55 843.30 A4.15 4.15 0 0 0 15.35 842.02 Z" fill="#1a1a1a" stroke="#1a1a1a" stroke-width="0.45" stroke-linejoin="round"/><circle cx="22.35" cy="843.30" r="4.15" fill="#fff" stroke="#1a1a1a" stroke-width="0.6"/><path d="M22.35 843.30 L26.50 843.30 A4.15 4.15 0 0 0 26.30 842.02 Z" fill="#1a1a1a" stroke="#1a1a1a" stroke-width="0.45" stroke-linejoin="round"/><circle cx="33.30" cy="843.30" r="4.15" fill="#fff" stroke="#1a1a1a" stroke-width="0.6"/><path d="M33.30 843.30 L37.45 843.30 A4.15 4.15 0 0 0 37.25 842.02 Z" fill="#1a1a1a" stroke="#1a1a1a" stroke-width="0.45" stroke-linejoin="round"/><circle cx="44.25" cy="843.30" r="4.15" fill="#fff" stroke="#1a1a1a" stroke-width="0.6"/><path d="M44.25 843.30 L48.40 843.30 A4.15 4.15 0 0 0 48.20 842.02 Z" fill="#1a1a1a" stroke="#1a1a1a" stroke-width="0.45" stroke-linejoin="round"/><circle cx="55.20" cy="843.30" r="4.15" fill="#fff" stroke="#1a1a1a" stroke-width="0.6"/><path d="M55.20 843.30 L59.35 843.30 A4.15 4.15 0 0 0 59.15 842.02 Z" fill="#1a1a1a" stroke="#1a1a1a" stroke-width="0.45" stroke-linejoin="round"/><circle cx="66.15" cy="843.30" r="4.15" fill="#fff" stroke="#1a1a1a" stroke-width="0.6"/><path d="M66.15 843.30 L70.30 843.30 A4.15 4.15 0 0 0 69.65 841.08 Z" fill="#1a1a1a" stroke="#1a1a1a" stroke-width="0.45" stroke-linejoin="round"/><circle cx="83.50" cy="843.30" r="4.15" fill="#fff" stroke="#1a1a1a" stroke-width="0.6"/><path d="M83.50 843.30 L87.65 843.30 A4.15 4.15 0 0 0 87.45 842.02 Z" fill="#1a1a1a" stroke="#1a1a1a" stroke-width="0.45" stroke-linejoin="round"/><circle cx="94.45" cy="843.30" r="4.15" fill="#fff" stroke="#1a1a1a" stroke-width="0.6"/><path d="M94.45 843.30 L98.60 843.30 A4.15 4.15 0 0 0 98.40 842.02 Z" fill="#1a1a1a" stroke="#1a1a1a" stroke-width="0.45" stroke-linejoin="round"/><circle cx="105.40" cy="843.30" r="4.15" fill="#fff" stroke="#1a1a1a" stroke-width="0.6"/><path d="M105.40 843.30 L109.55 843.30 A4.15 4.15 0 0 0 109.35 842.02 Z" fill="#1a1a1a" stroke="#1a1a1a" stroke-width="0.45" stroke-linejoin="round"/><circle cx="116.35" cy="843.30" r="4.15" fill="#fff" stroke="#1a1a1a" stroke-width="0.6"/><path d="M116.35 843.30 L120.50 843.30 A4.15 4.15 0 0 0 120.30 842.02 Z" fill="#1a1a1a" stroke="#1a1a1a" stroke-width="0.45" stroke-linejoin="round"/><circle cx="127.30" cy="843.30" r="4.15" fill="#fff" stroke="#1a1a1a" stroke-width="0.6"/><path d="M127.30 843.30 L131.45 843.30 A4.15 4.15 0 0 0 131.25 842.02 Z" fill="#1a1a1a" stroke="#1a1a1a" stroke-width="0.45" stroke-linejoin="round"/><circle cx="138.25" cy="843.30" r="4.15" fill="#fff" stroke="#1a1a1a" stroke-width="0.6"/><path d="M138.25 843.30 L142.40 843.30 A4.15 4.15 0 0 0 135.41 840.27 Z" fill="#1a1a1a" stroke="#1a1a1a" stroke-width="0.45" stroke-linejoin="round"/><text x="152.90" y="844.40" font-size="8.6" fill="#333" textLength="33.60" lengthAdjust="spacingAndGlyphs">crypt47</text><circle cx="11.40" cy="855.80" r="4.15" fill="#fff" stroke="#1a1a1a" stroke-width="0.6"/><path d="M11.40 855.80 L15.55 855.80 A4.15 4.15 0 0 0 15.35 854.52 Z" fill="#1a1a1a" stroke="#1a1a1a" stroke-width="0.45" stroke-linejoin="round"/><circle cx="22.35" cy="855.80" r="4.15" fill="#fff" stroke="#1a1a1a" stroke-width="0.6"/><path d="M22.35 855.80 L26.50 855.80 A4.15 4.15 0 0 0 26.30 854.52 Z" fill="#1a1a1a" stroke="#1a1a1a" stroke-width="0.45" stroke-linejoin="round"/><circle cx="33.30" cy="855.80" r="4.15" fill="#fff" stroke="#1a1a1a" stroke-width="0.6"/><path d="M33.30 855.80 L37.45 855.80 A4.15 4.15 0 0 0 37.25 854.52 Z" fill="#1a1a1a" stroke="#1a1a1a" stroke-width="0.45" stroke-linejoin="round"/><circle cx="44.25" cy="855.80" r="4.15" fill="#fff" stroke="#1a1a1a" stroke-width="0.6"/><path d="M44.25 855.80 L48.40 855.80 A4.15 4.15 0 0 0 48.20 854.52 Z" fill="#1a1a1a" stroke="#1a1a1a" stroke-width="0.45" stroke-linejoin="round"/><circle cx="55.20" cy="855.80" r="4.15" fill="#fff" stroke="#1a1a1a" stroke-width="0.6"/><path d="M55.20 855.80 L59.35 855.80 A4.15 4.15 0 0 0 59.15 854.52 Z" fill="#1a1a1a" stroke="#1a1a1a" stroke-width="0.45" stroke-linejoin="round"/><circle cx="66.15" cy="855.80" r="4.15" fill="#fff" stroke="#1a1a1a" stroke-width="0.6"/><path d="M66.15 855.80 L70.30 855.80 A4.15 4.15 0 0 0 70.10 854.52 Z" fill="#1a1a1a" stroke="#1a1a1a" stroke-width="0.45" stroke-linejoin="round"/><circle cx="83.50" cy="855.80" r="4.15" fill="#fff" stroke="#1a1a1a" stroke-width="0.6"/><path d="M83.50 855.80 L87.65 855.80 A4.15 4.15 0 0 0 79.35 855.80 Z" fill="#1a1a1a" stroke="#1a1a1a" stroke-width="0.45" stroke-linejoin="round"/><circle cx="94.45" cy="855.80" r="4.15" fill="#fff" stroke="#1a1a1a" stroke-width="0.6"/><path d="M94.45 855.80 L98.60 855.80 A4.15 4.15 0 0 0 91.61 852.77 Z" fill="#1a1a1a" stroke="#1a1a1a" stroke-width="0.45" stroke-linejoin="round"/><circle cx="105.40" cy="855.80" r="4.15" fill="#fff" stroke="#1a1a1a" stroke-width="0.6"/><path d="M105.40 855.80 L109.55 855.80 A4.15 4.15 0 0 0 109.35 854.52 Z" fill="#1a1a1a" stroke="#1a1a1a" stroke-width="0.45" stroke-linejoin="round"/><circle cx="116.35" cy="855.80" r="4.15" fill="#fff" stroke="#1a1a1a" stroke-width="0.6"/><path d="M116.35 855.80 L120.50 855.80 A4.15 4.15 0 0 0 120.30 854.52 Z" fill="#1a1a1a" stroke="#1a1a1a" stroke-width="0.45" stroke-linejoin="round"/><circle cx="127.30" cy="855.80" r="4.15" fill="#fff" stroke="#1a1a1a" stroke-width="0.6"/><path d="M127.30 855.80 L131.45 855.80 A4.15 4.15 0 0 0 131.25 854.52 Z" fill="#1a1a1a" stroke="#1a1a1a" stroke-width="0.45" stroke-linejoin="round"/><circle cx="138.25" cy="855.80" r="4.15" fill="#fff" stroke="#1a1a1a" stroke-width="0.6"/><path d="M138.25 855.80 L142.40 855.80 A4.15 4.15 0 0 0 141.75 853.58 Z" fill="#1a1a1a" stroke="#1a1a1a" stroke-width="0.45" stroke-linejoin="round"/><text x="152.90" y="856.90" font-size="8.6" fill="#333" textLength="33.60" lengthAdjust="spacingAndGlyphs">crypt48</text><circle cx="11.40" cy="868.30" r="4.15" fill="#fff" stroke="#1a1a1a" stroke-width="0.6"/><path d="M11.40 868.30 L15.55 868.30 A4.15 4.15 0 0 0 15.35 867.02 Z" fill="#1a1a1a" stroke="#1a1a1a" stroke-width="0.45" stroke-linejoin="round"/><circle cx="22.35" cy="868.30" r="4.15" fill="#fff" stroke="#1a1a1a" stroke-width="0.6"/><path d="M22.35 868.30 L26.50 868.30 A4.15 4.15 0 0 0 26.30 867.02 Z" fill="#1a1a1a" stroke="#1a1a1a" stroke-width="0.45" stroke-linejoin="round"/><circle cx="33.30" cy="868.30" r="4.15" fill="#fff" stroke="#1a1a1a" stroke-width="0.6"/><path d="M33.30 868.30 L37.45 868.30 A4.15 4.15 0 0 0 37.25 867.02 Z" fill="#1a1a1a" stroke="#1a1a1a" stroke-width="0.45" stroke-linejoin="round"/><circle cx="44.25" cy="868.30" r="4.15" fill="#fff" stroke="#1a1a1a" stroke-width="0.6"/><path d="M44.25 868.30 L48.40 868.30 A4.15 4.15 0 0 0 48.20 867.02 Z" fill="#1a1a1a" stroke="#1a1a1a" stroke-width="0.45" stroke-linejoin="round"/><circle cx="55.20" cy="868.30" r="4.15" fill="#fff" stroke="#1a1a1a" stroke-width="0.6"/><path d="M55.20 868.30 L59.35 868.30 A4.15 4.15 0 0 0 59.15 867.02 Z" fill="#1a1a1a" stroke="#1a1a1a" stroke-width="0.45" stroke-linejoin="round"/><circle cx="66.15" cy="868.30" r="4.15" fill="#fff" stroke="#1a1a1a" stroke-width="0.6"/><path d="M66.15 868.30 L70.30 868.30 A4.15 4.15 0 0 0 70.10 867.02 Z" fill="#1a1a1a" stroke="#1a1a1a" stroke-width="0.45" stroke-linejoin="round"/><circle cx="83.50" cy="868.30" r="4.15" fill="#fff" stroke="#1a1a1a" stroke-width="0.6"/><path d="M83.50 868.30 L87.65 868.30 A4.15 4.15 0 0 0 87.45 867.02 Z" fill="#1a1a1a" stroke="#1a1a1a" stroke-width="0.45" stroke-linejoin="round"/><circle cx="94.45" cy="868.30" r="4.15" fill="#fff" stroke="#1a1a1a" stroke-width="0.6"/><path d="M94.45 868.30 L98.60 868.30 A4.15 4.15 0 0 0 98.40 867.02 Z" fill="#1a1a1a" stroke="#1a1a1a" stroke-width="0.45" stroke-linejoin="round"/><circle cx="105.40" cy="868.30" r="4.15" fill="#fff" stroke="#1a1a1a" stroke-width="0.6"/><path d="M105.40 868.30 L109.55 868.30 A4.15 4.15 0 1 0 108.43 871.14 Z" fill="#1a1a1a" stroke="#1a1a1a" stroke-width="0.45" stroke-linejoin="round"/><circle cx="116.35" cy="868.30" r="4.15" fill="#fff" stroke="#1a1a1a" stroke-width="0.6"/><path d="M116.35 868.30 L120.50 868.30 A4.15 4.15 0 0 0 112.20 868.30 Z" fill="#1a1a1a" stroke="#1a1a1a" stroke-width="0.45" stroke-linejoin="round"/><circle cx="127.30" cy="868.30" r="4.15" fill="#fff" stroke="#1a1a1a" stroke-width="0.6"/><path d="M127.30 868.30 L131.45 868.30 A4.15 4.15 0 0 0 123.15 868.30 Z" fill="#1a1a1a" stroke="#1a1a1a" stroke-width="0.45" stroke-linejoin="round"/><circle cx="138.25" cy="868.30" r="4.15" fill="#fff" stroke="#1a1a1a" stroke-width="0.6"/><path d="M138.25 868.30 L142.40 868.30 A4.15 4.15 0 1 0 141.28 871.14 Z" fill="#1a1a1a" stroke="#1a1a1a" stroke-width="0.45" stroke-linejoin="round"/><text x="152.90" y="869.40" font-size="8.6" fill="#333" textLength="33.60" lengthAdjust="spacingAndGlyphs">crypt49</text><circle cx="11.40" cy="880.80" r="4.15" fill="#fff" stroke="#1a1a1a" stroke-width="0.6"/><path d="M11.40 880.80 L15.55 880.80 A4.15 4.15 0 0 0 15.35 879.52 Z" fill="#1a1a1a" stroke="#1a1a1a" stroke-width="0.45" stroke-linejoin="round"/><circle cx="22.35" cy="880.80" r="4.15" fill="#fff" stroke="#1a1a1a" stroke-width="0.6"/><path d="M22.35 880.80 L26.50 880.80 A4.15 4.15 0 0 0 26.30 879.52 Z" fill="#1a1a1a" stroke="#1a1a1a" stroke-width="0.45" stroke-linejoin="round"/><circle cx="33.30" cy="880.80" r="4.15" fill="#fff" stroke="#1a1a1a" stroke-width="0.6"/><path d="M33.30 880.80 L37.45 880.80 A4.15 4.15 0 0 0 37.25 879.52 Z" fill="#1a1a1a" stroke="#1a1a1a" stroke-width="0.45" stroke-linejoin="round"/><circle cx="44.25" cy="880.80" r="4.15" fill="#fff" stroke="#1a1a1a" stroke-width="0.6"/><path d="M44.25 880.80 L48.40 880.80 A4.15 4.15 0 0 0 48.20 879.52 Z" fill="#1a1a1a" stroke="#1a1a1a" stroke-width="0.45" stroke-linejoin="round"/><circle cx="55.20" cy="880.80" r="4.15" fill="#fff" stroke="#1a1a1a" stroke-width="0.6"/><path d="M55.20 880.80 L59.35 880.80 A4.15 4.15 0 0 0 59.15 879.52 Z" fill="#1a1a1a" stroke="#1a1a1a" stroke-width="0.45" stroke-linejoin="round"/><circle cx="66.15" cy="880.80" r="4.15" fill="#fff" stroke="#1a1a1a" stroke-width="0.6"/><path d="M66.15 880.80 L70.30 880.80 A4.15 4.15 0 0 0 70.10 879.52 Z" fill="#1a1a1a" stroke="#1a1a1a" stroke-width="0.45" stroke-linejoin="round"/><line x1="85.80" y1="878.80" x2="89.80" y2="878.80" stroke="#666" stroke-width="0.75"/><line x1="96.75" y1="878.80" x2="100.75" y2="878.80" stroke="#666" stroke-width="0.75"/><line x1="107.70" y1="878.80" x2="111.70" y2="878.80" stroke="#666" stroke-width="0.75"/><line x1="118.65" y1="878.80" x2="122.65" y2="878.80" stroke="#666" stroke-width="0.75"/><line x1="129.60" y1="878.80" x2="133.60" y2="878.80" stroke="#666" stroke-width="0.75"/><line x1="140.55" y1="878.80" x2="144.55" y2="878.80" stroke="#666" stroke-width="0.75"/><text x="152.90" y="881.90" font-size="8.6" fill="#333" textLength="33.60" lengthAdjust="spacingAndGlyphs">crypt50</text><circle cx="210.60" cy="216.90" r="4.15" fill="#fff" stroke="#1a1a1a" stroke-width="0.6"/><path d="M210.60 216.90 L214.75 216.90 A4.15 4.15 0 0 0 214.75 216.77 Z" fill="#1a1a1a" stroke="#1a1a1a" stroke-width="0.45" stroke-linejoin="round"/><circle cx="210.60" cy="229.00" r="4.15" fill="#fff" stroke="#1a1a1a" stroke-width="0.6"/><path d="M210.60 229.00 L214.75 229.00 A4.15 4.15 0 0 0 206.45 229.00 Z" fill="#1a1a1a" stroke="#1a1a1a" stroke-width="0.45" stroke-linejoin="round"/><circle cx="210.60" cy="241.00" r="4.15" fill="#1a1a1a" stroke="#1a1a1a" stroke-width="0.6"/><line x1="209.40" y1="252.60" x2="213.60" y2="252.60" stroke="#666" stroke-width="0.75"/><text x="217.90" y="219.90" font-size="8.3" fill="#333" textLength="11.50" lengthAdjust="spacingAndGlyphs">0%</text><text x="217.90" y="232.10" font-size="8.3" fill="#333" textLength="16.50" lengthAdjust="spacingAndGlyphs">50%</text><text x="217.90" y="244.20" font-size="8.3" fill="#333" textLength="20.50" lengthAdjust="spacingAndGlyphs">100%</text><text x="217.90" y="255.60" font-size="8.3" fill="#333" textLength="11.00" lengthAdjust="spacingAndGlyphs">NA</text><text x="218.70" y="265.70" font-size="8.8" text-anchor="middle" fill="#333" textLength="51.00" lengthAdjust="spacingAndGlyphs">Methylation</text><text x="218.70" y="276.90" font-size="8.8" text-anchor="middle" fill="#333" textLength="20.00" lengthAdjust="spacingAndGlyphs">level</text></g>
<g id="pc"><text x="447.50" y="8.90" font-size="15.5" fill="#000" font-weight="bold">c</text><text x="497.20" y="8.00" font-size="9" fill="#333" textLength="54.20" lengthAdjust="spacingAndGlyphs">Dkk2 (CpGs)</text><line x1="484.10" y1="21.50" x2="484.10" y2="138.30" stroke="#333" stroke-width="0.7"/><line x1="481.90" y1="138.00" x2="562.60" y2="138.00" stroke="#333" stroke-width="0.7"/><line x1="481.90" y1="21.50" x2="484.10" y2="21.50" stroke="#333" stroke-width="0.7"/><text x="462.80" y="24.50" font-size="8.5" fill="#333" textLength="16.00" lengthAdjust="spacingAndGlyphs">100</text><line x1="481.90" y1="79.75" x2="484.10" y2="79.75" stroke="#333" stroke-width="0.7"/><text x="468.20" y="82.75" font-size="8.5" fill="#333" textLength="10.60" lengthAdjust="spacingAndGlyphs">50</text><line x1="481.90" y1="138.00" x2="484.10" y2="138.00" stroke="#333" stroke-width="0.7"/><text x="473.50" y="141.00" font-size="8.5" fill="#333" textLength="5.30" lengthAdjust="spacingAndGlyphs">0</text><line x1="507.40" y1="138.00" x2="507.40" y2="140.60" stroke="#333" stroke-width="0.7"/><line x1="540.60" y1="138.00" x2="540.60" y2="140.60" stroke="#333" stroke-width="0.7"/><text x="455.20" y="116.40" font-size="9" fill="#333" transform="rotate(-90 455.20 116.40)" textLength="72.50" lengthAdjust="spacingAndGlyphs">Percentage 5mC</text><text x="493.80" y="153.40" font-size="8.8" fill="#333" textLength="27.60" lengthAdjust="spacingAndGlyphs">Young</text><text x="529.20" y="153.40" font-size="8.8" fill="#333" textLength="23.00" lengthAdjust="spacingAndGlyphs">Aged</text><path d="M496.70 129.80 L496.70 133.60 L500.90 134.30 L501.10 135.50 L504.90 136.40 L509.90 136.40 L513.70 135.50 L513.90 134.30 L518.10 133.60 L518.10 129.80 L513.90 129.10 L513.70 127.60 L509.80 126.80 L508.90 123.00 L508.50 114.00 L506.30 114.00 L505.90 123.00 L505.00 126.80 L501.10 127.60 L500.90 129.10Z" fill="#1a1a1a" stroke="#1a1a1a" stroke-width="0.8" stroke-linejoin="round"/><circle cx="507.4" cy="124.02" r="1.05" fill="#1a1a1a"/><circle cx="507.4" cy="122.27" r="1.05" fill="#1a1a1a"/><circle cx="507.4" cy="120.53" r="1.05" fill="#1a1a1a"/><circle cx="507.4" cy="118.78" r="1.05" fill="#1a1a1a"/><circle cx="507.4" cy="117.03" r="1.05" fill="#1a1a1a"/><circle cx="507.4" cy="115.28" r="1.05" fill="#1a1a1a"/><circle cx="507.4" cy="113.53" r="1.05" fill="#1a1a1a"/><circle cx="507.4" cy="111.20" r="1.05" fill="#1a1a1a"/><circle cx="507.4" cy="108.88" r="1.05" fill="#1a1a1a"/><circle cx="507.4" cy="106.55" r="1.05" fill="#1a1a1a"/><circle cx="507.4" cy="103.63" r="1.05" fill="#1a1a1a"/><circle cx="507.4" cy="100.72" r="1.05" fill="#1a1a1a"/><circle cx="507.4" cy="97.22" r="1.05" fill="#1a1a1a"/><circle cx="507.4" cy="93.73" r="1.05" fill="#1a1a1a"/><circle cx="507.4" cy="90.23" r="1.05" fill="#1a1a1a"/><circle cx="507.4" cy="86.74" r="1.05" fill="#1a1a1a"/><circle cx="507.4" cy="84.41" r="1.05" fill="#1a1a1a"/><circle cx="507.4" cy="82.66" r="1.05" fill="#1a1a1a"/><circle cx="507.4" cy="80.91" r="1.05" fill="#1a1a1a"/><circle cx="507.4" cy="77.42" r="1.05" fill="#1a1a1a"/><line x1="507.40" y1="124.02" x2="507.40" y2="79.75" stroke="#1a1a1a" stroke-width="0.5"/><path d="M540.60 21.50 L540.10 24.99 L538.40 30.82 L538.00 35.48 L539.00 40.14 L539.90 47.13 L540.00 61.11 L539.00 70.43 L536.40 77.42 L536.00 82.08 L536.60 86.74 L539.00 93.73 L539.60 103.05 L539.20 112.37 L537.40 119.36 L533.10 125.19 L529.60 129.84 L529.20 133.34 L531.60 136.25 L534.60 138.00 L546.60 138.00 L549.60 136.25 L552.00 133.34 L551.60 129.84 L548.10 125.19 L543.80 119.36 L542.00 112.37 L541.60 103.05 L542.20 93.73 L544.60 86.74 L545.20 82.08 L544.80 77.42 L542.20 70.43 L541.20 61.11 L541.30 47.13 L542.20 40.14 L543.20 35.48 L542.80 30.82 L541.10 24.99 L540.60 21.50Z" fill="#fff" stroke="#1a1a1a" stroke-width="0.5"/><path d="M529.90 130.50 L529.90 134.40 L532.60 135.60 L548.60 135.60 L551.30 134.40 L551.30 130.50 L548.60 129.20 L545.60 128.40 L543.20 126.50 L542.40 122.00 L542.00 112.00 L539.20 112.00 L538.80 122.00 L538.00 126.50 L535.60 128.40 L532.60 129.20Z" fill="#1a1a1a" stroke="#1a1a1a" stroke-width="0.8" stroke-linejoin="round"/><path d="M531.6 128 C536.6 124 544.6 124 549.6 128" fill="none" stroke="#1a1a1a" stroke-width="0.4"/><circle cx="540.6" cy="121.69" r="1.0" fill="#1a1a1a"/><circle cx="540.6" cy="119.36" r="1.0" fill="#1a1a1a"/><circle cx="540.6" cy="117.03" r="1.0" fill="#1a1a1a"/><circle cx="540.6" cy="114.70" r="1.0" fill="#1a1a1a"/><circle cx="540.6" cy="112.37" r="1.0" fill="#1a1a1a"/><circle cx="540.6" cy="110.04" r="1.0" fill="#1a1a1a"/><circle cx="540.6" cy="107.71" r="1.0" fill="#1a1a1a"/><circle cx="540.6" cy="105.38" r="1.0" fill="#1a1a1a"/><circle cx="540.6" cy="103.05" r="1.0" fill="#1a1a1a"/><circle cx="540.6" cy="100.72" r="1.0" fill="#1a1a1a"/><circle cx="540.6" cy="98.39" r="1.0" fill="#1a1a1a"/><circle cx="540.6" cy="96.06" r="1.0" fill="#1a1a1a"/><circle cx="540.6" cy="93.73" r="1.0" fill="#1a1a1a"/><circle cx="540.6" cy="91.40" r="1.0" fill="#1a1a1a"/><circle cx="540.6" cy="72.76" r="1.0" fill="#1a1a1a"/><circle cx="540.6" cy="70.43" r="1.0" fill="#1a1a1a"/><circle cx="540.6" cy="66.94" r="1.0" fill="#1a1a1a"/><circle cx="540.6" cy="51.79" r="1.0" fill="#1a1a1a"/><circle cx="540.6" cy="47.13" r="1.0" fill="#1a1a1a"/><circle cx="540.6" cy="40.14" r="1.0" fill="#1a1a1a"/><circle cx="540.6" cy="29.66" r="1.0" fill="#1a1a1a"/><line x1="540.60" y1="124.02" x2="540.60" y2="96.06" stroke="#1a1a1a" stroke-width="1.6"/><line x1="540.60" y1="96.06" x2="540.60" y2="44.80" stroke="#1a1a1a" stroke-width="0.7"/><path d="M540.00 72.76 L539.20 76.25 L537.80 78.59 L536.90 80.91 L537.00 83.25 L538.00 85.57 L539.00 87.91 L539.60 91.40 L539.90 94.89 L541.30 94.89 L541.60 91.40 L542.20 87.91 L543.20 85.57 L544.20 83.25 L544.30 80.91 L543.40 78.59 L542.00 76.25 L541.20 72.76Z" fill="#1a1a1a" stroke="#1a1a1a" stroke-width="0.6" stroke-linejoin="round"/><path d="M540.30 26.16 L539.60 29.66 L539.00 33.15 L538.70 35.48 L539.10 37.81 L539.80 41.30 L540.20 44.80 L541.00 44.80 L541.40 41.30 L542.10 37.81 L542.50 35.48 L542.20 33.15 L541.60 29.66 L540.90 26.16Z" fill="#1a1a1a" stroke="#1a1a1a" stroke-width="0.6" stroke-linejoin="round"/></g>
<g id="pd"><text x="262.50" y="177.80" font-size="15.5" fill="#000" font-weight="bold">d</text><text x="321.50" y="176.50" font-size="8.5" fill="#333" transform="rotate(-90 321.50 176.50)" textLength="31.00" lengthAdjust="spacingAndGlyphs">Cluster</text><path d="M306.6 193.0L308.8 193.0M306.6 197.2L308.8 197.2M306.6 193.0L306.6 197.2M305.7 188.7L308.8 188.7M305.7 195.1L306.6 195.1M305.7 188.7L305.7 195.1M304.8 184.4L308.8 184.4M304.8 191.9L305.7 191.9M304.8 184.4L304.8 191.9M305.8 201.5L308.8 201.5M305.8 205.8L308.8 205.8M305.8 201.5L305.8 205.8M302.3 188.2L304.8 188.2M302.3 203.6L305.8 203.6M302.3 188.2L302.3 203.6M306.6 214.3L308.8 214.3M306.6 218.6L308.8 218.6M306.6 214.3L306.6 218.6M305.6 210.0L308.8 210.0M305.6 216.4L306.6 216.4M305.6 210.0L305.6 216.4M305.2 222.9L308.8 222.9M305.2 227.1L308.8 227.1M305.2 222.9L305.2 227.1M303.8 213.2L305.6 213.2M303.8 225.0L305.2 225.0M303.8 213.2L303.8 225.0M301.6 195.9L302.3 195.9M301.6 219.1L303.8 219.1M301.6 195.9L301.6 219.1M303.3 231.4L308.8 231.4M303.3 235.7L308.8 235.7M303.3 231.4L303.3 235.7M299.3 207.5L301.6 207.5M299.3 233.5L303.3 233.5M299.3 207.5L299.3 233.5M304.2 239.9L308.8 239.9M304.2 244.2L308.8 244.2M304.2 239.9L304.2 244.2M305.0 248.5L308.8 248.5M305.0 252.7L308.8 252.7M305.0 248.5L305.0 252.7M300.3 242.1L304.2 242.1M300.3 250.6L305.0 250.6M300.3 242.1L300.3 250.6M296.3 220.5L299.3 220.5M296.3 246.3L300.3 246.3M296.3 220.5L296.3 246.3M304.8 261.3L308.8 261.3M304.8 265.5L308.8 265.5M304.8 261.3L304.8 265.5M302.5 257.0L308.8 257.0M302.5 263.4L304.8 263.4M302.5 257.0L302.5 263.4M301.0 269.8L308.8 269.8M301.0 274.1L308.8 274.1M301.0 269.8L301.0 274.1M298.3 260.2L302.5 260.2M298.3 271.9L301.0 271.9M298.3 260.2L298.3 271.9M294.3 233.4L296.3 233.4M294.3 266.1L298.3 266.1M294.3 233.4L294.3 266.1M306.6 291.2L308.8 291.2M306.6 295.4L308.8 295.4M306.6 291.2L306.6 295.4M306.4 286.9L308.8 286.9M306.4 293.3L306.6 293.3M306.4 286.9L306.4 293.3M305.8 282.6L308.8 282.6M305.8 290.1L306.4 290.1M305.8 282.6L305.8 290.1M305.2 278.3L308.8 278.3M305.2 286.4L305.8 286.4M305.2 278.3L305.2 286.4M306.4 299.7L308.8 299.7M306.4 304.0L308.8 304.0M306.4 299.7L306.4 304.0M306.0 308.2L308.8 308.2M306.0 312.5L308.8 312.5M306.0 308.2L306.0 312.5M305.0 301.8L306.4 301.8M305.0 310.4L306.0 310.4M305.0 301.8L305.0 310.4M304.1 282.3L305.2 282.3M304.1 306.1L305.0 306.1M304.1 282.3L304.1 306.1M305.6 316.8L308.8 316.8M305.6 321.0L308.8 321.0M305.6 316.8L305.6 321.0M304.8 325.3L308.8 325.3M304.8 329.6L308.8 329.6M304.8 325.3L304.8 329.6M303.6 318.9L305.6 318.9M303.6 327.4L304.8 327.4M303.6 318.9L303.6 327.4M301.2 323.2L303.6 323.2M301.2 333.8L308.8 333.8M301.2 323.2L301.2 333.8M298.1 294.2L304.1 294.2M298.1 328.5L301.2 328.5M298.1 294.2L298.1 328.5M303.3 338.1L308.8 338.1M303.3 342.4L308.8 342.4M303.3 338.1L303.3 342.4M295.4 311.4L298.1 311.4M295.4 340.2L303.3 340.2M295.4 311.4L295.4 340.2M288.4 249.7L294.3 249.7M288.4 325.8L295.4 325.8M288.4 249.7L288.4 325.8M305.6 346.6L308.8 346.6M305.6 350.9L308.8 350.9M305.6 346.6L305.6 350.9M301.6 348.8L305.6 348.8M301.6 355.2L308.8 355.2M301.6 348.8L301.6 355.2M305.6 363.7L308.8 363.7M305.6 368.0L308.8 368.0M305.6 363.7L305.6 368.0M301.8 359.5L308.8 359.5M301.8 365.9L305.6 365.9M301.8 359.5L301.8 365.9M294.4 352.0L301.6 352.0M294.4 362.7L301.8 362.7M294.4 352.0L294.4 362.7M305.6 376.5L308.8 376.5M305.6 380.8L308.8 380.8M305.6 376.5L305.6 380.8M302.9 372.3L308.8 372.3M302.9 378.7L305.6 378.7M302.9 372.3L302.9 378.7M290.2 357.3L294.4 357.3M290.2 375.5L302.9 375.5M290.2 357.3L290.2 375.5M305.4 385.1L308.8 385.1M305.4 389.3L308.8 389.3M305.4 385.1L305.4 389.3M301.2 387.2L305.4 387.2M301.2 393.6L308.8 393.6M301.2 387.2L301.2 393.6M305.0 397.9L308.8 397.9M305.0 402.1L308.8 402.1M305.0 397.9L305.0 402.1M295.3 390.4L301.2 390.4M295.3 400.0L305.0 400.0M295.3 390.4L295.3 400.0M283.4 366.4L290.2 366.4M283.4 395.2L295.3 395.2M283.4 366.4L283.4 395.2M281.4 287.8L288.4 287.8M281.4 380.8L283.4 380.8M281.4 287.8L281.4 380.8M304.0 406.4L308.8 406.4M304.0 410.7L308.8 410.7M304.0 406.4L304.0 410.7M305.5 419.2L308.8 419.2M305.5 423.5L308.8 423.5M305.5 419.2L305.5 423.5M301.6 414.9L308.8 414.9M301.6 421.3L305.5 421.3M301.6 414.9L301.6 421.3M303.1 427.8L308.8 427.8M303.1 432.0L308.8 432.0M303.1 427.8L303.1 432.0M293.3 418.1L301.6 418.1M293.3 429.9L303.1 429.9M293.3 418.1L293.3 429.9M289.3 408.5L304.0 408.5M289.3 424.0L293.3 424.0M289.3 408.5L289.3 424.0M300.8 436.3L308.8 436.3M300.8 440.6L308.8 440.6M300.8 436.3L300.8 440.6M303.8 444.8L308.8 444.8M303.8 449.1L308.8 449.1M303.8 444.8L303.8 449.1M304.7 453.4L308.8 453.4M304.7 457.6L308.8 457.6M304.7 453.4L304.7 457.6M305.0 474.7L308.8 474.7M305.0 479.0L308.8 479.0M305.0 474.7L305.0 479.0M303.4 470.4L308.8 470.4M303.4 476.8L305.0 476.8M303.4 470.4L303.4 476.8M301.8 466.2L308.8 466.2M301.8 473.6L303.4 473.6M301.8 466.2L301.8 473.6M300.2 461.9L308.8 461.9M300.2 469.9L301.8 469.9M300.2 461.9L300.2 469.9M298.5 455.5L304.7 455.5M298.5 465.9L300.2 465.9M298.5 455.5L298.5 465.9M297.0 447.0L303.8 447.0M297.0 460.7L298.5 460.7M297.0 447.0L297.0 460.7M287.6 438.4L300.8 438.4M287.6 453.8L297.0 453.8M287.6 438.4L287.6 453.8M284.4 416.3L289.3 416.3M284.4 446.1L287.6 446.1M284.4 416.3L284.4 446.1M302.1 483.2L308.8 483.2M302.1 487.5L308.8 487.5M302.1 483.2L302.1 487.5M306.1 517.4L308.8 517.4M306.1 521.7L308.8 521.7M306.1 517.4L306.1 521.7M305.2 513.1L308.8 513.1M305.2 519.5L306.1 519.5M305.2 513.1L305.2 519.5M304.3 508.9L308.8 508.9M304.3 516.3L305.2 516.3M304.3 508.9L304.3 516.3M303.4 504.6L308.8 504.6M303.4 512.6L304.3 512.6M303.4 504.6L303.4 512.6M302.5 500.3L308.8 500.3M302.5 508.6L303.4 508.6M302.5 500.3L302.5 508.6M301.6 496.1L308.8 496.1M301.6 504.5L302.5 504.5M301.6 496.1L301.6 504.5M300.0 491.8L308.8 491.8M300.0 500.3L301.6 500.3M300.0 491.8L300.0 500.3M292.6 485.4L302.1 485.4M292.6 496.0L300.0 496.0M292.6 485.4L292.6 496.0M278.4 431.2L284.4 431.2M278.4 490.7L292.6 490.7M278.4 431.2L278.4 490.7M263.4 334.3L281.4 334.3M263.4 461.0L278.4 461.0M263.4 334.3L263.4 461.0" fill="none" stroke="#3a3a3a" stroke-width="0.6"/><rect x="312.10" y="182.30" width="11.80" height="162.21" fill="#00a550"/><text x="318.00" y="266.41" font-size="8.8" text-anchor="middle" fill="#231f20">1</text><rect x="312.10" y="344.51" width="11.80" height="38.42" fill="#e61e8c"/><text x="318.00" y="366.72" font-size="8.8" text-anchor="middle" fill="#231f20">2</text><rect x="312.10" y="382.93" width="11.80" height="55.49" fill="#dc2163"/><text x="318.00" y="413.68" font-size="8.8" text-anchor="middle" fill="#231f20">3</text><rect x="312.10" y="438.42" width="11.80" height="46.96" fill="#96165c"/><text x="318.00" y="464.90" font-size="8.8" text-anchor="middle" fill="#231f20">4</text><rect x="312.10" y="485.38" width="11.80" height="38.42" fill="#7d2a82"/><text x="318.00" y="507.59" font-size="8.8" text-anchor="middle" fill="#231f20">5</text><defs><clipPath id="hmclip"><rect x="326.8" y="182.3" width="293.90" height="341.50"/></clipPath><filter id="hmblur" x="-5%" y="-5%" width="110%" height="110%"><feGaussianBlur stdDeviation="0.6"/></filter></defs><g clip-path="url(#hmclip)"><g filter="url(#hmblur)"><g transform="translate(326.8 182.3) scale(3.6738 4.2687)" shape-rendering="crispEdges"><rect x="-1" y="-1" width="82" height="82" fill="#f0ec8c"/><path fill="#2b3a8f" stroke="#2b3a8f" stroke-width="0.04" d="M-1 -1h7v1h-7zM7 -1h1v1h-1zM-1 0h7v1h-7zM7 0h1v1h-1zM-1 1h7v1h-7zM7 1h1v1h-1zM-1 2h7v1h-7zM7 2h1v1h-1zM-1 3h2v1h-2zM2 3h1v1h-1zM5 3h1v1h-1zM7 3h1v1h-1zM-1 4h7v1h-7zM7 4h1v1h-1zM-1 5h6v1h-6zM7 5h1v1h-1zM-1 6h6v1h-6zM7 6h1v1h-1zM-1 7h5v1h-5zM7 7h1v1h-1zM-1 8h7v1h-7zM7 8h1v1h-1zM-1 9h7v1h-7zM-1 10h6v1h-6zM7 10h2v1h-2zM-1 16h8v1h-8zM-1 17h8v1h-8zM-1 18h7v1h-7zM-1 19h7v1h-7zM8 20h1v1h-1zM-1 22h7v1h-7zM7 22h1v1h-1zM-1 23h7v1h-7zM7 23h1v1h-1zM-1 24h7v1h-7zM7 24h1v1h-1zM-1 25h3v1h-3zM5 25h1v1h-1zM7 25h1v1h-1zM-1 26h3v1h-3zM7 26h1v1h-1zM-1 27h3v1h-3zM7 27h1v1h-1zM7 28h1v1h-1zM7 29h1v1h-1zM7 30h1v1h-1zM7 31h1v1h-1zM7 32h1v1h-1zM20 34h1v1h-1zM7 36h1v1h-1zM10 37h2v1h-2zM22 39h1v1h-1zM22 41h1v1h-1zM14 42h2v1h-2zM15 43h1v1h-1zM10 44h3v1h-3zM17 44h1v1h-1zM26 46h1v1h-1zM33 53h1v1h-1zM18 56h1v1h-1zM38 57h1v1h-1zM40 57h1v1h-1zM45 59h1v1h-1zM23 61h1v1h-1zM35 62h1v1h-1zM36 64h2v1h-2zM37 65h1v1h-1zM35 67h1v1h-1zM35 68h1v1h-1zM42 68h1v1h-1zM35 69h1v1h-1zM42 69h1v1h-1zM59 71h1v1h-1zM69 71h1v1h-1zM43 72h1v1h-1zM47 72h11v1h-11zM69 72h1v1h-1zM71 72h10v1h-10zM62 73h2v1h-2zM54 74h4v1h-4zM60 74h4v1h-4zM70 74h2v1h-2zM75 74h6v1h-6zM55 75h3v1h-3zM60 75h4v1h-4zM69 75h3v1h-3zM73 75h3v1h-3zM77 75h4v1h-4zM55 76h3v1h-3zM60 76h4v1h-4zM69 76h7v1h-7zM77 76h4v1h-4zM55 77h3v1h-3zM60 77h4v1h-4zM69 77h12v1h-12zM52 78h6v1h-6zM60 78h4v1h-4zM69 78h7v1h-7zM77 78h4v1h-4zM52 79h6v1h-6zM60 79h4v1h-4zM69 79h12v1h-12zM52 80h6v1h-6zM60 80h4v1h-4zM69 80h12v1h-12z"/><path fill="#1f5cb0" stroke="#1f5cb0" stroke-width="0.04" d="M6 -1h1v1h-1zM6 0h1v1h-1zM6 1h1v1h-1zM6 2h1v1h-1zM8 2h1v1h-1zM1 3h1v1h-1zM3 3h2v1h-2zM6 3h1v1h-1zM8 3h1v1h-1zM6 4h1v1h-1zM5 5h2v1h-2zM8 5h1v1h-1zM5 6h2v1h-2zM8 6h1v1h-1zM4 7h3v1h-3zM8 7h1v1h-1zM6 8h1v1h-1zM8 8h1v1h-1zM6 9h3v1h-3zM5 10h2v1h-2zM-1 11h7v1h-7zM7 11h1v1h-1zM9 11h1v1h-1zM-1 14h2v1h-2zM8 14h1v1h-1zM-1 15h6v1h-6zM8 15h1v1h-1zM7 16h2v1h-2zM7 17h2v1h-2zM6 18h3v1h-3zM6 19h3v1h-3zM-1 20h6v1h-6zM6 20h1v1h-1zM-1 21h3v1h-3zM4 21h1v1h-1zM6 22h1v1h-1zM6 23h1v1h-1zM6 24h1v1h-1zM2 25h3v1h-3zM6 25h1v1h-1zM2 26h4v1h-4zM20 26h1v1h-1zM2 27h4v1h-4zM-1 28h7v1h-7zM-1 29h8v1h-8zM-1 30h7v1h-7zM10 30h2v1h-2zM20 30h1v1h-1zM-1 31h6v1h-6zM6 31h1v1h-1zM-1 32h6v1h-6zM6 32h1v1h-1zM20 32h1v1h-1zM-1 33h3v1h-3zM5 33h1v1h-1zM7 33h1v1h-1zM7 34h1v1h-1zM-1 35h4v1h-4zM4 35h3v1h-3zM-1 36h2v1h-2zM10 36h2v1h-2zM14 36h2v1h-2zM12 37h4v1h-4zM20 38h1v1h-1zM22 38h1v1h-1zM20 40h1v1h-1zM14 43h1v1h-1zM16 43h1v1h-1zM13 44h4v1h-4zM20 45h1v1h-1zM26 45h1v1h-1zM30 45h1v1h-1zM18 47h1v1h-1zM18 48h1v1h-1zM34 49h1v1h-1zM13 50h1v1h-1zM16 50h3v1h-3zM8 53h1v1h-1zM34 53h1v1h-1zM16 55h1v1h-1zM18 57h1v1h-1zM41 57h1v1h-1zM34 59h1v1h-1zM39 59h1v1h-1zM41 59h1v1h-1zM47 59h1v1h-1zM49 59h1v1h-1zM53 59h1v1h-1zM9 60h1v1h-1zM22 61h1v1h-1zM29 61h1v1h-1zM31 61h2v1h-2zM29 62h1v1h-1zM24 63h1v1h-1zM29 63h1v1h-1zM35 63h2v1h-2zM35 64h1v1h-1zM42 64h2v1h-2zM35 65h2v1h-2zM42 65h2v1h-2zM29 66h1v1h-1zM35 66h1v1h-1zM42 66h1v1h-1zM42 67h1v1h-1zM43 68h1v1h-1zM49 68h1v1h-1zM43 69h1v1h-1zM49 69h1v1h-1zM19 70h1v1h-1zM68 70h1v1h-1zM26 71h1v1h-1zM60 71h6v1h-6zM70 71h5v1h-5zM76 71h2v1h-2zM45 72h2v1h-2zM60 72h4v1h-4zM68 72h1v1h-1zM70 72h1v1h-1zM44 73h1v1h-1zM47 73h2v1h-2zM50 73h1v1h-1zM54 73h4v1h-4zM59 73h3v1h-3zM69 73h12v1h-12zM44 74h1v1h-1zM46 74h1v1h-1zM49 74h5v1h-5zM68 74h2v1h-2zM72 74h3v1h-3zM44 75h1v1h-1zM47 75h8v1h-8zM58 75h2v1h-2zM64 75h1v1h-1zM68 75h1v1h-1zM72 75h1v1h-1zM76 75h1v1h-1zM47 76h8v1h-8zM59 76h1v1h-1zM64 76h1v1h-1zM68 76h1v1h-1zM76 76h1v1h-1zM44 77h1v1h-1zM47 77h8v1h-8zM59 77h1v1h-1zM64 77h1v1h-1zM68 77h1v1h-1zM44 78h1v1h-1zM46 78h6v1h-6zM58 78h2v1h-2zM64 78h1v1h-1zM68 78h1v1h-1zM76 78h1v1h-1zM43 79h2v1h-2zM46 79h6v1h-6zM58 79h2v1h-2zM64 79h2v1h-2zM68 79h1v1h-1zM43 80h2v1h-2zM46 80h6v1h-6zM58 80h2v1h-2zM64 80h2v1h-2zM68 80h1v1h-1z"/><path fill="#1485cf" stroke="#1485cf" stroke-width="0.04" d="M8 -1h1v1h-1zM8 0h1v1h-1zM8 1h1v1h-1zM8 4h1v1h-1zM20 4h1v1h-1zM8 11h1v1h-1zM-1 12h2v1h-2zM2 12h2v1h-2zM5 12h1v1h-1zM7 12h1v1h-1zM16 12h1v1h-1zM2 13h1v1h-1zM8 13h1v1h-1zM1 14h4v1h-4zM6 15h1v1h-1zM9 18h1v1h-1zM5 20h1v1h-1zM33 20h1v1h-1zM2 21h2v1h-2zM5 21h2v1h-2zM8 21h1v1h-1zM8 22h1v1h-1zM10 22h2v1h-2zM8 23h1v1h-1zM20 25h1v1h-1zM6 26h1v1h-1zM6 27h1v1h-1zM10 28h1v1h-1zM14 28h2v1h-2zM10 29h1v1h-1zM20 29h1v1h-1zM6 30h1v1h-1zM12 30h1v1h-1zM5 31h1v1h-1zM20 31h1v1h-1zM5 32h1v1h-1zM2 33h3v1h-3zM6 33h1v1h-1zM22 33h1v1h-1zM-1 34h2v1h-2zM5 34h1v1h-1zM3 35h1v1h-1zM7 35h1v1h-1zM20 35h1v1h-1zM1 36h2v1h-2zM5 36h1v1h-1zM12 36h2v1h-2zM7 37h1v1h-1zM16 37h2v1h-2zM25 38h1v1h-1zM15 39h1v1h-1zM20 39h1v1h-1zM23 39h1v1h-1zM25 39h1v1h-1zM31 39h1v1h-1zM26 40h1v1h-1zM11 41h2v1h-2zM25 41h1v1h-1zM16 42h1v1h-1zM13 43h1v1h-1zM17 43h1v1h-1zM25 44h1v1h-1zM20 46h1v1h-1zM59 46h1v1h-1zM40 48h1v1h-1zM19 50h1v1h-1zM19 52h1v1h-1zM39 53h1v1h-1zM35 54h1v1h-1zM38 54h1v1h-1zM40 54h2v1h-2zM40 56h1v1h-1zM46 57h1v1h-1zM33 59h1v1h-1zM40 59h1v1h-1zM44 59h1v1h-1zM48 59h1v1h-1zM50 59h1v1h-1zM54 59h1v1h-1zM75 59h1v1h-1zM27 60h1v1h-1zM29 60h1v1h-1zM36 62h1v1h-1zM42 62h1v1h-1zM37 63h1v1h-1zM42 63h1v1h-1zM67 63h1v1h-1zM40 64h1v1h-1zM51 64h1v1h-1zM51 65h1v1h-1zM36 66h1v1h-1zM43 66h1v1h-1zM38 67h1v1h-1zM43 67h1v1h-1zM49 67h1v1h-1zM38 68h1v1h-1zM57 68h1v1h-1zM50 69h2v1h-2zM57 69h1v1h-1zM61 70h1v1h-1zM56 71h3v1h-3zM66 71h1v1h-1zM68 71h1v1h-1zM75 71h1v1h-1zM78 71h3v1h-3zM42 72h1v1h-1zM44 72h1v1h-1zM67 72h1v1h-1zM46 73h1v1h-1zM49 73h1v1h-1zM52 73h2v1h-2zM58 73h1v1h-1zM64 73h1v1h-1zM43 74h1v1h-1zM45 74h1v1h-1zM47 74h2v1h-2zM58 74h2v1h-2zM67 74h1v1h-1zM46 75h1v1h-1zM65 75h1v1h-1zM44 76h1v1h-1zM46 76h1v1h-1zM58 76h1v1h-1zM65 76h1v1h-1zM67 76h1v1h-1zM43 77h1v1h-1zM46 77h1v1h-1zM58 77h1v1h-1zM65 77h3v1h-3zM43 78h1v1h-1zM65 78h1v1h-1zM45 79h1v1h-1zM67 79h1v1h-1zM45 80h1v1h-1zM67 80h1v1h-1z"/><path fill="#2aace0" stroke="#2aace0" stroke-width="0.04" d="M10 -1h2v1h-2zM20 -1h1v1h-1zM10 0h2v1h-2zM20 0h1v1h-1zM10 1h2v1h-2zM20 1h1v1h-1zM22 1h1v1h-1zM10 2h2v1h-2zM20 2h1v1h-1zM9 3h3v1h-3zM14 3h2v1h-2zM10 5h1v1h-1zM20 5h1v1h-1zM10 6h2v1h-2zM10 7h2v1h-2zM9 8h1v1h-1zM9 10h1v1h-1zM33 10h1v1h-1zM6 11h1v1h-1zM1 12h1v1h-1zM4 12h1v1h-1zM8 12h2v1h-2zM14 12h2v1h-2zM-1 13h3v1h-3zM3 13h2v1h-2zM7 13h1v1h-1zM16 13h1v1h-1zM18 13h1v1h-1zM33 13h2v1h-2zM40 13h1v1h-1zM5 14h1v1h-1zM7 14h1v1h-1zM18 14h1v1h-1zM33 14h1v1h-1zM40 14h2v1h-2zM5 15h1v1h-1zM7 15h1v1h-1zM18 15h1v1h-1zM20 16h1v1h-1zM9 17h1v1h-1zM9 19h1v1h-1zM7 20h1v1h-1zM24 20h1v1h-1zM40 20h2v1h-2zM7 21h1v1h-1zM9 21h1v1h-1zM29 21h1v1h-1zM12 22h4v1h-4zM20 22h1v1h-1zM10 23h2v1h-2zM14 23h1v1h-1zM20 23h1v1h-1zM8 24h1v1h-1zM10 24h2v1h-2zM14 24h1v1h-1zM20 24h1v1h-1zM8 25h1v1h-1zM10 25h2v1h-2zM8 26h1v1h-1zM8 27h1v1h-1zM10 27h2v1h-2zM14 27h2v1h-2zM20 27h1v1h-1zM6 28h1v1h-1zM11 28h1v1h-1zM20 28h1v1h-1zM11 29h1v1h-1zM13 30h3v1h-3zM10 31h2v1h-2zM14 31h2v1h-2zM22 31h1v1h-1zM10 32h2v1h-2zM10 33h2v1h-2zM14 33h2v1h-2zM20 33h1v1h-1zM1 34h4v1h-4zM6 34h1v1h-1zM15 34h1v1h-1zM3 36h2v1h-2zM6 36h1v1h-1zM16 36h2v1h-2zM20 36h1v1h-1zM20 37h1v1h-1zM7 38h1v1h-1zM10 38h3v1h-3zM14 38h2v1h-2zM23 38h1v1h-1zM26 38h1v1h-1zM31 38h1v1h-1zM59 38h1v1h-1zM65 38h1v1h-1zM7 39h1v1h-1zM10 39h3v1h-3zM14 39h1v1h-1zM26 39h1v1h-1zM59 39h1v1h-1zM65 39h2v1h-2zM21 40h2v1h-2zM30 40h1v1h-1zM1 41h1v1h-1zM6 41h2v1h-2zM10 41h1v1h-1zM20 41h1v1h-1zM23 41h2v1h-2zM31 41h1v1h-1zM17 42h1v1h-1zM26 43h1v1h-1zM19 44h1v1h-1zM21 45h1v1h-1zM23 45h1v1h-1zM31 45h2v1h-2zM66 45h1v1h-1zM13 46h1v1h-1zM15 46h1v1h-1zM25 46h1v1h-1zM65 46h2v1h-2zM69 46h1v1h-1zM8 47h1v1h-1zM16 47h1v1h-1zM34 47h1v1h-1zM16 48h1v1h-1zM34 48h1v1h-1zM38 48h1v1h-1zM41 48h1v1h-1zM16 49h1v1h-1zM39 49h1v1h-1zM10 50h1v1h-1zM58 50h1v1h-1zM18 51h2v1h-2zM18 52h1v1h-1zM18 53h1v1h-1zM36 53h1v1h-1zM40 53h2v1h-2zM8 54h1v1h-1zM33 54h1v1h-1zM18 55h1v1h-1zM38 55h1v1h-1zM59 55h1v1h-1zM16 56h1v1h-1zM34 56h1v1h-1zM38 56h1v1h-1zM41 56h1v1h-1zM39 57h1v1h-1zM48 57h1v1h-1zM78 57h1v1h-1zM34 58h1v1h-1zM39 58h1v1h-1zM38 59h1v1h-1zM42 59h2v1h-2zM46 59h1v1h-1zM51 59h2v1h-2zM55 59h3v1h-3zM63 59h1v1h-1zM74 59h1v1h-1zM77 59h4v1h-4zM2 60h1v1h-1zM5 60h1v1h-1zM28 60h1v1h-1zM35 60h1v1h-1zM24 61h1v1h-1zM26 61h3v1h-3zM64 61h3v1h-3zM37 62h1v1h-1zM43 62h1v1h-1zM23 63h1v1h-1zM30 63h3v1h-3zM43 63h1v1h-1zM66 63h1v1h-1zM33 64h1v1h-1zM41 64h1v1h-1zM45 64h2v1h-2zM48 64h2v1h-2zM52 64h1v1h-1zM57 64h1v1h-1zM67 64h1v1h-1zM76 64h1v1h-1zM40 65h2v1h-2zM46 65h1v1h-1zM48 65h2v1h-2zM52 65h1v1h-1zM55 65h3v1h-3zM67 65h1v1h-1zM76 65h1v1h-1zM33 66h1v1h-1zM49 66h1v1h-1zM57 66h1v1h-1zM40 67h2v1h-2zM57 67h1v1h-1zM40 68h2v1h-2zM46 68h3v1h-3zM50 68h3v1h-3zM54 68h3v1h-3zM72 68h2v1h-2zM76 68h5v1h-5zM29 69h1v1h-1zM38 69h1v1h-1zM40 69h2v1h-2zM46 69h3v1h-3zM52 69h1v1h-1zM54 69h3v1h-3zM72 69h3v1h-3zM76 69h5v1h-5zM58 70h1v1h-1zM60 70h1v1h-1zM62 70h1v1h-1zM67 70h1v1h-1zM69 70h1v1h-1zM71 70h1v1h-1zM76 70h1v1h-1zM25 71h1v1h-1zM32 71h1v1h-1zM52 71h4v1h-4zM67 71h1v1h-1zM38 72h1v1h-1zM40 72h2v1h-2zM58 72h2v1h-2zM64 72h3v1h-3zM38 73h1v1h-1zM43 73h1v1h-1zM45 73h1v1h-1zM51 73h1v1h-1zM68 73h1v1h-1zM19 74h1v1h-1zM64 74h2v1h-2zM43 75h1v1h-1zM45 75h1v1h-1zM66 75h2v1h-2zM43 76h1v1h-1zM45 76h1v1h-1zM66 76h1v1h-1zM19 77h1v1h-1zM45 77h1v1h-1zM38 78h1v1h-1zM45 78h1v1h-1zM66 78h2v1h-2zM66 79h1v1h-1zM66 80h1v1h-1z"/><path fill="#6ac3dd" stroke="#6ac3dd" stroke-width="0.04" d="M9 -1h1v1h-1zM12 -1h5v1h-5zM18 -1h1v1h-1zM22 -1h1v1h-1zM9 0h1v1h-1zM12 0h5v1h-5zM18 0h1v1h-1zM22 0h1v1h-1zM9 1h1v1h-1zM12 1h5v1h-5zM18 1h1v1h-1zM9 2h1v1h-1zM12 2h5v1h-5zM18 2h1v1h-1zM22 2h1v1h-1zM33 2h1v1h-1zM12 3h2v1h-2zM16 3h2v1h-2zM20 3h1v1h-1zM22 3h1v1h-1zM9 4h5v1h-5zM16 4h1v1h-1zM18 4h1v1h-1zM21 4h2v1h-2zM24 4h1v1h-1zM11 5h3v1h-3zM16 5h1v1h-1zM18 5h1v1h-1zM21 5h1v1h-1zM24 5h1v1h-1zM9 6h1v1h-1zM12 6h5v1h-5zM18 6h1v1h-1zM20 6h1v1h-1zM33 6h1v1h-1zM9 7h1v1h-1zM12 7h5v1h-5zM18 7h1v1h-1zM20 7h1v1h-1zM33 7h2v1h-2zM10 8h7v1h-7zM20 8h1v1h-1zM33 8h1v1h-1zM9 9h3v1h-3zM18 9h1v1h-1zM20 9h2v1h-2zM33 9h1v1h-1zM10 10h3v1h-3zM14 10h3v1h-3zM18 10h1v1h-1zM34 10h1v1h-1zM10 11h2v1h-2zM13 11h4v1h-4zM18 11h1v1h-1zM33 11h1v1h-1zM6 12h1v1h-1zM10 12h4v1h-4zM17 12h2v1h-2zM20 12h1v1h-1zM5 13h2v1h-2zM9 13h3v1h-3zM13 13h3v1h-3zM38 13h2v1h-2zM41 13h1v1h-1zM6 14h1v1h-1zM9 14h1v1h-1zM16 14h1v1h-1zM21 14h1v1h-1zM34 14h1v1h-1zM38 14h2v1h-2zM10 15h4v1h-4zM19 15h3v1h-3zM24 15h1v1h-1zM33 15h4v1h-4zM40 15h1v1h-1zM9 16h3v1h-3zM21 16h4v1h-4zM29 16h1v1h-1zM10 17h2v1h-2zM20 17h1v1h-1zM22 17h3v1h-3zM29 17h1v1h-1zM20 18h1v1h-1zM22 18h3v1h-3zM29 18h1v1h-1zM20 19h1v1h-1zM23 19h2v1h-2zM29 19h1v1h-1zM9 20h1v1h-1zM18 20h1v1h-1zM34 20h4v1h-4zM39 20h1v1h-1zM20 21h2v1h-2zM23 21h2v1h-2zM30 21h1v1h-1zM33 21h1v1h-1zM35 21h2v1h-2zM9 22h1v1h-1zM16 22h2v1h-2zM22 22h1v1h-1zM9 23h1v1h-1zM12 23h2v1h-2zM15 23h3v1h-3zM22 23h2v1h-2zM9 24h1v1h-1zM12 24h2v1h-2zM15 24h2v1h-2zM22 24h2v1h-2zM9 25h1v1h-1zM12 25h4v1h-4zM21 25h4v1h-4zM9 26h9v1h-9zM21 26h4v1h-4zM9 27h1v1h-1zM12 27h2v1h-2zM16 27h2v1h-2zM22 27h1v1h-1zM8 28h2v1h-2zM12 28h2v1h-2zM16 28h2v1h-2zM22 28h1v1h-1zM8 29h1v1h-1zM12 29h6v1h-6zM21 29h4v1h-4zM8 30h1v1h-1zM16 30h2v1h-2zM21 30h2v1h-2zM8 31h2v1h-2zM12 31h2v1h-2zM16 31h2v1h-2zM21 31h1v1h-1zM23 31h3v1h-3zM8 32h1v1h-1zM12 32h6v1h-6zM21 32h5v1h-5zM8 33h2v1h-2zM12 33h2v1h-2zM16 33h2v1h-2zM23 33h3v1h-3zM29 33h1v1h-1zM31 33h1v1h-1zM10 34h5v1h-5zM16 34h2v1h-2zM21 34h5v1h-5zM30 34h2v1h-2zM8 35h2v1h-2zM14 35h2v1h-2zM21 35h4v1h-4zM26 35h1v1h-1zM29 35h4v1h-4zM8 36h2v1h-2zM22 36h1v1h-1zM25 36h1v1h-1zM-1 37h8v1h-8zM19 37h1v1h-1zM22 37h1v1h-1zM25 37h1v1h-1zM-1 38h8v1h-8zM13 38h1v1h-1zM16 38h2v1h-2zM21 38h1v1h-1zM24 38h1v1h-1zM30 38h1v1h-1zM32 38h1v1h-1zM66 38h1v1h-1zM-1 39h8v1h-8zM13 39h1v1h-1zM17 39h1v1h-1zM24 39h1v1h-1zM27 39h3v1h-3zM32 39h1v1h-1zM64 39h1v1h-1zM-1 40h9v1h-9zM10 40h6v1h-6zM17 40h1v1h-1zM23 40h3v1h-3zM29 40h1v1h-1zM31 40h2v1h-2zM59 40h1v1h-1zM65 40h2v1h-2zM-1 41h2v1h-2zM2 41h4v1h-4zM13 41h3v1h-3zM17 41h1v1h-1zM32 41h1v1h-1zM65 41h2v1h-2zM5 42h1v1h-1zM7 42h1v1h-1zM9 42h5v1h-5zM25 42h4v1h-4zM59 42h1v1h-1zM7 43h1v1h-1zM10 43h3v1h-3zM20 43h1v1h-1zM25 43h1v1h-1zM27 43h2v1h-2zM58 43h2v1h-2zM64 43h1v1h-1zM7 44h1v1h-1zM18 44h1v1h-1zM20 44h1v1h-1zM58 44h2v1h-2zM64 44h1v1h-1zM5 45h3v1h-3zM22 45h1v1h-1zM24 45h2v1h-2zM27 45h3v1h-3zM59 45h1v1h-1zM64 45h2v1h-2zM69 45h1v1h-1zM72 45h1v1h-1zM10 46h3v1h-3zM14 46h1v1h-1zM17 46h1v1h-1zM21 46h3v1h-3zM27 46h2v1h-2zM30 46h3v1h-3zM58 46h1v1h-1zM64 46h1v1h-1zM68 46h1v1h-1zM70 46h4v1h-4zM77 46h1v1h-1zM-1 47h6v1h-6zM7 47h1v1h-1zM10 47h4v1h-4zM17 47h1v1h-1zM19 47h1v1h-1zM33 47h1v1h-1zM38 47h4v1h-4zM44 47h1v1h-1zM7 48h3v1h-3zM19 48h1v1h-1zM33 48h1v1h-1zM39 48h1v1h-1zM44 48h3v1h-3zM7 49h2v1h-2zM10 49h6v1h-6zM17 49h3v1h-3zM33 49h1v1h-1zM41 49h1v1h-1zM44 49h2v1h-2zM58 49h1v1h-1zM11 50h2v1h-2zM14 50h2v1h-2zM34 50h1v1h-1zM39 50h2v1h-2zM44 50h1v1h-1zM46 50h1v1h-1zM60 50h4v1h-4zM-1 51h6v1h-6zM6 51h3v1h-3zM10 51h4v1h-4zM21 51h1v1h-1zM24 51h1v1h-1zM33 51h2v1h-2zM36 51h2v1h-2zM40 51h1v1h-1zM-1 52h2v1h-2zM4 52h1v1h-1zM7 52h2v1h-2zM10 52h4v1h-4zM21 52h1v1h-1zM33 52h2v1h-2zM36 52h2v1h-2zM40 52h1v1h-1zM-1 53h6v1h-6zM6 53h2v1h-2zM19 53h1v1h-1zM37 53h1v1h-1zM44 53h1v1h-1zM-1 54h2v1h-2zM2 54h3v1h-3zM9 54h1v1h-1zM18 54h1v1h-1zM21 54h1v1h-1zM34 54h1v1h-1zM36 54h2v1h-2zM39 54h1v1h-1zM42 54h2v1h-2zM45 54h4v1h-4zM13 55h3v1h-3zM17 55h1v1h-1zM28 55h1v1h-1zM34 55h1v1h-1zM39 55h3v1h-3zM44 55h5v1h-5zM50 55h1v1h-1zM53 55h2v1h-2zM58 55h1v1h-1zM60 55h5v1h-5zM74 55h2v1h-2zM10 56h1v1h-1zM13 56h1v1h-1zM17 56h1v1h-1zM33 56h1v1h-1zM39 56h1v1h-1zM44 56h5v1h-5zM50 56h1v1h-1zM53 56h4v1h-4zM58 56h1v1h-1zM60 56h4v1h-4zM16 57h1v1h-1zM33 57h2v1h-2zM42 57h4v1h-4zM47 57h1v1h-1zM49 57h9v1h-9zM61 57h3v1h-3zM75 57h3v1h-3zM79 57h2v1h-2zM8 58h2v1h-2zM14 58h2v1h-2zM25 58h1v1h-1zM27 58h2v1h-2zM33 58h1v1h-1zM41 58h1v1h-1zM44 58h2v1h-2zM47 58h4v1h-4zM53 58h2v1h-2zM58 58h1v1h-1zM63 58h3v1h-3zM70 58h1v1h-1zM74 58h2v1h-2zM9 59h1v1h-1zM18 59h1v1h-1zM35 59h2v1h-2zM58 59h1v1h-1zM60 59h3v1h-3zM64 59h1v1h-1zM67 59h1v1h-1zM70 59h4v1h-4zM76 59h1v1h-1zM-1 60h3v1h-3zM3 60h2v1h-2zM6 60h1v1h-1zM26 60h1v1h-1zM30 60h3v1h-3zM42 60h1v1h-1zM64 60h1v1h-1zM5 61h1v1h-1zM9 61h1v1h-1zM14 61h2v1h-2zM20 61h1v1h-1zM25 61h1v1h-1zM30 61h1v1h-1zM35 61h1v1h-1zM59 61h1v1h-1zM67 61h4v1h-4zM72 61h4v1h-4zM77 61h4v1h-4zM4 62h1v1h-1zM6 62h1v1h-1zM8 62h2v1h-2zM23 62h2v1h-2zM30 62h1v1h-1zM32 62h2v1h-2zM38 62h4v1h-4zM45 62h9v1h-9zM56 62h2v1h-2zM67 62h1v1h-1zM76 62h1v1h-1zM6 63h1v1h-1zM22 63h1v1h-1zM41 63h1v1h-1zM45 63h9v1h-9zM55 63h3v1h-3zM65 63h1v1h-1zM68 63h2v1h-2zM71 63h10v1h-10zM18 64h1v1h-1zM21 64h1v1h-1zM24 64h1v1h-1zM29 64h2v1h-2zM38 64h2v1h-2zM44 64h1v1h-1zM47 64h1v1h-1zM50 64h1v1h-1zM53 64h4v1h-4zM66 64h1v1h-1zM68 64h2v1h-2zM71 64h3v1h-3zM77 64h4v1h-4zM18 65h1v1h-1zM21 65h1v1h-1zM24 65h1v1h-1zM29 65h2v1h-2zM33 65h1v1h-1zM38 65h2v1h-2zM44 65h2v1h-2zM47 65h1v1h-1zM50 65h1v1h-1zM53 65h2v1h-2zM66 65h1v1h-1zM68 65h2v1h-2zM71 65h3v1h-3zM77 65h4v1h-4zM9 66h1v1h-1zM23 66h2v1h-2zM27 66h2v1h-2zM30 66h1v1h-1zM32 66h1v1h-1zM37 66h5v1h-5zM45 66h4v1h-4zM50 66h7v1h-7zM64 66h1v1h-1zM66 66h3v1h-3zM71 66h10v1h-10zM9 67h1v1h-1zM27 67h4v1h-4zM32 67h2v1h-2zM36 67h2v1h-2zM39 67h1v1h-1zM45 67h4v1h-4zM50 67h7v1h-7zM64 67h1v1h-1zM67 67h1v1h-1zM69 67h1v1h-1zM71 67h10v1h-10zM9 68h1v1h-1zM27 68h4v1h-4zM32 68h2v1h-2zM36 68h2v1h-2zM39 68h1v1h-1zM45 68h1v1h-1zM53 68h1v1h-1zM62 68h3v1h-3zM66 68h6v1h-6zM74 68h2v1h-2zM23 69h1v1h-1zM27 69h2v1h-2zM30 69h1v1h-1zM32 69h2v1h-2zM36 69h2v1h-2zM39 69h1v1h-1zM45 69h1v1h-1zM53 69h1v1h-1zM62 69h3v1h-3zM66 69h6v1h-6zM75 69h1v1h-1zM11 70h3v1h-3zM17 70h2v1h-2zM20 70h2v1h-2zM25 70h1v1h-1zM31 70h1v1h-1zM37 70h1v1h-1zM43 70h2v1h-2zM46 70h1v1h-1zM48 70h1v1h-1zM51 70h7v1h-7zM59 70h1v1h-1zM63 70h1v1h-1zM65 70h2v1h-2zM70 70h1v1h-1zM72 70h2v1h-2zM75 70h1v1h-1zM77 70h4v1h-4zM17 71h1v1h-1zM21 71h1v1h-1zM27 71h2v1h-2zM30 71h2v1h-2zM43 71h2v1h-2zM46 71h6v1h-6zM26 72h3v1h-3zM30 72h3v1h-3zM34 72h4v1h-4zM39 72h1v1h-1zM16 73h2v1h-2zM19 73h1v1h-1zM26 73h1v1h-1zM28 73h1v1h-1zM34 73h1v1h-1zM39 73h4v1h-4zM65 73h3v1h-3zM18 74h1v1h-1zM34 74h1v1h-1zM37 74h6v1h-6zM66 74h1v1h-1zM17 75h1v1h-1zM19 75h1v1h-1zM25 75h4v1h-4zM32 75h1v1h-1zM38 75h5v1h-5zM19 76h1v1h-1zM25 76h2v1h-2zM28 76h1v1h-1zM32 76h1v1h-1zM38 76h5v1h-5zM25 77h2v1h-2zM28 77h1v1h-1zM32 77h1v1h-1zM38 77h5v1h-5zM19 78h1v1h-1zM26 78h1v1h-1zM28 78h1v1h-1zM32 78h1v1h-1zM39 78h4v1h-4zM19 79h1v1h-1zM25 79h4v1h-4zM32 79h1v1h-1zM38 79h5v1h-5zM19 80h1v1h-1zM25 80h4v1h-4zM32 80h1v1h-1zM38 80h5v1h-5z"/><path fill="#a9d9e8" stroke="#a9d9e8" stroke-width="0.04" d="M17 -1h1v1h-1zM21 -1h1v1h-1zM23 -1h2v1h-2zM33 -1h1v1h-1zM17 0h1v1h-1zM21 0h1v1h-1zM23 0h2v1h-2zM33 0h1v1h-1zM17 1h1v1h-1zM21 1h1v1h-1zM23 1h2v1h-2zM33 1h1v1h-1zM17 2h1v1h-1zM21 2h1v1h-1zM34 2h1v1h-1zM23 3h1v1h-1zM33 3h2v1h-2zM14 4h2v1h-2zM23 4h1v1h-1zM9 5h1v1h-1zM14 5h2v1h-2zM17 5h1v1h-1zM22 5h1v1h-1zM33 5h1v1h-1zM17 6h1v1h-1zM21 6h2v1h-2zM34 6h1v1h-1zM17 7h1v1h-1zM21 7h2v1h-2zM24 7h1v1h-1zM18 8h1v1h-1zM21 8h2v1h-2zM24 8h1v1h-1zM12 9h3v1h-3zM16 9h1v1h-1zM24 9h1v1h-1zM36 9h1v1h-1zM13 10h1v1h-1zM22 10h1v1h-1zM24 10h1v1h-1zM39 10h1v1h-1zM12 11h1v1h-1zM20 11h1v1h-1zM27 11h2v1h-2zM19 12h1v1h-1zM21 12h1v1h-1zM34 12h1v1h-1zM12 13h1v1h-1zM17 13h1v1h-1zM21 13h1v1h-1zM35 13h1v1h-1zM10 14h2v1h-2zM13 14h1v1h-1zM35 14h1v1h-1zM16 15h1v1h-1zM39 15h1v1h-1zM41 15h1v1h-1zM12 16h4v1h-4zM33 16h1v1h-1zM12 17h1v1h-1zM14 17h2v1h-2zM21 17h1v1h-1zM33 17h1v1h-1zM11 18h1v1h-1zM14 18h1v1h-1zM21 18h1v1h-1zM30 18h1v1h-1zM33 18h1v1h-1zM14 19h1v1h-1zM21 19h2v1h-2zM30 19h1v1h-1zM33 19h1v1h-1zM35 19h2v1h-2zM21 20h1v1h-1zM29 20h1v1h-1zM42 20h1v1h-1zM22 21h1v1h-1zM27 21h1v1h-1zM37 21h1v1h-1zM42 21h1v1h-1zM21 22h1v1h-1zM23 22h2v1h-2zM24 23h1v1h-1zM17 24h1v1h-1zM24 24h1v1h-1zM29 24h1v1h-1zM16 25h2v1h-2zM29 25h1v1h-1zM31 25h1v1h-1zM25 26h2v1h-2zM29 26h1v1h-1zM31 26h1v1h-1zM18 27h1v1h-1zM21 27h1v1h-1zM23 27h1v1h-1zM25 27h1v1h-1zM23 28h1v1h-1zM25 28h1v1h-1zM9 29h1v1h-1zM18 29h1v1h-1zM25 29h1v1h-1zM18 30h1v1h-1zM23 30h3v1h-3zM26 31h1v1h-1zM29 31h1v1h-1zM31 31h1v1h-1zM9 32h1v1h-1zM26 32h1v1h-1zM30 32h2v1h-2zM26 33h2v1h-2zM32 33h1v1h-1zM8 34h2v1h-2zM26 34h1v1h-1zM29 34h1v1h-1zM32 34h1v1h-1zM10 35h2v1h-2zM27 35h2v1h-2zM19 36h1v1h-1zM21 36h1v1h-1zM26 36h1v1h-1zM8 37h1v1h-1zM18 37h1v1h-1zM21 37h1v1h-1zM26 37h1v1h-1zM58 37h2v1h-2zM27 38h3v1h-3zM64 38h1v1h-1zM9 39h1v1h-1zM16 39h1v1h-1zM30 39h1v1h-1zM16 40h1v1h-1zM27 40h2v1h-2zM64 40h1v1h-1zM69 40h1v1h-1zM8 41h1v1h-1zM26 41h1v1h-1zM29 41h1v1h-1zM-1 42h6v1h-6zM20 42h1v1h-1zM22 42h2v1h-2zM58 42h1v1h-1zM-1 43h2v1h-2zM5 43h1v1h-1zM9 43h1v1h-1zM60 43h1v1h-1zM70 43h1v1h-1zM-1 44h5v1h-5zM5 44h1v1h-1zM22 44h1v1h-1zM26 44h1v1h-1zM34 44h1v1h-1zM60 44h1v1h-1zM65 44h2v1h-2zM-1 45h6v1h-6zM13 45h3v1h-3zM35 45h1v1h-1zM67 45h1v1h-1zM73 45h1v1h-1zM76 45h2v1h-2zM7 46h1v1h-1zM16 46h1v1h-1zM19 46h1v1h-1zM60 46h4v1h-4zM74 46h1v1h-1zM76 46h1v1h-1zM78 46h3v1h-3zM5 47h1v1h-1zM9 47h1v1h-1zM14 47h2v1h-2zM45 47h2v1h-2zM-1 48h2v1h-2zM2 48h3v1h-3zM10 48h1v1h-1zM13 48h1v1h-1zM17 48h1v1h-1zM47 48h2v1h-2zM53 48h2v1h-2zM-1 49h6v1h-6zM9 49h1v1h-1zM25 49h1v1h-1zM40 49h1v1h-1zM47 49h1v1h-1zM60 49h2v1h-2zM7 50h1v1h-1zM21 50h1v1h-1zM25 50h1v1h-1zM38 50h1v1h-1zM41 50h1v1h-1zM45 50h1v1h-1zM48 50h1v1h-1zM53 50h3v1h-3zM59 50h1v1h-1zM5 51h1v1h-1zM17 51h1v1h-1zM20 51h1v1h-1zM39 51h1v1h-1zM41 51h1v1h-1zM44 51h1v1h-1zM68 51h1v1h-1zM1 52h3v1h-3zM6 52h1v1h-1zM17 52h1v1h-1zM20 52h1v1h-1zM24 52h1v1h-1zM39 52h1v1h-1zM41 52h1v1h-1zM44 52h1v1h-1zM46 52h1v1h-1zM58 52h1v1h-1zM68 52h1v1h-1zM5 53h1v1h-1zM9 53h1v1h-1zM11 53h1v1h-1zM24 53h1v1h-1zM35 53h1v1h-1zM38 53h1v1h-1zM42 53h2v1h-2zM45 53h4v1h-4zM53 53h1v1h-1zM1 54h1v1h-1zM5 54h2v1h-2zM29 54h2v1h-2zM49 54h5v1h-5zM9 55h2v1h-2zM19 55h1v1h-1zM26 55h2v1h-2zM49 55h1v1h-1zM55 55h3v1h-3zM69 55h4v1h-4zM78 55h3v1h-3zM8 56h1v1h-1zM11 56h2v1h-2zM19 56h1v1h-1zM21 56h1v1h-1zM37 56h1v1h-1zM49 56h1v1h-1zM51 56h2v1h-2zM57 56h1v1h-1zM75 56h2v1h-2zM78 56h3v1h-3zM8 57h2v1h-2zM21 57h1v1h-1zM35 57h1v1h-1zM37 57h1v1h-1zM58 57h1v1h-1zM60 57h1v1h-1zM69 57h1v1h-1zM71 57h4v1h-4zM11 58h2v1h-2zM16 58h2v1h-2zM22 58h2v1h-2zM29 58h1v1h-1zM42 58h2v1h-2zM52 58h1v1h-1zM57 58h1v1h-1zM59 58h4v1h-4zM66 58h2v1h-2zM71 58h3v1h-3zM77 58h4v1h-4zM8 59h1v1h-1zM27 59h2v1h-2zM37 59h1v1h-1zM68 59h1v1h-1zM7 60h2v1h-2zM23 60h2v1h-2zM33 60h1v1h-1zM43 60h1v1h-1zM67 60h1v1h-1zM6 61h1v1h-1zM42 61h1v1h-1zM49 61h2v1h-2zM52 61h1v1h-1zM71 61h1v1h-1zM-1 62h5v1h-5zM5 62h1v1h-1zM21 62h1v1h-1zM27 62h2v1h-2zM31 62h1v1h-1zM54 62h2v1h-2zM66 62h1v1h-1zM72 62h3v1h-3zM77 62h4v1h-4zM21 63h1v1h-1zM33 63h1v1h-1zM39 63h2v1h-2zM54 63h1v1h-1zM64 63h1v1h-1zM70 63h1v1h-1zM8 64h1v1h-1zM32 64h1v1h-1zM34 64h1v1h-1zM62 64h2v1h-2zM74 64h2v1h-2zM32 65h1v1h-1zM34 65h1v1h-1zM60 65h4v1h-4zM70 65h1v1h-1zM74 65h2v1h-2zM8 66h1v1h-1zM31 66h1v1h-1zM34 66h1v1h-1zM63 66h1v1h-1zM65 66h1v1h-1zM69 66h2v1h-2zM21 67h1v1h-1zM23 67h1v1h-1zM62 67h2v1h-2zM66 67h1v1h-1zM68 67h1v1h-1zM70 67h1v1h-1zM21 68h1v1h-1zM23 68h1v1h-1zM26 68h1v1h-1zM44 68h1v1h-1zM61 68h1v1h-1zM65 68h1v1h-1zM9 69h1v1h-1zM24 69h1v1h-1zM31 69h1v1h-1zM44 69h1v1h-1zM65 69h1v1h-1zM10 70h1v1h-1zM22 70h1v1h-1zM24 70h1v1h-1zM26 70h1v1h-1zM30 70h1v1h-1zM32 70h1v1h-1zM36 70h1v1h-1zM40 70h1v1h-1zM45 70h1v1h-1zM47 70h1v1h-1zM50 70h1v1h-1zM74 70h1v1h-1zM13 71h1v1h-1zM15 71h1v1h-1zM19 71h2v1h-2zM22 71h2v1h-2zM38 71h1v1h-1zM42 71h1v1h-1zM45 71h1v1h-1zM19 72h1v1h-1zM29 72h1v1h-1zM33 72h1v1h-1zM18 73h1v1h-1zM25 73h1v1h-1zM27 73h1v1h-1zM17 74h1v1h-1zM25 74h2v1h-2zM28 74h1v1h-1zM32 74h1v1h-1zM35 74h2v1h-2zM30 75h2v1h-2zM34 75h1v1h-1zM37 75h1v1h-1zM17 76h1v1h-1zM27 76h1v1h-1zM30 76h2v1h-2zM34 76h2v1h-2zM37 76h1v1h-1zM17 77h1v1h-1zM27 77h1v1h-1zM30 77h2v1h-2zM34 77h2v1h-2zM37 77h1v1h-1zM17 78h1v1h-1zM25 78h1v1h-1zM27 78h1v1h-1zM30 78h1v1h-1zM34 78h2v1h-2zM37 78h1v1h-1zM17 79h1v1h-1zM30 79h2v1h-2zM34 79h4v1h-4zM17 80h1v1h-1zM30 80h2v1h-2zM34 80h4v1h-4z"/><path fill="#f3f6e3" stroke="#f3f6e3" stroke-width="0.04" d="M24 2h1v1h-1zM18 3h1v1h-1zM24 3h1v1h-1zM17 4h1v1h-1zM29 4h1v1h-1zM33 4h1v1h-1zM19 5h1v1h-1zM36 5h2v1h-2zM24 6h1v1h-1zM19 7h1v1h-1zM36 7h1v1h-1zM17 8h1v1h-1zM23 8h1v1h-1zM29 8h1v1h-1zM34 8h1v1h-1zM15 9h1v1h-1zM29 9h1v1h-1zM34 9h2v1h-2zM40 9h1v1h-1zM20 10h1v1h-1zM23 10h1v1h-1zM36 10h1v1h-1zM17 11h1v1h-1zM21 11h1v1h-1zM34 11h1v1h-1zM38 11h1v1h-1zM27 12h1v1h-1zM33 12h1v1h-1zM20 13h1v1h-1zM12 14h1v1h-1zM20 14h1v1h-1zM36 14h1v1h-1zM9 15h1v1h-1zM17 15h1v1h-1zM18 16h1v1h-1zM30 16h1v1h-1zM13 17h1v1h-1zM31 17h1v1h-1zM10 18h1v1h-1zM15 18h1v1h-1zM18 18h1v1h-1zM35 18h1v1h-1zM10 19h2v1h-2zM15 19h1v1h-1zM27 19h1v1h-1zM31 19h1v1h-1zM10 20h2v1h-2zM23 20h1v1h-1zM38 20h1v1h-1zM28 21h1v1h-1zM32 21h1v1h-1zM40 21h2v1h-2zM18 22h1v1h-1zM25 22h1v1h-1zM18 23h1v1h-1zM21 23h1v1h-1zM25 23h1v1h-1zM29 23h1v1h-1zM21 24h1v1h-1zM25 24h1v1h-1zM31 24h1v1h-1zM18 25h1v1h-1zM25 25h1v1h-1zM30 26h1v1h-1zM24 27h1v1h-1zM18 28h1v1h-1zM24 28h1v1h-1zM19 29h1v1h-1zM31 29h1v1h-1zM9 30h1v1h-1zM19 30h1v1h-1zM26 30h1v1h-1zM31 30h1v1h-1zM29 32h1v1h-1zM28 33h1v1h-1zM30 33h1v1h-1zM27 34h1v1h-1zM12 35h2v1h-2zM35 35h1v1h-1zM18 36h1v1h-1zM23 36h1v1h-1zM9 37h1v1h-1zM23 37h1v1h-1zM31 37h1v1h-1zM9 38h1v1h-1zM58 38h1v1h-1zM58 39h1v1h-1zM70 39h1v1h-1zM30 41h1v1h-1zM59 41h1v1h-1zM68 41h1v1h-1zM8 42h1v1h-1zM34 42h1v1h-1zM74 42h1v1h-1zM1 43h2v1h-2zM21 43h2v1h-2zM65 43h1v1h-1zM69 43h1v1h-1zM72 43h1v1h-1zM74 43h1v1h-1zM4 44h1v1h-1zM8 44h1v1h-1zM44 44h1v1h-1zM61 44h1v1h-1zM70 44h1v1h-1zM37 45h1v1h-1zM68 45h1v1h-1zM70 45h2v1h-2zM24 46h1v1h-1zM29 46h1v1h-1zM67 46h1v1h-1zM75 46h1v1h-1zM6 47h1v1h-1zM21 47h1v1h-1zM58 47h1v1h-1zM1 48h1v1h-1zM5 48h1v1h-1zM14 48h1v1h-1zM42 48h1v1h-1zM49 48h2v1h-2zM55 48h1v1h-1zM60 48h1v1h-1zM62 48h1v1h-1zM5 49h1v1h-1zM38 49h1v1h-1zM46 49h1v1h-1zM53 49h1v1h-1zM63 49h1v1h-1zM8 50h1v1h-1zM33 50h1v1h-1zM47 50h1v1h-1zM56 50h1v1h-1zM70 50h2v1h-2zM75 50h1v1h-1zM22 51h1v1h-1zM46 51h1v1h-1zM58 51h1v1h-1zM5 52h1v1h-1zM45 52h1v1h-1zM60 52h1v1h-1zM67 52h1v1h-1zM10 53h1v1h-1zM49 53h1v1h-1zM54 54h4v1h-4zM11 55h2v1h-2zM33 55h1v1h-1zM51 55h2v1h-2zM73 55h1v1h-1zM76 55h2v1h-2zM42 56h2v1h-2zM59 56h1v1h-1zM69 56h1v1h-1zM71 56h1v1h-1zM13 57h1v1h-1zM19 57h1v1h-1zM28 57h1v1h-1zM36 57h1v1h-1zM7 58h1v1h-1zM10 58h1v1h-1zM13 58h1v1h-1zM19 58h1v1h-1zM32 58h1v1h-1zM36 58h1v1h-1zM55 58h2v1h-2zM68 58h1v1h-1zM16 59h1v1h-1zM19 59h1v1h-1zM65 59h2v1h-2zM69 59h1v1h-1zM14 60h1v1h-1zM20 60h3v1h-3zM49 60h2v1h-2zM72 60h1v1h-1zM74 60h1v1h-1zM-1 61h6v1h-6zM43 61h1v1h-1zM51 61h1v1h-1zM54 61h1v1h-1zM56 61h2v1h-2zM61 61h1v1h-1zM63 61h1v1h-1zM76 61h1v1h-1zM64 62h1v1h-1zM68 62h1v1h-1zM71 62h1v1h-1zM75 62h1v1h-1zM3 63h2v1h-2zM20 63h1v1h-1zM6 64h1v1h-1zM60 64h2v1h-2zM70 64h1v1h-1zM6 65h1v1h-1zM8 65h1v1h-1zM19 65h1v1h-1zM31 65h1v1h-1zM6 66h1v1h-1zM21 66h2v1h-2zM44 66h1v1h-1zM62 66h1v1h-1zM24 67h1v1h-1zM44 67h1v1h-1zM65 67h1v1h-1zM24 68h1v1h-1zM59 68h2v1h-2zM21 69h1v1h-1zM26 69h1v1h-1zM59 69h3v1h-3zM41 70h2v1h-2zM49 70h1v1h-1zM64 70h1v1h-1zM14 71h1v1h-1zM29 71h1v1h-1zM35 71h1v1h-1zM37 71h1v1h-1zM21 72h1v1h-1zM13 73h3v1h-3zM32 73h1v1h-1zM27 74h1v1h-1zM30 74h2v1h-2zM16 75h1v1h-1zM18 75h1v1h-1zM35 75h1v1h-1zM16 76h1v1h-1zM18 76h1v1h-1zM18 77h1v1h-1zM36 77h1v1h-1zM18 78h1v1h-1zM31 78h1v1h-1zM36 78h1v1h-1zM18 79h1v1h-1zM18 80h1v1h-1z"/><path fill="#f0ec8c" stroke="#f0ec8c" stroke-width="0.04" d="M19 -1h1v1h-1zM25 -1h1v1h-1zM29 -1h1v1h-1zM34 -1h1v1h-1zM19 0h1v1h-1zM25 0h1v1h-1zM29 0h1v1h-1zM34 0h1v1h-1zM19 1h1v1h-1zM25 1h1v1h-1zM27 1h1v1h-1zM29 1h1v1h-1zM34 1h1v1h-1zM19 2h1v1h-1zM23 2h1v1h-1zM25 2h1v1h-1zM29 2h1v1h-1zM36 2h1v1h-1zM19 3h1v1h-1zM25 3h1v1h-1zM27 3h1v1h-1zM29 3h1v1h-1zM19 4h1v1h-1zM25 4h1v1h-1zM30 4h1v1h-1zM35 4h3v1h-3zM23 5h1v1h-1zM29 5h2v1h-2zM34 5h2v1h-2zM38 5h1v1h-1zM40 5h1v1h-1zM19 6h1v1h-1zM23 6h1v1h-1zM25 6h1v1h-1zM35 6h2v1h-2zM38 6h4v1h-4zM23 7h1v1h-1zM35 7h1v1h-1zM37 7h5v1h-5zM27 8h1v1h-1zM35 8h2v1h-2zM39 8h1v1h-1zM17 9h1v1h-1zM22 9h2v1h-2zM27 9h1v1h-1zM37 9h3v1h-3zM41 9h1v1h-1zM17 10h1v1h-1zM21 10h1v1h-1zM35 10h1v1h-1zM37 10h2v1h-2zM40 10h2v1h-2zM22 11h3v1h-3zM29 11h1v1h-1zM35 11h3v1h-3zM39 11h3v1h-3zM22 12h1v1h-1zM25 12h2v1h-2zM28 12h1v1h-1zM35 12h1v1h-1zM38 12h4v1h-4zM19 13h1v1h-1zM28 13h1v1h-1zM36 13h2v1h-2zM44 13h3v1h-3zM14 14h2v1h-2zM17 14h1v1h-1zM19 14h1v1h-1zM24 14h1v1h-1zM37 14h1v1h-1zM42 14h1v1h-1zM44 14h3v1h-3zM15 15h1v1h-1zM22 15h1v1h-1zM37 15h2v1h-2zM42 15h1v1h-1zM45 15h1v1h-1zM16 16h1v1h-1zM31 16h2v1h-2zM34 16h2v1h-2zM16 17h1v1h-1zM18 17h1v1h-1zM25 17h1v1h-1zM30 17h1v1h-1zM32 17h1v1h-1zM34 17h1v1h-1zM12 18h2v1h-2zM16 18h1v1h-1zM27 18h1v1h-1zM31 18h2v1h-2zM34 18h1v1h-1zM36 18h2v1h-2zM39 18h3v1h-3zM12 19h2v1h-2zM16 19h1v1h-1zM18 19h1v1h-1zM26 19h1v1h-1zM28 19h1v1h-1zM32 19h1v1h-1zM37 19h5v1h-5zM12 20h2v1h-2zM16 20h1v1h-1zM19 20h2v1h-2zM22 20h1v1h-1zM30 20h1v1h-1zM43 20h1v1h-1zM45 20h2v1h-2zM10 21h2v1h-2zM14 21h1v1h-1zM31 21h1v1h-1zM38 21h2v1h-2zM19 22h1v1h-1zM26 22h2v1h-2zM29 22h1v1h-1zM31 22h1v1h-1zM33 22h2v1h-2zM19 23h1v1h-1zM26 23h2v1h-2zM31 23h1v1h-1zM33 23h2v1h-2zM18 24h2v1h-2zM26 24h3v1h-3zM30 24h1v1h-1zM19 25h1v1h-1zM26 25h1v1h-1zM30 25h1v1h-1zM18 26h2v1h-2zM27 26h1v1h-1zM19 27h1v1h-1zM26 27h2v1h-2zM29 27h1v1h-1zM31 27h1v1h-1zM33 27h2v1h-2zM19 28h1v1h-1zM21 28h1v1h-1zM26 28h2v1h-2zM29 28h1v1h-1zM33 28h2v1h-2zM26 29h1v1h-1zM29 29h1v1h-1zM19 31h1v1h-1zM27 31h2v1h-2zM30 31h1v1h-1zM32 31h1v1h-1zM18 32h2v1h-2zM27 32h2v1h-2zM32 32h1v1h-1zM19 33h1v1h-1zM21 33h1v1h-1zM59 33h1v1h-1zM65 33h2v1h-2zM19 34h1v1h-1zM28 34h1v1h-1zM59 34h1v1h-1zM64 34h3v1h-3zM16 35h2v1h-2zM25 35h1v1h-1zM36 35h2v1h-2zM65 35h2v1h-2zM24 36h1v1h-1zM27 36h2v1h-2zM31 36h1v1h-1zM59 36h1v1h-1zM24 37h1v1h-1zM27 37h1v1h-1zM64 37h2v1h-2zM8 38h1v1h-1zM19 38h1v1h-1zM60 38h2v1h-2zM67 38h4v1h-4zM72 38h2v1h-2zM8 39h1v1h-1zM19 39h1v1h-1zM21 39h1v1h-1zM60 39h2v1h-2zM67 39h3v1h-3zM72 39h3v1h-3zM9 40h1v1h-1zM19 40h1v1h-1zM58 40h1v1h-1zM60 40h2v1h-2zM67 40h2v1h-2zM70 40h4v1h-4zM9 41h1v1h-1zM16 41h1v1h-1zM19 41h1v1h-1zM21 41h1v1h-1zM27 41h2v1h-2zM36 41h1v1h-1zM58 41h1v1h-1zM60 41h1v1h-1zM64 41h1v1h-1zM67 41h1v1h-1zM69 41h2v1h-2zM72 41h3v1h-3zM6 42h1v1h-1zM18 42h2v1h-2zM31 42h2v1h-2zM44 42h1v1h-1zM60 42h2v1h-2zM64 42h3v1h-3zM68 42h3v1h-3zM72 42h1v1h-1zM75 42h1v1h-1zM3 43h2v1h-2zM6 43h1v1h-1zM18 43h2v1h-2zM23 43h1v1h-1zM29 43h1v1h-1zM31 43h2v1h-2zM38 43h1v1h-1zM44 43h1v1h-1zM61 43h1v1h-1zM66 43h1v1h-1zM68 43h1v1h-1zM71 43h1v1h-1zM73 43h1v1h-1zM75 43h1v1h-1zM77 43h1v1h-1zM6 44h1v1h-1zM9 44h1v1h-1zM21 44h1v1h-1zM31 44h1v1h-1zM63 44h1v1h-1zM67 44h3v1h-3zM71 44h5v1h-5zM9 45h4v1h-4zM17 45h1v1h-1zM51 45h2v1h-2zM56 45h2v1h-2zM61 45h3v1h-3zM74 45h1v1h-1zM78 45h3v1h-3zM-1 46h3v1h-3zM5 46h2v1h-2zM51 46h2v1h-2zM56 46h2v1h-2zM36 47h2v1h-2zM47 47h2v1h-2zM60 47h4v1h-4zM6 48h1v1h-1zM11 48h2v1h-2zM15 48h1v1h-1zM21 48h1v1h-1zM27 48h2v1h-2zM35 48h3v1h-3zM43 48h1v1h-1zM52 48h1v1h-1zM56 48h3v1h-3zM61 48h1v1h-1zM63 48h1v1h-1zM6 49h1v1h-1zM48 49h1v1h-1zM54 49h2v1h-2zM59 49h1v1h-1zM62 49h1v1h-1zM74 49h2v1h-2zM-1 50h6v1h-6zM20 50h1v1h-1zM26 50h1v1h-1zM36 50h1v1h-1zM50 50h3v1h-3zM57 50h1v1h-1zM68 50h1v1h-1zM74 50h1v1h-1zM76 50h5v1h-5zM16 51h1v1h-1zM25 51h1v1h-1zM31 51h1v1h-1zM38 51h1v1h-1zM43 51h1v1h-1zM45 51h1v1h-1zM47 51h2v1h-2zM55 51h1v1h-1zM60 51h1v1h-1zM66 51h2v1h-2zM16 52h1v1h-1zM22 52h1v1h-1zM25 52h1v1h-1zM31 52h1v1h-1zM38 52h1v1h-1zM42 52h2v1h-2zM47 52h2v1h-2zM51 52h3v1h-3zM55 52h3v1h-3zM61 52h1v1h-1zM70 52h2v1h-2zM76 52h1v1h-1zM78 52h1v1h-1zM12 53h2v1h-2zM16 53h1v1h-1zM29 53h1v1h-1zM50 53h3v1h-3zM54 53h4v1h-4zM60 53h1v1h-1zM67 53h1v1h-1zM7 54h1v1h-1zM16 54h1v1h-1zM24 54h1v1h-1zM27 54h2v1h-2zM44 54h1v1h-1zM62 54h1v1h-1zM67 54h1v1h-1zM73 54h1v1h-1zM75 54h6v1h-6zM7 55h2v1h-2zM21 55h1v1h-1zM25 55h1v1h-1zM42 55h2v1h-2zM65 55h1v1h-1zM68 55h1v1h-1zM-1 56h3v1h-3zM7 56h1v1h-1zM9 56h1v1h-1zM14 56h2v1h-2zM36 56h1v1h-1zM68 56h1v1h-1zM70 56h1v1h-1zM72 56h3v1h-3zM77 56h1v1h-1zM1 57h1v1h-1zM7 57h1v1h-1zM17 57h1v1h-1zM27 57h1v1h-1zM59 57h1v1h-1zM64 57h1v1h-1zM67 57h2v1h-2zM70 57h1v1h-1zM-1 58h8v1h-8zM24 58h1v1h-1zM31 58h1v1h-1zM35 58h1v1h-1zM38 58h1v1h-1zM40 58h1v1h-1zM46 58h1v1h-1zM51 58h1v1h-1zM69 58h1v1h-1zM17 59h1v1h-1zM29 59h1v1h-1zM59 59h1v1h-1zM15 60h1v1h-1zM36 60h6v1h-6zM45 60h4v1h-4zM51 60h7v1h-7zM59 60h1v1h-1zM65 60h2v1h-2zM73 60h1v1h-1zM75 60h6v1h-6zM7 61h2v1h-2zM10 61h2v1h-2zM36 61h2v1h-2zM47 61h1v1h-1zM53 61h1v1h-1zM55 61h1v1h-1zM60 61h1v1h-1zM62 61h1v1h-1zM7 62h1v1h-1zM20 62h1v1h-1zM22 62h1v1h-1zM34 62h1v1h-1zM44 62h1v1h-1zM65 62h1v1h-1zM69 62h2v1h-2zM-1 63h4v1h-4zM5 63h1v1h-1zM7 63h3v1h-3zM25 63h4v1h-4zM38 63h1v1h-1zM44 63h1v1h-1zM59 63h5v1h-5zM3 64h2v1h-2zM9 64h1v1h-1zM19 64h1v1h-1zM23 64h1v1h-1zM31 64h1v1h-1zM64 64h2v1h-2zM3 65h2v1h-2zM23 65h1v1h-1zM58 65h1v1h-1zM65 65h1v1h-1zM-1 66h7v1h-7zM26 66h1v1h-1zM59 66h3v1h-3zM2 67h5v1h-5zM8 67h1v1h-1zM26 67h1v1h-1zM31 67h1v1h-1zM34 67h1v1h-1zM59 67h3v1h-3zM8 68h1v1h-1zM18 68h1v1h-1zM31 68h1v1h-1zM34 68h1v1h-1zM58 68h1v1h-1zM8 69h1v1h-1zM18 69h1v1h-1zM34 69h1v1h-1zM58 69h1v1h-1zM15 70h2v1h-2zM23 70h1v1h-1zM34 70h2v1h-2zM38 70h2v1h-2zM10 71h3v1h-3zM16 71h1v1h-1zM18 71h1v1h-1zM24 71h1v1h-1zM40 71h2v1h-2zM16 72h3v1h-3zM22 72h4v1h-4zM12 73h1v1h-1zM21 73h1v1h-1zM30 73h2v1h-2zM33 73h1v1h-1zM35 73h3v1h-3zM12 74h2v1h-2zM16 74h1v1h-1zM21 74h1v1h-1zM33 74h1v1h-1zM12 75h4v1h-4zM21 75h1v1h-1zM29 75h1v1h-1zM36 75h1v1h-1zM12 76h4v1h-4zM21 76h1v1h-1zM29 76h1v1h-1zM36 76h1v1h-1zM12 77h2v1h-2zM16 77h1v1h-1zM21 77h1v1h-1zM29 77h1v1h-1zM13 78h1v1h-1zM16 78h1v1h-1zM21 78h3v1h-3zM29 78h1v1h-1zM33 78h1v1h-1zM13 79h1v1h-1zM16 79h1v1h-1zM21 79h1v1h-1zM23 79h1v1h-1zM29 79h1v1h-1zM33 79h1v1h-1zM13 80h1v1h-1zM16 80h1v1h-1zM21 80h1v1h-1zM23 80h1v1h-1zM29 80h1v1h-1zM33 80h1v1h-1z"/><path fill="#eee63a" stroke="#eee63a" stroke-width="0.04" d="M26 -1h3v1h-3zM30 -1h3v1h-3zM35 -1h7v1h-7zM26 0h3v1h-3zM30 0h3v1h-3zM35 0h7v1h-7zM26 1h1v1h-1zM28 1h1v1h-1zM30 1h3v1h-3zM35 1h7v1h-7zM26 2h3v1h-3zM30 2h2v1h-2zM35 2h1v1h-1zM37 2h5v1h-5zM21 3h1v1h-1zM26 3h1v1h-1zM28 3h1v1h-1zM30 3h3v1h-3zM35 3h2v1h-2zM38 3h4v1h-4zM26 4h3v1h-3zM31 4h2v1h-2zM34 4h1v1h-1zM38 4h4v1h-4zM25 5h2v1h-2zM31 5h2v1h-2zM39 5h1v1h-1zM41 5h1v1h-1zM26 6h6v1h-6zM37 6h1v1h-1zM45 6h1v1h-1zM25 7h1v1h-1zM27 7h1v1h-1zM29 7h3v1h-3zM44 7h2v1h-2zM19 8h1v1h-1zM25 8h2v1h-2zM28 8h1v1h-1zM30 8h2v1h-2zM37 8h2v1h-2zM40 8h2v1h-2zM19 9h1v1h-1zM26 9h1v1h-1zM28 9h1v1h-1zM30 9h2v1h-2zM42 9h1v1h-1zM45 9h1v1h-1zM19 10h1v1h-1zM25 10h1v1h-1zM27 10h5v1h-5zM42 10h1v1h-1zM44 10h2v1h-2zM19 11h1v1h-1zM25 11h2v1h-2zM30 11h1v1h-1zM42 11h1v1h-1zM45 11h1v1h-1zM64 11h1v1h-1zM23 12h2v1h-2zM29 12h2v1h-2zM44 12h2v1h-2zM58 12h2v1h-2zM62 12h1v1h-1zM64 12h1v1h-1zM22 13h1v1h-1zM24 13h1v1h-1zM26 13h2v1h-2zM29 13h1v1h-1zM42 13h1v1h-1zM47 13h2v1h-2zM58 13h1v1h-1zM60 13h1v1h-1zM62 13h1v1h-1zM22 14h2v1h-2zM27 14h4v1h-4zM43 14h1v1h-1zM47 14h3v1h-3zM14 15h1v1h-1zM23 15h1v1h-1zM25 15h1v1h-1zM29 15h3v1h-3zM43 15h2v1h-2zM46 15h3v1h-3zM58 15h1v1h-1zM67 15h2v1h-2zM17 16h1v1h-1zM19 16h1v1h-1zM25 16h4v1h-4zM36 16h7v1h-7zM17 17h1v1h-1zM19 17h1v1h-1zM26 17h3v1h-3zM35 17h3v1h-3zM39 17h4v1h-4zM66 17h2v1h-2zM17 18h1v1h-1zM26 18h1v1h-1zM28 18h1v1h-1zM38 18h1v1h-1zM42 18h1v1h-1zM45 18h1v1h-1zM17 19h1v1h-1zM34 19h1v1h-1zM42 19h1v1h-1zM66 19h1v1h-1zM14 20h2v1h-2zM27 20h2v1h-2zM31 20h2v1h-2zM44 20h1v1h-1zM47 20h7v1h-7zM67 20h1v1h-1zM12 21h2v1h-2zM15 21h2v1h-2zM18 21h1v1h-1zM26 21h1v1h-1zM34 21h1v1h-1zM43 21h1v1h-1zM45 21h7v1h-7zM64 21h1v1h-1zM66 21h2v1h-2zM28 22h1v1h-1zM30 22h1v1h-1zM32 22h1v1h-1zM35 22h3v1h-3zM39 22h1v1h-1zM28 23h1v1h-1zM30 23h1v1h-1zM32 23h1v1h-1zM35 23h2v1h-2zM39 23h1v1h-1zM32 24h6v1h-6zM27 25h2v1h-2zM32 25h6v1h-6zM28 26h1v1h-1zM32 26h6v1h-6zM59 26h1v1h-1zM28 27h1v1h-1zM30 27h1v1h-1zM32 27h1v1h-1zM36 27h1v1h-1zM39 27h2v1h-2zM59 27h1v1h-1zM28 28h1v1h-1zM30 28h3v1h-3zM36 28h1v1h-1zM38 28h2v1h-2zM58 28h2v1h-2zM27 29h2v1h-2zM30 29h1v1h-1zM32 29h6v1h-6zM58 29h2v1h-2zM27 30h4v1h-4zM32 30h3v1h-3zM36 30h2v1h-2zM58 30h2v1h-2zM65 30h1v1h-1zM18 31h1v1h-1zM33 31h5v1h-5zM58 31h2v1h-2zM64 31h3v1h-3zM33 32h1v1h-1zM35 32h3v1h-3zM58 32h2v1h-2zM64 32h3v1h-3zM18 33h1v1h-1zM33 33h4v1h-4zM58 33h1v1h-1zM64 33h1v1h-1zM18 34h1v1h-1zM35 34h1v1h-1zM37 34h1v1h-1zM58 34h1v1h-1zM61 34h1v1h-1zM67 34h4v1h-4zM72 34h2v1h-2zM18 35h2v1h-2zM33 35h1v1h-1zM38 35h1v1h-1zM40 35h1v1h-1zM42 35h1v1h-1zM59 35h1v1h-1zM64 35h1v1h-1zM67 35h1v1h-1zM69 35h1v1h-1zM72 35h1v1h-1zM29 36h2v1h-2zM32 36h3v1h-3zM58 36h1v1h-1zM64 36h2v1h-2zM28 37h3v1h-3zM32 37h1v1h-1zM34 37h1v1h-1zM44 37h1v1h-1zM60 37h4v1h-4zM66 37h1v1h-1zM68 37h3v1h-3zM36 38h2v1h-2zM62 38h2v1h-2zM71 38h1v1h-1zM74 38h7v1h-7zM35 39h2v1h-2zM44 39h1v1h-1zM52 39h1v1h-1zM62 39h2v1h-2zM71 39h1v1h-1zM75 39h6v1h-6zM8 40h1v1h-1zM18 40h1v1h-1zM35 40h3v1h-3zM51 40h2v1h-2zM56 40h2v1h-2zM62 40h2v1h-2zM74 40h7v1h-7zM18 41h1v1h-1zM33 41h3v1h-3zM37 41h1v1h-1zM44 41h1v1h-1zM51 41h1v1h-1zM61 41h1v1h-1zM63 41h1v1h-1zM71 41h1v1h-1zM75 41h6v1h-6zM21 42h1v1h-1zM24 42h1v1h-1zM29 42h2v1h-2zM33 42h1v1h-1zM38 42h2v1h-2zM41 42h1v1h-1zM45 42h1v1h-1zM47 42h4v1h-4zM53 42h3v1h-3zM57 42h1v1h-1zM62 42h2v1h-2zM71 42h1v1h-1zM73 42h1v1h-1zM77 42h4v1h-4zM8 43h1v1h-1zM30 43h1v1h-1zM34 43h1v1h-1zM39 43h3v1h-3zM46 43h12v1h-12zM62 43h2v1h-2zM76 43h1v1h-1zM78 43h3v1h-3zM23 44h2v1h-2zM27 44h2v1h-2zM32 44h2v1h-2zM38 44h3v1h-3zM45 44h4v1h-4zM50 44h1v1h-1zM53 44h5v1h-5zM62 44h1v1h-1zM76 44h5v1h-5zM8 45h1v1h-1zM16 45h1v1h-1zM19 45h1v1h-1zM36 45h1v1h-1zM38 45h1v1h-1zM42 45h2v1h-2zM46 45h1v1h-1zM48 45h3v1h-3zM53 45h3v1h-3zM58 45h1v1h-1zM60 45h1v1h-1zM75 45h1v1h-1zM2 46h3v1h-3zM9 46h1v1h-1zM18 46h1v1h-1zM35 46h1v1h-1zM37 46h2v1h-2zM43 46h2v1h-2zM46 46h5v1h-5zM53 46h3v1h-3zM20 47h1v1h-1zM25 47h1v1h-1zM27 47h1v1h-1zM35 47h1v1h-1zM42 47h2v1h-2zM49 47h9v1h-9zM59 47h1v1h-1zM74 47h3v1h-3zM78 47h3v1h-3zM20 48h1v1h-1zM26 48h1v1h-1zM51 48h1v1h-1zM59 48h1v1h-1zM64 48h1v1h-1zM69 48h12v1h-12zM20 49h1v1h-1zM22 49h1v1h-1zM24 49h1v1h-1zM27 49h2v1h-2zM36 49h2v1h-2zM42 49h2v1h-2zM49 49h4v1h-4zM56 49h2v1h-2zM64 49h2v1h-2zM67 49h7v1h-7zM76 49h5v1h-5zM5 50h2v1h-2zM9 50h1v1h-1zM27 50h2v1h-2zM37 50h1v1h-1zM42 50h2v1h-2zM49 50h1v1h-1zM64 50h4v1h-4zM69 50h1v1h-1zM72 50h2v1h-2zM14 51h2v1h-2zM23 51h1v1h-1zM29 51h2v1h-2zM35 51h1v1h-1zM42 51h1v1h-1zM49 51h6v1h-6zM56 51h2v1h-2zM59 51h1v1h-1zM61 51h3v1h-3zM65 51h1v1h-1zM69 51h3v1h-3zM73 51h1v1h-1zM75 51h6v1h-6zM14 52h2v1h-2zM23 52h1v1h-1zM29 52h2v1h-2zM32 52h1v1h-1zM35 52h1v1h-1zM49 52h2v1h-2zM54 52h1v1h-1zM59 52h1v1h-1zM62 52h2v1h-2zM65 52h2v1h-2zM69 52h1v1h-1zM72 52h2v1h-2zM75 52h1v1h-1zM77 52h1v1h-1zM79 52h2v1h-2zM14 53h2v1h-2zM17 53h1v1h-1zM20 53h4v1h-4zM25 53h1v1h-1zM31 53h1v1h-1zM58 53h1v1h-1zM61 53h3v1h-3zM66 53h1v1h-1zM68 53h1v1h-1zM70 53h2v1h-2zM73 53h8v1h-8zM13 54h1v1h-1zM19 54h2v1h-2zM23 54h1v1h-1zM26 54h1v1h-1zM32 54h1v1h-1zM63 54h2v1h-2zM68 54h2v1h-2zM71 54h2v1h-2zM74 54h1v1h-1zM-1 55h7v1h-7zM20 55h1v1h-1zM30 55h1v1h-1zM35 55h1v1h-1zM37 55h1v1h-1zM66 55h2v1h-2zM2 56h5v1h-5zM20 56h1v1h-1zM25 56h4v1h-4zM35 56h1v1h-1zM64 56h2v1h-2zM67 56h1v1h-1zM-1 57h2v1h-2zM2 57h5v1h-5zM10 57h3v1h-3zM14 57h2v1h-2zM20 57h1v1h-1zM26 57h1v1h-1zM30 57h1v1h-1zM65 57h2v1h-2zM18 58h1v1h-1zM26 58h1v1h-1zM37 58h1v1h-1zM76 58h1v1h-1zM2 59h3v1h-3zM10 59h6v1h-6zM22 59h5v1h-5zM30 59h3v1h-3zM16 60h1v1h-1zM25 60h1v1h-1zM34 60h1v1h-1zM44 60h1v1h-1zM62 60h2v1h-2zM68 60h4v1h-4zM12 61h2v1h-2zM16 61h2v1h-2zM21 61h1v1h-1zM33 61h1v1h-1zM38 61h2v1h-2zM44 61h3v1h-3zM48 61h1v1h-1zM58 61h1v1h-1zM18 62h1v1h-1zM26 62h1v1h-1zM60 62h4v1h-4zM18 63h2v1h-2zM34 63h1v1h-1zM58 63h1v1h-1zM-1 64h4v1h-4zM5 64h1v1h-1zM20 64h1v1h-1zM22 64h1v1h-1zM26 64h3v1h-3zM58 64h2v1h-2zM-1 65h4v1h-4zM5 65h1v1h-1zM9 65h1v1h-1zM20 65h1v1h-1zM22 65h1v1h-1zM26 65h3v1h-3zM59 65h1v1h-1zM64 65h1v1h-1zM7 66h1v1h-1zM18 66h1v1h-1zM20 66h1v1h-1zM25 66h1v1h-1zM58 66h1v1h-1zM-1 67h3v1h-3zM18 67h1v1h-1zM20 67h1v1h-1zM22 67h1v1h-1zM58 67h1v1h-1zM-1 68h8v1h-8zM20 68h1v1h-1zM22 68h1v1h-1zM-1 69h8v1h-8zM20 69h1v1h-1zM22 69h1v1h-1zM-1 70h3v1h-3zM3 70h2v1h-2zM6 70h3v1h-3zM14 70h1v1h-1zM29 70h1v1h-1zM33 70h1v1h-1zM9 71h1v1h-1zM34 71h1v1h-1zM36 71h1v1h-1zM39 71h1v1h-1zM9 72h1v1h-1zM13 72h1v1h-1zM9 73h3v1h-3zM22 73h2v1h-2zM29 73h1v1h-1zM10 74h2v1h-2zM14 74h2v1h-2zM22 74h3v1h-3zM29 74h1v1h-1zM9 75h3v1h-3zM20 75h1v1h-1zM22 75h3v1h-3zM33 75h1v1h-1zM9 76h3v1h-3zM20 76h1v1h-1zM22 76h3v1h-3zM33 76h1v1h-1zM10 77h2v1h-2zM14 77h2v1h-2zM20 77h1v1h-1zM22 77h3v1h-3zM33 77h1v1h-1zM9 78h4v1h-4zM14 78h2v1h-2zM24 78h1v1h-1zM9 79h4v1h-4zM14 79h2v1h-2zM22 79h1v1h-1zM24 79h1v1h-1zM9 80h4v1h-4zM14 80h2v1h-2zM22 80h1v1h-1zM24 80h1v1h-1z"/><path fill="#fbc81e" stroke="#fbc81e" stroke-width="0.04" d="M58 -1h1v1h-1zM58 0h1v1h-1zM44 1h1v1h-1zM58 1h1v1h-1zM32 2h1v1h-1zM37 3h1v1h-1zM44 3h2v1h-2zM58 3h1v1h-1zM64 3h1v1h-1zM42 4h1v1h-1zM66 4h1v1h-1zM27 5h1v1h-1zM42 5h1v1h-1zM46 5h1v1h-1zM58 5h1v1h-1zM42 6h1v1h-1zM44 6h1v1h-1zM26 7h1v1h-1zM42 7h1v1h-1zM46 7h1v1h-1zM32 8h1v1h-1zM42 8h1v1h-1zM25 9h1v1h-1zM32 9h1v1h-1zM46 9h1v1h-1zM26 10h1v1h-1zM46 10h2v1h-2zM31 11h2v1h-2zM44 11h1v1h-1zM46 11h2v1h-2zM36 12h2v1h-2zM46 12h2v1h-2zM60 12h1v1h-1zM63 12h1v1h-1zM23 13h1v1h-1zM25 13h1v1h-1zM30 13h1v1h-1zM43 13h1v1h-1zM49 13h2v1h-2zM53 13h3v1h-3zM61 13h1v1h-1zM63 13h1v1h-1zM75 13h1v1h-1zM50 14h1v1h-1zM53 14h3v1h-3zM58 14h1v1h-1zM62 14h1v1h-1zM51 15h1v1h-1zM53 15h1v1h-1zM55 15h1v1h-1zM60 15h1v1h-1zM76 15h1v1h-1zM66 16h2v1h-2zM65 17h1v1h-1zM19 18h1v1h-1zM25 18h1v1h-1zM43 18h1v1h-1zM46 18h1v1h-1zM66 18h1v1h-1zM19 19h1v1h-1zM25 19h1v1h-1zM43 19h1v1h-1zM45 19h2v1h-2zM64 19h1v1h-1zM67 19h1v1h-1zM17 20h1v1h-1zM54 20h4v1h-4zM52 21h2v1h-2zM56 21h1v1h-1zM65 21h1v1h-1zM74 21h1v1h-1zM76 21h1v1h-1zM78 21h3v1h-3zM40 22h1v1h-1zM59 22h1v1h-1zM37 23h1v1h-1zM40 23h1v1h-1zM58 23h2v1h-2zM39 24h2v1h-2zM59 24h1v1h-1zM64 24h3v1h-3zM39 25h2v1h-2zM59 25h1v1h-1zM65 25h2v1h-2zM58 26h1v1h-1zM64 26h3v1h-3zM35 27h1v1h-1zM37 27h2v1h-2zM41 27h1v1h-1zM58 27h1v1h-1zM40 28h2v1h-2zM64 28h1v1h-1zM39 29h2v1h-2zM65 29h2v1h-2zM35 30h1v1h-1zM40 30h1v1h-1zM66 30h1v1h-1zM34 32h1v1h-1zM67 32h3v1h-3zM60 33h2v1h-2zM67 33h4v1h-4zM72 33h1v1h-1zM74 33h1v1h-1zM36 34h1v1h-1zM60 34h1v1h-1zM76 34h1v1h-1zM68 35h1v1h-1zM73 35h1v1h-1zM76 35h1v1h-1zM78 35h1v1h-1zM60 36h2v1h-2zM66 36h1v1h-1zM33 37h1v1h-1zM71 37h5v1h-5zM18 38h1v1h-1zM35 38h1v1h-1zM51 38h2v1h-2zM37 39h1v1h-1zM49 39h3v1h-3zM54 39h4v1h-4zM50 40h1v1h-1zM54 40h2v1h-2zM52 41h1v1h-1zM40 42h1v1h-1zM52 42h1v1h-1zM56 42h1v1h-1zM67 42h1v1h-1zM76 42h1v1h-1zM24 43h1v1h-1zM45 43h1v1h-1zM67 43h1v1h-1zM41 44h1v1h-1zM49 44h1v1h-1zM52 44h1v1h-1zM18 45h1v1h-1zM47 45h1v1h-1zM42 46h1v1h-1zM24 47h1v1h-1zM28 47h1v1h-1zM68 47h1v1h-1zM70 47h2v1h-2zM77 47h1v1h-1zM68 48h1v1h-1zM23 49h1v1h-1zM66 49h1v1h-1zM22 50h1v1h-1zM9 51h1v1h-1zM32 51h1v1h-1zM74 52h1v1h-1zM69 53h1v1h-1zM72 53h1v1h-1zM10 54h2v1h-2zM60 54h2v1h-2zM66 54h1v1h-1zM70 54h1v1h-1zM32 55h1v1h-1zM36 55h1v1h-1zM30 56h1v1h-1zM66 56h1v1h-1zM29 57h1v1h-1zM1 59h1v1h-1zM5 59h3v1h-3zM10 60h1v1h-1zM13 60h1v1h-1zM18 60h1v1h-1zM60 60h2v1h-2zM19 61h1v1h-1zM34 61h1v1h-1zM41 61h1v1h-1zM59 62h1v1h-1zM11 63h2v1h-2zM7 64h1v1h-1zM7 65h1v1h-1zM19 66h1v1h-1zM7 67h1v1h-1zM16 67h1v1h-1zM16 68h1v1h-1zM25 68h1v1h-1zM19 69h1v1h-1zM25 69h1v1h-1zM2 70h1v1h-1zM28 70h1v1h-1zM12 72h1v1h-1zM14 72h2v1h-2zM20 72h1v1h-1zM20 73h1v1h-1zM20 74h1v1h-1zM9 77h1v1h-1zM20 78h1v1h-1z"/><path fill="#f68c1f" stroke="#f68c1f" stroke-width="0.04" d="M42 -1h1v1h-1zM44 -1h2v1h-2zM59 -1h2v1h-2zM64 -1h3v1h-3zM42 0h1v1h-1zM44 0h2v1h-2zM59 0h2v1h-2zM64 0h3v1h-3zM42 1h1v1h-1zM45 1h2v1h-2zM59 1h2v1h-2zM64 1h3v1h-3zM42 2h1v1h-1zM44 2h3v1h-3zM58 2h3v1h-3zM42 3h1v1h-1zM47 3h1v1h-1zM59 3h3v1h-3zM65 3h2v1h-2zM46 4h1v1h-1zM58 4h2v1h-2zM64 4h2v1h-2zM67 4h3v1h-3zM28 5h1v1h-1zM44 5h2v1h-2zM48 5h1v1h-1zM59 5h1v1h-1zM65 5h4v1h-4zM32 6h1v1h-1zM46 6h3v1h-3zM58 6h1v1h-1zM60 6h1v1h-1zM64 6h1v1h-1zM28 7h1v1h-1zM32 7h1v1h-1zM47 7h2v1h-2zM58 7h1v1h-1zM60 7h1v1h-1zM44 8h3v1h-3zM64 8h1v1h-1zM43 9h2v1h-2zM47 9h3v1h-3zM51 9h1v1h-1zM32 10h1v1h-1zM43 10h1v1h-1zM48 10h2v1h-2zM53 10h1v1h-1zM64 10h1v1h-1zM75 10h1v1h-1zM43 11h1v1h-1zM48 11h2v1h-2zM53 11h1v1h-1zM58 11h1v1h-1zM62 11h2v1h-2zM74 11h2v1h-2zM31 12h1v1h-1zM42 12h1v1h-1zM48 12h1v1h-1zM53 12h2v1h-2zM57 12h1v1h-1zM61 12h1v1h-1zM74 12h2v1h-2zM51 13h2v1h-2zM56 13h2v1h-2zM59 13h1v1h-1zM64 13h1v1h-1zM74 13h1v1h-1zM76 13h1v1h-1zM78 13h3v1h-3zM26 14h1v1h-1zM31 14h1v1h-1zM51 14h2v1h-2zM56 14h2v1h-2zM60 14h1v1h-1zM63 14h1v1h-1zM74 14h3v1h-3zM78 14h3v1h-3zM32 15h1v1h-1zM49 15h2v1h-2zM52 15h1v1h-1zM54 15h1v1h-1zM56 15h2v1h-2zM61 15h1v1h-1zM63 15h1v1h-1zM66 15h1v1h-1zM69 15h1v1h-1zM71 15h1v1h-1zM73 15h1v1h-1zM75 15h1v1h-1zM78 15h3v1h-3zM43 16h1v1h-1zM64 16h2v1h-2zM68 16h1v1h-1zM38 17h1v1h-1zM43 17h1v1h-1zM45 17h1v1h-1zM68 17h1v1h-1zM47 18h3v1h-3zM51 18h2v1h-2zM64 18h1v1h-1zM67 18h1v1h-1zM76 18h1v1h-1zM47 19h3v1h-3zM51 19h3v1h-3zM65 19h1v1h-1zM72 19h2v1h-2zM76 19h5v1h-5zM25 20h2v1h-2zM66 20h1v1h-1zM74 20h7v1h-7zM17 21h1v1h-1zM25 21h1v1h-1zM44 21h1v1h-1zM54 21h2v1h-2zM57 21h1v1h-1zM68 21h1v1h-1zM72 21h2v1h-2zM75 21h1v1h-1zM77 21h1v1h-1zM38 22h1v1h-1zM41 22h1v1h-1zM44 22h1v1h-1zM58 22h1v1h-1zM64 22h4v1h-4zM38 23h1v1h-1zM41 23h1v1h-1zM44 23h1v1h-1zM64 23h3v1h-3zM38 24h1v1h-1zM41 24h1v1h-1zM58 24h1v1h-1zM38 25h1v1h-1zM41 25h1v1h-1zM58 25h1v1h-1zM64 25h1v1h-1zM67 25h1v1h-1zM38 26h4v1h-4zM60 26h1v1h-1zM67 26h3v1h-3zM44 27h1v1h-1zM60 27h2v1h-2zM64 27h3v1h-3zM35 28h1v1h-1zM37 28h1v1h-1zM44 28h2v1h-2zM60 28h2v1h-2zM65 28h2v1h-2zM70 28h1v1h-1zM38 29h1v1h-1zM41 29h1v1h-1zM64 29h1v1h-1zM38 30h2v1h-2zM41 30h1v1h-1zM44 30h1v1h-1zM60 30h2v1h-2zM64 30h1v1h-1zM68 30h3v1h-3zM39 31h1v1h-1zM60 31h2v1h-2zM67 31h4v1h-4zM72 31h3v1h-3zM60 32h2v1h-2zM70 32h1v1h-1zM72 32h2v1h-2zM76 32h1v1h-1zM37 33h1v1h-1zM39 33h1v1h-1zM71 33h1v1h-1zM73 33h1v1h-1zM75 33h1v1h-1zM77 33h2v1h-2zM33 34h1v1h-1zM38 34h1v1h-1zM51 34h1v1h-1zM62 34h1v1h-1zM71 34h1v1h-1zM74 34h1v1h-1zM77 34h4v1h-4zM41 35h1v1h-1zM43 35h1v1h-1zM49 35h1v1h-1zM51 35h2v1h-2zM56 35h3v1h-3zM70 35h2v1h-2zM74 35h1v1h-1zM77 35h1v1h-1zM79 35h2v1h-2zM36 36h5v1h-5zM44 36h1v1h-1zM62 36h2v1h-2zM68 36h3v1h-3zM38 37h3v1h-3zM67 37h1v1h-1zM76 37h5v1h-5zM34 38h1v1h-1zM44 38h1v1h-1zM49 38h2v1h-2zM53 38h5v1h-5zM18 39h1v1h-1zM33 39h2v1h-2zM42 39h2v1h-2zM53 39h1v1h-1zM38 40h1v1h-1zM42 40h2v1h-2zM46 40h1v1h-1zM48 40h2v1h-2zM53 40h1v1h-1zM39 41h1v1h-1zM42 41h2v1h-2zM45 41h1v1h-1zM49 41h2v1h-2zM53 41h5v1h-5zM62 41h1v1h-1zM35 42h1v1h-1zM43 42h1v1h-1zM46 42h1v1h-1zM51 42h1v1h-1zM33 43h1v1h-1zM35 43h1v1h-1zM43 43h1v1h-1zM29 44h2v1h-2zM36 44h2v1h-2zM51 44h1v1h-1zM40 45h2v1h-2zM8 46h1v1h-1zM36 46h1v1h-1zM40 46h1v1h-1zM45 46h1v1h-1zM22 47h1v1h-1zM26 47h1v1h-1zM64 47h1v1h-1zM69 47h1v1h-1zM72 47h2v1h-2zM25 48h1v1h-1zM29 48h2v1h-2zM65 48h1v1h-1zM67 48h1v1h-1zM21 49h1v1h-1zM26 49h1v1h-1zM29 49h1v1h-1zM31 49h1v1h-1zM35 49h1v1h-1zM24 50h1v1h-1zM30 50h2v1h-2zM35 50h1v1h-1zM26 51h1v1h-1zM72 51h1v1h-1zM74 51h1v1h-1zM9 52h1v1h-1zM26 52h1v1h-1zM27 53h2v1h-2zM30 53h1v1h-1zM32 53h1v1h-1zM59 53h1v1h-1zM65 53h1v1h-1zM12 54h1v1h-1zM14 54h2v1h-2zM22 54h1v1h-1zM31 54h1v1h-1zM58 54h2v1h-2zM6 55h1v1h-1zM29 55h1v1h-1zM25 57h1v1h-1zM32 57h1v1h-1zM20 58h1v1h-1zM30 58h1v1h-1zM-1 59h2v1h-2zM21 59h1v1h-1zM11 60h2v1h-2zM17 60h1v1h-1zM40 61h1v1h-1zM14 62h2v1h-2zM19 62h1v1h-1zM58 62h1v1h-1zM10 63h1v1h-1zM10 64h4v1h-4zM17 64h1v1h-1zM25 64h1v1h-1zM10 65h4v1h-4zM17 65h1v1h-1zM25 65h1v1h-1zM14 66h2v1h-2zM14 67h2v1h-2zM19 67h1v1h-1zM25 67h1v1h-1zM7 68h1v1h-1zM14 68h2v1h-2zM19 68h1v1h-1zM7 69h1v1h-1zM14 69h3v1h-3zM5 70h1v1h-1zM27 70h1v1h-1zM6 71h1v1h-1zM33 71h1v1h-1zM10 72h2v1h-2zM8 73h1v1h-1zM24 73h1v1h-1zM9 74h1v1h-1zM20 79h1v1h-1zM20 80h1v1h-1z"/><path fill="#ef5428" stroke="#ef5428" stroke-width="0.04" d="M43 -1h1v1h-1zM46 -1h3v1h-3zM61 -1h3v1h-3zM67 -1h4v1h-4zM43 0h1v1h-1zM46 0h3v1h-3zM61 0h3v1h-3zM67 0h4v1h-4zM43 1h1v1h-1zM47 1h2v1h-2zM61 1h3v1h-3zM67 1h4v1h-4zM43 2h1v1h-1zM47 2h2v1h-2zM53 2h1v1h-1zM61 2h9v1h-9zM43 3h1v1h-1zM46 3h1v1h-1zM48 3h2v1h-2zM53 3h2v1h-2zM62 3h2v1h-2zM67 3h2v1h-2zM70 3h1v1h-1zM74 3h2v1h-2zM43 4h3v1h-3zM48 4h2v1h-2zM51 4h2v1h-2zM55 4h3v1h-3zM61 4h1v1h-1zM76 4h1v1h-1zM43 5h1v1h-1zM47 5h1v1h-1zM51 5h2v1h-2zM54 5h4v1h-4zM60 5h5v1h-5zM69 5h1v1h-1zM71 5h1v1h-1zM76 5h1v1h-1zM43 6h1v1h-1zM49 6h3v1h-3zM53 6h3v1h-3zM59 6h1v1h-1zM61 6h3v1h-3zM65 6h4v1h-4zM43 7h1v1h-1zM49 7h3v1h-3zM53 7h4v1h-4zM59 7h1v1h-1zM61 7h8v1h-8zM43 8h1v1h-1zM47 8h2v1h-2zM58 8h2v1h-2zM65 8h3v1h-3zM74 8h1v1h-1zM50 9h1v1h-1zM52 9h7v1h-7zM60 9h1v1h-1zM62 9h1v1h-1zM64 9h1v1h-1zM66 9h2v1h-2zM76 9h1v1h-1zM78 9h3v1h-3zM50 10h3v1h-3zM54 10h2v1h-2zM57 10h7v1h-7zM65 10h3v1h-3zM74 10h1v1h-1zM77 10h4v1h-4zM50 11h2v1h-2zM54 11h4v1h-4zM59 11h3v1h-3zM65 11h1v1h-1zM72 11h2v1h-2zM76 11h5v1h-5zM32 12h1v1h-1zM43 12h1v1h-1zM49 12h3v1h-3zM55 12h2v1h-2zM65 12h1v1h-1zM69 12h5v1h-5zM76 12h5v1h-5zM31 13h2v1h-2zM69 13h5v1h-5zM77 13h1v1h-1zM25 14h1v1h-1zM32 14h1v1h-1zM59 14h1v1h-1zM61 14h1v1h-1zM64 14h1v1h-1zM67 14h3v1h-3zM71 14h3v1h-3zM77 14h1v1h-1zM26 15h3v1h-3zM59 15h1v1h-1zM62 15h1v1h-1zM65 15h1v1h-1zM70 15h1v1h-1zM72 15h1v1h-1zM74 15h1v1h-1zM77 15h1v1h-1zM44 16h5v1h-5zM50 16h1v1h-1zM52 16h2v1h-2zM56 16h4v1h-4zM69 16h1v1h-1zM72 16h3v1h-3zM76 16h5v1h-5zM44 17h1v1h-1zM46 17h4v1h-4zM51 17h3v1h-3zM57 17h1v1h-1zM59 17h1v1h-1zM64 17h1v1h-1zM69 17h2v1h-2zM72 17h3v1h-3zM76 17h5v1h-5zM44 18h1v1h-1zM50 18h1v1h-1zM53 18h5v1h-5zM59 18h1v1h-1zM65 18h1v1h-1zM68 18h2v1h-2zM72 18h4v1h-4zM77 18h4v1h-4zM50 19h1v1h-1zM54 19h4v1h-4zM59 19h1v1h-1zM68 19h3v1h-3zM74 19h1v1h-1zM58 20h1v1h-1zM60 20h6v1h-6zM68 20h2v1h-2zM71 20h3v1h-3zM19 21h1v1h-1zM59 21h1v1h-1zM63 21h1v1h-1zM69 21h3v1h-3zM42 22h1v1h-1zM45 22h1v1h-1zM60 22h4v1h-4zM68 22h3v1h-3zM74 22h2v1h-2zM42 23h1v1h-1zM45 23h1v1h-1zM60 23h2v1h-2zM63 23h1v1h-1zM67 23h2v1h-2zM70 23h1v1h-1zM72 23h1v1h-1zM74 23h2v1h-2zM42 24h1v1h-1zM44 24h2v1h-2zM60 24h2v1h-2zM67 24h4v1h-4zM72 24h4v1h-4zM42 25h1v1h-1zM44 25h1v1h-1zM60 25h2v1h-2zM68 25h3v1h-3zM72 25h3v1h-3zM76 25h1v1h-1zM42 26h1v1h-1zM44 26h1v1h-1zM61 26h3v1h-3zM70 26h1v1h-1zM72 26h2v1h-2zM76 26h2v1h-2zM42 27h1v1h-1zM45 27h2v1h-2zM62 27h2v1h-2zM69 27h2v1h-2zM74 27h2v1h-2zM42 28h1v1h-1zM46 28h1v1h-1zM62 28h1v1h-1zM67 28h3v1h-3zM72 28h4v1h-4zM42 29h1v1h-1zM44 29h2v1h-2zM60 29h2v1h-2zM63 29h1v1h-1zM67 29h4v1h-4zM72 29h2v1h-2zM45 30h2v1h-2zM62 30h1v1h-1zM67 30h1v1h-1zM72 30h2v1h-2zM75 30h2v1h-2zM38 31h1v1h-1zM40 31h3v1h-3zM44 31h1v1h-1zM62 31h2v1h-2zM71 31h1v1h-1zM75 31h6v1h-6zM38 32h5v1h-5zM44 32h1v1h-1zM46 32h1v1h-1zM62 32h2v1h-2zM71 32h1v1h-1zM74 32h1v1h-1zM77 32h4v1h-4zM38 33h1v1h-1zM41 33h1v1h-1zM44 33h2v1h-2zM47 33h1v1h-1zM49 33h1v1h-1zM51 33h2v1h-2zM62 33h2v1h-2zM76 33h1v1h-1zM79 33h2v1h-2zM34 34h1v1h-1zM40 34h1v1h-1zM42 34h1v1h-1zM46 34h1v1h-1zM49 34h2v1h-2zM52 34h1v1h-1zM55 34h3v1h-3zM63 34h1v1h-1zM75 34h1v1h-1zM34 35h1v1h-1zM39 35h1v1h-1zM46 35h3v1h-3zM50 35h1v1h-1zM53 35h3v1h-3zM61 35h3v1h-3zM75 35h1v1h-1zM35 36h1v1h-1zM41 36h1v1h-1zM67 36h1v1h-1zM71 36h10v1h-10zM36 37h2v1h-2zM41 37h1v1h-1zM45 37h1v1h-1zM47 37h2v1h-2zM50 37h8v1h-8zM33 38h1v1h-1zM38 38h1v1h-1zM42 38h2v1h-2zM46 38h3v1h-3zM38 39h2v1h-2zM45 39h1v1h-1zM47 39h2v1h-2zM33 40h1v1h-1zM40 40h1v1h-1zM44 40h1v1h-1zM47 40h1v1h-1zM40 41h2v1h-2zM46 41h3v1h-3zM42 42h1v1h-1zM42 43h1v1h-1zM43 44h1v1h-1zM33 45h1v1h-1zM44 45h2v1h-2zM34 46h1v1h-1zM39 46h1v1h-1zM41 46h1v1h-1zM23 47h1v1h-1zM29 47h2v1h-2zM65 47h3v1h-3zM24 48h1v1h-1zM66 48h1v1h-1zM32 49h1v1h-1zM23 50h1v1h-1zM32 50h1v1h-1zM64 51h1v1h-1zM64 52h1v1h-1zM64 53h1v1h-1zM17 54h1v1h-1zM65 54h1v1h-1zM22 55h2v1h-2zM31 55h1v1h-1zM24 56h1v1h-1zM29 56h1v1h-1zM32 56h1v1h-1zM24 57h1v1h-1zM58 60h1v1h-1zM10 62h4v1h-4zM16 62h1v1h-1zM25 62h1v1h-1zM13 63h3v1h-3zM17 63h1v1h-1zM16 64h1v1h-1zM16 65h1v1h-1zM11 66h2v1h-2zM16 66h2v1h-2zM13 67h1v1h-1zM17 67h1v1h-1zM13 68h1v1h-1zM17 68h1v1h-1zM17 69h1v1h-1zM-1 71h7v1h-7zM7 71h1v1h-1zM6 72h1v1h-1zM8 72h1v1h-1zM5 73h1v1h-1zM7 73h1v1h-1zM6 74h1v1h-1zM8 74h1v1h-1zM8 75h1v1h-1zM8 76h1v1h-1zM8 77h1v1h-1zM8 78h1v1h-1zM8 79h1v1h-1zM8 80h1v1h-1z"/><path fill="#eb2a30" stroke="#eb2a30" stroke-width="0.04" d="M49 -1h9v1h-9zM71 -1h10v1h-10zM49 0h9v1h-9zM71 0h10v1h-10zM49 1h9v1h-9zM71 1h10v1h-10zM49 2h4v1h-4zM54 2h4v1h-4zM70 2h11v1h-11zM50 3h3v1h-3zM55 3h3v1h-3zM69 3h1v1h-1zM71 3h3v1h-3zM76 3h5v1h-5zM47 4h1v1h-1zM50 4h1v1h-1zM53 4h2v1h-2zM60 4h1v1h-1zM62 4h2v1h-2zM70 4h6v1h-6zM77 4h4v1h-4zM49 5h2v1h-2zM53 5h1v1h-1zM70 5h1v1h-1zM72 5h4v1h-4zM77 5h4v1h-4zM52 6h1v1h-1zM56 6h2v1h-2zM69 6h12v1h-12zM52 7h1v1h-1zM57 7h1v1h-1zM69 7h12v1h-12zM49 8h9v1h-9zM60 8h4v1h-4zM68 8h6v1h-6zM75 8h6v1h-6zM59 9h1v1h-1zM61 9h1v1h-1zM63 9h1v1h-1zM65 9h1v1h-1zM68 9h8v1h-8zM77 9h1v1h-1zM56 10h1v1h-1zM68 10h6v1h-6zM76 10h1v1h-1zM52 11h1v1h-1zM66 11h6v1h-6zM52 12h1v1h-1zM66 12h3v1h-3zM65 13h4v1h-4zM65 14h2v1h-2zM70 14h1v1h-1zM64 15h1v1h-1zM49 16h1v1h-1zM51 16h1v1h-1zM54 16h2v1h-2zM60 16h4v1h-4zM70 16h2v1h-2zM75 16h1v1h-1zM50 17h1v1h-1zM54 17h3v1h-3zM58 17h1v1h-1zM60 17h4v1h-4zM71 17h1v1h-1zM75 17h1v1h-1zM58 18h1v1h-1zM60 18h4v1h-4zM70 18h2v1h-2zM44 19h1v1h-1zM58 19h1v1h-1zM60 19h4v1h-4zM71 19h1v1h-1zM75 19h1v1h-1zM59 20h1v1h-1zM70 20h1v1h-1zM58 21h1v1h-1zM60 21h3v1h-3zM43 22h1v1h-1zM46 22h12v1h-12zM71 22h3v1h-3zM76 22h5v1h-5zM43 23h1v1h-1zM46 23h12v1h-12zM62 23h1v1h-1zM69 23h1v1h-1zM71 23h1v1h-1zM73 23h1v1h-1zM76 23h5v1h-5zM43 24h1v1h-1zM46 24h12v1h-12zM62 24h2v1h-2zM71 24h1v1h-1zM76 24h5v1h-5zM43 25h1v1h-1zM45 25h13v1h-13zM62 25h2v1h-2zM71 25h1v1h-1zM75 25h1v1h-1zM77 25h4v1h-4zM43 26h1v1h-1zM45 26h13v1h-13zM71 26h1v1h-1zM74 26h2v1h-2zM78 26h3v1h-3zM43 27h1v1h-1zM47 27h11v1h-11zM67 27h2v1h-2zM71 27h3v1h-3zM76 27h5v1h-5zM43 28h1v1h-1zM47 28h11v1h-11zM63 28h1v1h-1zM71 28h1v1h-1zM76 28h5v1h-5zM43 29h1v1h-1zM46 29h12v1h-12zM62 29h1v1h-1zM71 29h1v1h-1zM74 29h7v1h-7zM42 30h2v1h-2zM47 30h11v1h-11zM63 30h1v1h-1zM71 30h1v1h-1zM74 30h1v1h-1zM77 30h4v1h-4zM43 31h1v1h-1zM45 31h13v1h-13zM43 32h1v1h-1zM45 32h1v1h-1zM47 32h11v1h-11zM75 32h1v1h-1zM40 33h1v1h-1zM42 33h2v1h-2zM46 33h1v1h-1zM48 33h1v1h-1zM50 33h1v1h-1zM53 33h5v1h-5zM39 34h1v1h-1zM41 34h1v1h-1zM43 34h3v1h-3zM47 34h2v1h-2zM53 34h2v1h-2zM44 35h2v1h-2zM60 35h1v1h-1zM42 36h2v1h-2zM45 36h13v1h-13zM35 37h1v1h-1zM42 37h2v1h-2zM46 37h1v1h-1zM49 37h1v1h-1zM39 38h3v1h-3zM45 38h1v1h-1zM40 39h2v1h-2zM46 39h1v1h-1zM34 40h1v1h-1zM39 40h1v1h-1zM41 40h1v1h-1zM45 40h1v1h-1zM38 41h1v1h-1zM36 42h2v1h-2zM36 43h2v1h-2zM35 44h1v1h-1zM42 44h1v1h-1zM34 45h1v1h-1zM39 45h1v1h-1zM33 46h1v1h-1zM31 47h2v1h-2zM22 48h2v1h-2zM31 48h2v1h-2zM30 49h1v1h-1zM29 50h1v1h-1zM27 51h2v1h-2zM27 52h2v1h-2zM26 53h1v1h-1zM25 54h1v1h-1zM24 55h1v1h-1zM22 56h2v1h-2zM31 56h1v1h-1zM22 57h2v1h-2zM31 57h1v1h-1zM21 58h1v1h-1zM20 59h1v1h-1zM19 60h1v1h-1zM18 61h1v1h-1zM17 62h1v1h-1zM16 63h1v1h-1zM14 64h2v1h-2zM14 65h2v1h-2zM10 66h1v1h-1zM13 66h1v1h-1zM10 67h3v1h-3zM10 68h3v1h-3zM10 69h4v1h-4zM9 70h1v1h-1zM8 71h1v1h-1zM-1 72h7v1h-7zM7 72h1v1h-1zM-1 73h6v1h-6zM6 73h1v1h-1zM-1 74h7v1h-7zM7 74h1v1h-1zM-1 75h9v1h-9zM-1 76h9v1h-9zM-1 77h9v1h-9zM-1 78h9v1h-9zM-1 79h9v1h-9zM-1 80h9v1h-9z"/></g></g></g><rect x="621.70" y="182.30" width="4.40" height="4.27" fill="#fff" stroke="#1a1a1a" stroke-width="0.4"/><rect x="621.70" y="186.57" width="4.40" height="4.27" fill="#fff" stroke="#1a1a1a" stroke-width="0.4"/><rect x="621.70" y="190.84" width="4.40" height="4.27" fill="#fff" stroke="#1a1a1a" stroke-width="0.4"/><rect x="621.70" y="195.11" width="4.40" height="4.27" fill="#fff" stroke="#1a1a1a" stroke-width="0.4"/><rect x="621.70" y="199.38" width="4.40" height="4.27" fill="#fff" stroke="#1a1a1a" stroke-width="0.4"/><rect x="621.70" y="203.64" width="4.40" height="4.27" fill="#fff" stroke="#1a1a1a" stroke-width="0.4"/><rect x="621.70" y="207.91" width="4.40" height="4.27" fill="#fff" stroke="#1a1a1a" stroke-width="0.4"/><rect x="621.70" y="212.18" width="4.40" height="4.27" fill="#fff" stroke="#1a1a1a" stroke-width="0.4"/><rect x="621.70" y="216.45" width="4.40" height="4.27" fill="#fff" stroke="#1a1a1a" stroke-width="0.4"/><rect x="621.70" y="220.72" width="4.40" height="4.27" fill="#fff" stroke="#1a1a1a" stroke-width="0.4"/><rect x="621.70" y="224.99" width="4.40" height="4.27" fill="#fff" stroke="#1a1a1a" stroke-width="0.4"/><rect x="621.70" y="229.26" width="4.40" height="4.27" fill="#1a1a1a" stroke="#1a1a1a" stroke-width="0.4"/><rect x="621.70" y="233.53" width="4.40" height="4.27" fill="#fff" stroke="#1a1a1a" stroke-width="0.4"/><rect x="621.70" y="237.79" width="4.40" height="4.27" fill="#fff" stroke="#1a1a1a" stroke-width="0.4"/><rect x="621.70" y="242.06" width="4.40" height="4.27" fill="#fff" stroke="#1a1a1a" stroke-width="0.4"/><rect x="621.70" y="246.33" width="4.40" height="4.27" fill="#fff" stroke="#1a1a1a" stroke-width="0.4"/><rect x="621.70" y="250.60" width="4.40" height="4.27" fill="#fff" stroke="#1a1a1a" stroke-width="0.4"/><rect x="621.70" y="254.87" width="4.40" height="4.27" fill="#fff" stroke="#1a1a1a" stroke-width="0.4"/><rect x="621.70" y="259.14" width="4.40" height="4.27" fill="#fff" stroke="#1a1a1a" stroke-width="0.4"/><rect x="621.70" y="263.41" width="4.40" height="4.27" fill="#fff" stroke="#1a1a1a" stroke-width="0.4"/><rect x="621.70" y="267.67" width="4.40" height="4.27" fill="#fff" stroke="#1a1a1a" stroke-width="0.4"/><rect x="621.70" y="271.94" width="4.40" height="4.27" fill="#fff" stroke="#1a1a1a" stroke-width="0.4"/><rect x="621.70" y="276.21" width="4.40" height="4.27" fill="#fff" stroke="#1a1a1a" stroke-width="0.4"/><rect x="621.70" y="280.48" width="4.40" height="4.27" fill="#fff" stroke="#1a1a1a" stroke-width="0.4"/><rect x="621.70" y="284.75" width="4.40" height="4.27" fill="#fff" stroke="#1a1a1a" stroke-width="0.4"/><rect x="621.70" y="289.02" width="4.40" height="4.27" fill="#fff" stroke="#1a1a1a" stroke-width="0.4"/><rect x="621.70" y="293.29" width="4.40" height="4.27" fill="#fff" stroke="#1a1a1a" stroke-width="0.4"/><rect x="621.70" y="297.56" width="4.40" height="4.27" fill="#fff" stroke="#1a1a1a" stroke-width="0.4"/><rect x="621.70" y="301.82" width="4.40" height="4.27" fill="#1a1a1a" stroke="#1a1a1a" stroke-width="0.4"/><rect x="621.70" y="306.09" width="4.40" height="4.27" fill="#fff" stroke="#1a1a1a" stroke-width="0.4"/><rect x="621.70" y="310.36" width="4.40" height="4.27" fill="#fff" stroke="#1a1a1a" stroke-width="0.4"/><rect x="621.70" y="314.63" width="4.40" height="4.27" fill="#fff" stroke="#1a1a1a" stroke-width="0.4"/><rect x="621.70" y="318.90" width="4.40" height="4.27" fill="#fff" stroke="#1a1a1a" stroke-width="0.4"/><rect x="621.70" y="323.17" width="4.40" height="4.27" fill="#fff" stroke="#1a1a1a" stroke-width="0.4"/><rect x="621.70" y="327.44" width="4.40" height="4.27" fill="#1a1a1a" stroke="#1a1a1a" stroke-width="0.4"/><rect x="621.70" y="331.71" width="4.40" height="4.27" fill="#fff" stroke="#1a1a1a" stroke-width="0.4"/><rect x="621.70" y="335.97" width="4.40" height="4.27" fill="#fff" stroke="#1a1a1a" stroke-width="0.4"/><rect x="621.70" y="340.24" width="4.40" height="4.27" fill="#fff" stroke="#1a1a1a" stroke-width="0.4"/><rect x="621.70" y="344.51" width="4.40" height="4.27" fill="#fff" stroke="#1a1a1a" stroke-width="0.4"/><rect x="621.70" y="348.78" width="4.40" height="4.27" fill="#1a1a1a" stroke="#1a1a1a" stroke-width="0.4"/><rect x="621.70" y="353.05" width="4.40" height="4.27" fill="#1a1a1a" stroke="#1a1a1a" stroke-width="0.4"/><rect x="621.70" y="357.32" width="4.40" height="4.27" fill="#1a1a1a" stroke="#1a1a1a" stroke-width="0.4"/><rect x="621.70" y="361.59" width="4.40" height="4.27" fill="#fff" stroke="#1a1a1a" stroke-width="0.4"/><rect x="621.70" y="365.86" width="4.40" height="4.27" fill="#1a1a1a" stroke="#1a1a1a" stroke-width="0.4"/><rect x="621.70" y="370.12" width="4.40" height="4.27" fill="#1a1a1a" stroke="#1a1a1a" stroke-width="0.4"/><rect x="621.70" y="374.39" width="4.40" height="4.27" fill="#1a1a1a" stroke="#1a1a1a" stroke-width="0.4"/><rect x="621.70" y="378.66" width="4.40" height="4.27" fill="#1a1a1a" stroke="#1a1a1a" stroke-width="0.4"/><rect x="621.70" y="382.93" width="4.40" height="4.27" fill="#1a1a1a" stroke="#1a1a1a" stroke-width="0.4"/><rect x="621.70" y="387.20" width="4.40" height="4.27" fill="#fff" stroke="#1a1a1a" stroke-width="0.4"/><rect x="621.70" y="391.47" width="4.40" height="4.27" fill="#1a1a1a" stroke="#1a1a1a" stroke-width="0.4"/><rect x="621.70" y="395.74" width="4.40" height="4.27" fill="#1a1a1a" stroke="#1a1a1a" stroke-width="0.4"/><rect x="621.70" y="400.01" width="4.40" height="4.27" fill="#1a1a1a" stroke="#1a1a1a" stroke-width="0.4"/><rect x="621.70" y="404.27" width="4.40" height="4.27" fill="#fff" stroke="#1a1a1a" stroke-width="0.4"/><rect x="621.70" y="408.54" width="4.40" height="4.27" fill="#1a1a1a" stroke="#1a1a1a" stroke-width="0.4"/><rect x="621.70" y="412.81" width="4.40" height="4.27" fill="#fff" stroke="#1a1a1a" stroke-width="0.4"/><rect x="621.70" y="417.08" width="4.40" height="4.27" fill="#1a1a1a" stroke="#1a1a1a" stroke-width="0.4"/><rect x="621.70" y="421.35" width="4.40" height="4.27" fill="#1a1a1a" stroke="#1a1a1a" stroke-width="0.4"/><rect x="621.70" y="425.62" width="4.40" height="4.27" fill="#1a1a1a" stroke="#1a1a1a" stroke-width="0.4"/><rect x="621.70" y="429.89" width="4.40" height="4.27" fill="#1a1a1a" stroke="#1a1a1a" stroke-width="0.4"/><rect x="621.70" y="434.16" width="4.40" height="4.27" fill="#1a1a1a" stroke="#1a1a1a" stroke-width="0.4"/><rect x="621.70" y="438.42" width="4.40" height="4.27" fill="#1a1a1a" stroke="#1a1a1a" stroke-width="0.4"/><rect x="621.70" y="442.69" width="4.40" height="4.27" fill="#1a1a1a" stroke="#1a1a1a" stroke-width="0.4"/><rect x="621.70" y="446.96" width="4.40" height="4.27" fill="#fff" stroke="#1a1a1a" stroke-width="0.4"/><rect x="621.70" y="451.23" width="4.40" height="4.27" fill="#1a1a1a" stroke="#1a1a1a" stroke-width="0.4"/><rect x="621.70" y="455.50" width="4.40" height="4.27" fill="#1a1a1a" stroke="#1a1a1a" stroke-width="0.4"/><rect x="621.70" y="459.77" width="4.40" height="4.27" fill="#1a1a1a" stroke="#1a1a1a" stroke-width="0.4"/><rect x="621.70" y="464.04" width="4.40" height="4.27" fill="#fff" stroke="#1a1a1a" stroke-width="0.4"/><rect x="621.70" y="468.31" width="4.40" height="4.27" fill="#1a1a1a" stroke="#1a1a1a" stroke-width="0.4"/><rect x="621.70" y="472.57" width="4.40" height="4.27" fill="#1a1a1a" stroke="#1a1a1a" stroke-width="0.4"/><rect x="621.70" y="476.84" width="4.40" height="4.27" fill="#fff" stroke="#1a1a1a" stroke-width="0.4"/><rect x="621.70" y="481.11" width="4.40" height="4.27" fill="#1a1a1a" stroke="#1a1a1a" stroke-width="0.4"/><rect x="621.70" y="485.38" width="4.40" height="4.27" fill="#1a1a1a" stroke="#1a1a1a" stroke-width="0.4"/><rect x="621.70" y="489.65" width="4.40" height="4.27" fill="#1a1a1a" stroke="#1a1a1a" stroke-width="0.4"/><rect x="621.70" y="493.92" width="4.40" height="4.27" fill="#fff" stroke="#1a1a1a" stroke-width="0.4"/><rect x="621.70" y="498.19" width="4.40" height="4.27" fill="#fff" stroke="#1a1a1a" stroke-width="0.4"/><rect x="621.70" y="502.46" width="4.40" height="4.27" fill="#1a1a1a" stroke="#1a1a1a" stroke-width="0.4"/><rect x="621.70" y="506.72" width="4.40" height="4.27" fill="#1a1a1a" stroke="#1a1a1a" stroke-width="0.4"/><rect x="621.70" y="510.99" width="4.40" height="4.27" fill="#1a1a1a" stroke="#1a1a1a" stroke-width="0.4"/><rect x="621.70" y="515.26" width="4.40" height="4.27" fill="#1a1a1a" stroke="#1a1a1a" stroke-width="0.4"/><rect x="621.70" y="519.53" width="4.40" height="4.27" fill="#1a1a1a" stroke="#1a1a1a" stroke-width="0.4"/><text x="347.00" y="532.80" font-size="8.5" fill="#333" textLength="50.00" lengthAdjust="spacingAndGlyphs">Correlation</text><defs><linearGradient id="jet" x1="0" x2="1" y1="0" y2="0"><stop offset="0" stop-color="#2b3a8f"/><stop offset="0.15" stop-color="#1f5cb0"/><stop offset="0.3" stop-color="#2aace0"/><stop offset="0.45" stop-color="#dff0ee"/><stop offset="0.5" stop-color="#f7f7e0"/><stop offset="0.62" stop-color="#eee63a"/><stop offset="0.78" stop-color="#f7921e"/><stop offset="1" stop-color="#eb2a30"/></linearGradient></defs><rect x="352.60" y="536.30" width="38.90" height="5.60" fill="url(#jet)"/><text x="351.70" y="551.80" font-size="8" text-anchor="middle" fill="#333">−1</text><text x="371.80" y="551.80" font-size="8" text-anchor="middle" fill="#333">0</text><text x="391.50" y="551.80" font-size="8" text-anchor="middle" fill="#333">+1</text><text x="437.70" y="536.70" font-size="8.5" fill="#333" textLength="72.30" lengthAdjust="spacingAndGlyphs">Dkk2 (80 crypts)</text><text x="563.40" y="536.70" font-size="8.5" fill="#333" textLength="52.60" lengthAdjust="spacingAndGlyphs">Young crypt</text><rect x="619.90" y="529.60" width="7.60" height="7.60" fill="#fff" stroke="#333" stroke-width="0.6"/><text x="567.60" y="550.90" font-size="8.5" fill="#333" textLength="48.40" lengthAdjust="spacingAndGlyphs">Aged crypt</text><rect x="619.90" y="543.90" width="7.60" height="7.60" fill="#1a1a1a" stroke="#1a1a1a" stroke-width="0.6"/></g>
<g id="pe"><text x="209.30" y="577.20" font-size="15.5" fill="#000" font-weight="bold">e</text><text x="266.10" y="588.00" font-size="8.8" fill="#333" textLength="68.50" lengthAdjust="spacingAndGlyphs">Cluster 1 (Dkk2)</text><line x1="241.80" y1="650.40" x2="358.10" y2="650.40" stroke="#d9d9d9" stroke-width="0.7"/><text x="233.10" y="653.30" font-size="8" fill="#333" textLength="5.20" lengthAdjust="spacingAndGlyphs">0</text><line x1="241.80" y1="639.18" x2="358.10" y2="639.18" stroke="#d9d9d9" stroke-width="0.7"/><text x="228.10" y="642.08" font-size="8" fill="#333" textLength="10.20" lengthAdjust="spacingAndGlyphs">20</text><line x1="241.80" y1="627.96" x2="358.10" y2="627.96" stroke="#d9d9d9" stroke-width="0.7"/><text x="228.10" y="630.86" font-size="8" fill="#333" textLength="10.20" lengthAdjust="spacingAndGlyphs">40</text><line x1="241.80" y1="616.74" x2="358.10" y2="616.74" stroke="#d9d9d9" stroke-width="0.7"/><text x="228.10" y="619.64" font-size="8" fill="#333" textLength="10.20" lengthAdjust="spacingAndGlyphs">60</text><line x1="241.80" y1="605.52" x2="358.10" y2="605.52" stroke="#d9d9d9" stroke-width="0.7"/><text x="228.10" y="608.42" font-size="8" fill="#333" textLength="10.20" lengthAdjust="spacingAndGlyphs">80</text><line x1="241.80" y1="594.30" x2="358.10" y2="594.30" stroke="#d9d9d9" stroke-width="0.7"/><text x="223.10" y="597.20" font-size="8" fill="#333" textLength="15.20" lengthAdjust="spacingAndGlyphs">100</text><text x="217.20" y="658.35" font-size="9" fill="#333" transform="rotate(-90 217.20 658.35)" textLength="71.50" lengthAdjust="spacingAndGlyphs">Percentage 5mC</text><rect x="245.50" y="647.60" width="2.80" height="2.81" fill="#4472c4"/><rect x="249.35" y="648.16" width="2.80" height="2.24" fill="#ed7d31"/><rect x="253.20" y="648.16" width="2.80" height="2.24" fill="#a5a5a5"/><rect x="257.05" y="647.60" width="2.80" height="2.81" fill="#ffc000"/><rect x="260.90" y="648.16" width="2.80" height="2.24" fill="#5b9bd5"/><rect x="264.75" y="647.60" width="2.80" height="2.81" fill="#70ad47"/><text x="239.70" y="680.70" font-size="8" fill="#333" transform="rotate(-45 239.70 680.70)" textLength="33.50" lengthAdjust="spacingAndGlyphs">Crypt 13</text><rect x="274.20" y="648.16" width="2.80" height="2.24" fill="#4472c4"/><rect x="278.05" y="648.72" width="2.80" height="1.68" fill="#ed7d31"/><rect x="281.90" y="647.60" width="2.80" height="2.81" fill="#a5a5a5"/><rect x="285.75" y="648.72" width="2.80" height="1.68" fill="#ffc000"/><rect x="289.60" y="648.72" width="2.80" height="1.68" fill="#5b9bd5"/><rect x="293.45" y="648.16" width="2.80" height="2.24" fill="#70ad47"/><text x="268.40" y="680.70" font-size="8" fill="#333" transform="rotate(-45 268.40 680.70)" textLength="33.50" lengthAdjust="spacingAndGlyphs">Crypt 21</text><rect x="303.30" y="647.60" width="2.80" height="2.81" fill="#4472c4"/><rect x="307.15" y="647.60" width="2.80" height="2.81" fill="#ed7d31"/><rect x="311.00" y="647.03" width="2.80" height="3.37" fill="#a5a5a5"/><rect x="314.85" y="648.16" width="2.80" height="2.24" fill="#ffc000"/><rect x="318.70" y="648.16" width="2.80" height="2.24" fill="#5b9bd5"/><rect x="322.55" y="648.16" width="2.80" height="2.24" fill="#70ad47"/><text x="300.40" y="680.70" font-size="8" fill="#333" transform="rotate(-45 300.40 680.70)" textLength="33.50" lengthAdjust="spacingAndGlyphs">Crypt 12</text><rect x="332.00" y="645.35" width="2.80" height="5.05" fill="#4472c4"/><rect x="335.85" y="648.72" width="2.80" height="1.68" fill="#ed7d31"/><rect x="339.70" y="648.16" width="2.80" height="2.24" fill="#a5a5a5"/><rect x="343.55" y="648.72" width="2.80" height="1.68" fill="#ffc000"/><rect x="347.40" y="648.16" width="2.80" height="2.24" fill="#5b9bd5"/><rect x="351.25" y="648.16" width="2.80" height="2.24" fill="#70ad47"/><text x="329.10" y="680.70" font-size="8" fill="#333" transform="rotate(-45 329.10 680.70)" textLength="33.50" lengthAdjust="spacingAndGlyphs">Crypt 27</text><line x1="244.20" y1="682.60" x2="296.10" y2="682.60" stroke="#333" stroke-width="0.6"/><line x1="304.90" y1="682.60" x2="356.40" y2="682.60" stroke="#333" stroke-width="0.6"/><text x="256.70" y="693.10" font-size="8.8" fill="#333" textLength="27.60" lengthAdjust="spacingAndGlyphs">Young</text><text x="319.00" y="693.10" font-size="8.8" fill="#333" textLength="22.80" lengthAdjust="spacingAndGlyphs">Aged</text><text x="266.10" y="730.00" font-size="8.8" fill="#333" textLength="68.50" lengthAdjust="spacingAndGlyphs">Cluster 5 (Dkk2)</text><line x1="241.80" y1="791.70" x2="358.10" y2="791.70" stroke="#d9d9d9" stroke-width="0.7"/><text x="233.10" y="794.60" font-size="8" fill="#333" textLength="5.20" lengthAdjust="spacingAndGlyphs">0</text><line x1="241.80" y1="780.42" x2="358.10" y2="780.42" stroke="#d9d9d9" stroke-width="0.7"/><text x="228.10" y="783.32" font-size="8" fill="#333" textLength="10.20" lengthAdjust="spacingAndGlyphs">20</text><line x1="241.80" y1="769.14" x2="358.10" y2="769.14" stroke="#d9d9d9" stroke-width="0.7"/><text x="228.10" y="772.04" font-size="8" fill="#333" textLength="10.20" lengthAdjust="spacingAndGlyphs">40</text><line x1="241.80" y1="757.86" x2="358.10" y2="757.86" stroke="#d9d9d9" stroke-width="0.7"/><text x="228.10" y="760.76" font-size="8" fill="#333" textLength="10.20" lengthAdjust="spacingAndGlyphs">60</text><line x1="241.80" y1="746.58" x2="358.10" y2="746.58" stroke="#d9d9d9" stroke-width="0.7"/><text x="228.10" y="749.48" font-size="8" fill="#333" textLength="10.20" lengthAdjust="spacingAndGlyphs">80</text><line x1="241.80" y1="735.30" x2="358.10" y2="735.30" stroke="#d9d9d9" stroke-width="0.7"/><text x="223.10" y="738.20" font-size="8" fill="#333" textLength="15.20" lengthAdjust="spacingAndGlyphs">100</text><text x="217.20" y="799.50" font-size="9" fill="#333" transform="rotate(-90 217.20 799.50)" textLength="71.50" lengthAdjust="spacingAndGlyphs">Percentage 5mC</text><rect x="245.50" y="788.88" width="2.80" height="2.82" fill="#4472c4"/><rect x="249.35" y="789.44" width="2.80" height="2.26" fill="#ed7d31"/><rect x="253.20" y="787.19" width="2.80" height="4.51" fill="#a5a5a5"/><rect x="257.05" y="788.88" width="2.80" height="2.82" fill="#ffc000"/><rect x="260.90" y="788.32" width="2.80" height="3.38" fill="#5b9bd5"/><rect x="264.75" y="776.47" width="2.80" height="15.23" fill="#70ad47"/><text x="239.70" y="822.00" font-size="8" fill="#333" transform="rotate(-45 239.70 822.00)" textLength="33.50" lengthAdjust="spacingAndGlyphs">Crypt 45</text><rect x="274.20" y="789.44" width="2.80" height="2.26" fill="#4472c4"/><rect x="278.05" y="790.01" width="2.80" height="1.69" fill="#ed7d31"/><rect x="281.90" y="788.32" width="2.80" height="3.38" fill="#a5a5a5"/><rect x="285.75" y="785.50" width="2.80" height="6.20" fill="#ffc000"/><rect x="289.60" y="788.32" width="2.80" height="3.38" fill="#5b9bd5"/><rect x="293.45" y="768.01" width="2.80" height="23.69" fill="#70ad47"/><text x="268.40" y="822.00" font-size="8" fill="#333" transform="rotate(-45 268.40 822.00)" textLength="33.50" lengthAdjust="spacingAndGlyphs">Crypt 35</text><rect x="303.30" y="789.44" width="2.80" height="2.26" fill="#4472c4"/><rect x="307.15" y="790.57" width="2.80" height="1.13" fill="#ed7d31"/><rect x="311.00" y="789.44" width="2.80" height="2.26" fill="#a5a5a5"/><rect x="314.85" y="790.01" width="2.80" height="1.69" fill="#ffc000"/><rect x="318.70" y="789.44" width="2.80" height="2.26" fill="#5b9bd5"/><rect x="322.55" y="777.04" width="2.80" height="14.66" fill="#70ad47"/><text x="300.40" y="822.00" font-size="8" fill="#333" transform="rotate(-45 300.40 822.00)" textLength="33.50" lengthAdjust="spacingAndGlyphs">Crypt 30</text><rect x="332.00" y="789.44" width="2.80" height="2.26" fill="#4472c4"/><rect x="335.85" y="790.01" width="2.80" height="1.69" fill="#ed7d31"/><rect x="339.70" y="788.32" width="2.80" height="3.38" fill="#a5a5a5"/><rect x="343.55" y="788.88" width="2.80" height="2.82" fill="#ffc000"/><rect x="347.40" y="788.32" width="2.80" height="3.38" fill="#5b9bd5"/><rect x="351.25" y="763.50" width="2.80" height="28.20" fill="#70ad47"/><text x="329.10" y="822.00" font-size="8" fill="#333" transform="rotate(-45 329.10 822.00)" textLength="33.50" lengthAdjust="spacingAndGlyphs">Crypt 33</text><line x1="244.20" y1="823.60" x2="296.10" y2="823.60" stroke="#333" stroke-width="0.6"/><line x1="304.90" y1="823.60" x2="356.40" y2="823.60" stroke="#333" stroke-width="0.6"/><text x="256.70" y="834.00" font-size="8.8" fill="#333" textLength="27.60" lengthAdjust="spacingAndGlyphs">Young</text><text x="319.00" y="834.00" font-size="8.8" fill="#333" textLength="22.80" lengthAdjust="spacingAndGlyphs">Aged</text><rect x="226.00" y="850.40" width="7.80" height="7.80" fill="#4472c4"/><text x="238.80" y="857.50" font-size="8.5" fill="#333" textLength="23.00" lengthAdjust="spacingAndGlyphs">CpG1</text><rect x="226.00" y="863.70" width="7.80" height="7.80" fill="#ed7d31"/><text x="238.80" y="870.80" font-size="8.5" fill="#333" textLength="23.00" lengthAdjust="spacingAndGlyphs">CpG2</text><rect x="277.90" y="850.40" width="7.80" height="7.80" fill="#a5a5a5"/><text x="290.70" y="857.50" font-size="8.5" fill="#333" textLength="23.00" lengthAdjust="spacingAndGlyphs">CpG3</text><rect x="277.90" y="863.70" width="7.80" height="7.80" fill="#ffc000"/><text x="290.70" y="870.80" font-size="8.5" fill="#333" textLength="23.00" lengthAdjust="spacingAndGlyphs">CpG4</text><rect x="330.10" y="850.40" width="7.80" height="7.80" fill="#5b9bd5"/><text x="342.90" y="857.50" font-size="8.5" fill="#333" textLength="23.00" lengthAdjust="spacingAndGlyphs">CpG5</text><rect x="330.10" y="863.70" width="7.80" height="7.80" fill="#70ad47"/><text x="342.90" y="870.80" font-size="8.5" fill="#333" textLength="23.00" lengthAdjust="spacingAndGlyphs">CpG6</text></g>
<g id="pf"><text x="389.50" y="577.00" font-size="15.5" fill="#000" font-weight="bold">f</text><rect x="441.90" y="579.10" width="192.80" height="94.20" fill="#fff" stroke="#777" stroke-width="0.7"/><line x1="447.60" y1="594.00" x2="629.00" y2="594.00" stroke="#d9d9d9" stroke-width="0.7"/><text x="438.80" y="596.90" font-size="8.3" text-anchor="end" fill="#333">2</text><line x1="447.60" y1="610.40" x2="629.00" y2="610.40" stroke="#d9d9d9" stroke-width="0.7"/><text x="438.80" y="613.30" font-size="8.3" text-anchor="end" fill="#333">1</text><line x1="447.60" y1="626.80" x2="629.00" y2="626.80" stroke="#d9d9d9" stroke-width="0.7"/><text x="438.80" y="629.70" font-size="8.3" text-anchor="end" fill="#333">0</text><line x1="447.60" y1="643.20" x2="629.00" y2="643.20" stroke="#d9d9d9" stroke-width="0.7"/><text x="438.80" y="646.10" font-size="8.3" text-anchor="end" fill="#333">−1</text><line x1="447.60" y1="659.60" x2="629.00" y2="659.60" stroke="#d9d9d9" stroke-width="0.7"/><text x="438.80" y="662.50" font-size="8.3" text-anchor="end" fill="#333">−2</text><rect x="453.70" y="595.64" width="12.10" height="31.16" fill="#3f6fb8"/><rect x="476.17" y="626.80" width="12.10" height="18.86" fill="#3f6fb8"/><rect x="498.64" y="626.80" width="12.10" height="18.86" fill="#3f6fb8"/><rect x="521.11" y="626.80" width="12.10" height="1.64" fill="#3f6fb8"/><rect x="543.58" y="626.80" width="12.10" height="1.64" fill="#3f6fb8"/><rect x="566.05" y="626.80" width="12.10" height="18.86" fill="#3f6fb8"/><rect x="588.52" y="626.80" width="12.10" height="1.64" fill="#3f6fb8"/><rect x="610.99" y="595.64" width="12.10" height="31.16" fill="#3f6fb8"/><text x="449.50" y="700.70" font-size="8.3" fill="#333" transform="rotate(-45 449.50 700.70)" textLength="25.00" lengthAdjust="spacingAndGlyphs">None</text><text x="615.80" y="692.20" font-size="8.3" fill="#333" transform="rotate(-45 615.80 692.20)" textLength="13.00" lengthAdjust="spacingAndGlyphs">All</text><line x1="479.20" y1="680.70" x2="530.90" y2="680.70" stroke="#333" stroke-width="0.6"/><line x1="546.20" y1="680.70" x2="598.30" y2="680.70" stroke="#333" stroke-width="0.6"/><text x="503.30" y="689.20" font-size="8.3" text-anchor="middle" fill="#333">1</text><text x="572.00" y="689.20" font-size="8.3" text-anchor="middle" fill="#333">2</text><text x="485" y="705.2" font-size="8.5" fill="#333" textLength="111.5" lengthAdjust="spacingAndGlyphs">Methylated promoters (<tspan font-style="italic">n</tspan>)</text><text x="413.40" y="662.00" font-size="8.5" fill="#333" transform="rotate(-90 413.40 662.00)" textLength="74.00" lengthAdjust="spacingAndGlyphs">Number of events</text><text x="424.40" y="668.00" font-size="8.5" fill="#333" transform="rotate(-90 424.40 668.00)" textLength="86.00" lengthAdjust="spacingAndGlyphs">(observed–expected)</text></g>
<g id="pg"><text x="389.60" y="729.50" font-size="15.5" fill="#000" font-weight="bold">g</text><rect x="394.30" y="760.50" width="28.62" height="28.62" fill="#ea2a32" stroke="#2a2a2a" stroke-width="0.5"/><text x="400.76" y="777.61" font-size="8.6" fill="#231f20" textLength="15.70" lengthAdjust="spacingAndGlyphs">1.00</text><rect x="422.92" y="760.50" width="28.62" height="28.62" fill="#b9c0e2" stroke="#2a2a2a" stroke-width="0.5"/><text x="426.98" y="777.61" font-size="8.6" fill="#231f20" textLength="20.50" lengthAdjust="spacingAndGlyphs">−0.25</text><rect x="451.54" y="760.50" width="28.62" height="28.62" fill="#f6c3c6" stroke="#2a2a2a" stroke-width="0.5"/><text x="457.65" y="777.61" font-size="8.6" fill="#231f20" textLength="16.40" lengthAdjust="spacingAndGlyphs">0.26</text><rect x="480.16" y="760.50" width="28.62" height="28.62" fill="#f3aeb3" stroke="#2a2a2a" stroke-width="0.5"/><text x="486.27" y="777.61" font-size="8.6" fill="#231f20" textLength="16.40" lengthAdjust="spacingAndGlyphs">0.32</text><rect x="394.30" y="789.12" width="28.62" height="28.62" fill="#b9c0e2" stroke="#2a2a2a" stroke-width="0.5"/><text x="398.36" y="806.23" font-size="8.6" fill="#231f20" textLength="20.50" lengthAdjust="spacingAndGlyphs">−0.25</text><rect x="422.92" y="789.12" width="28.62" height="28.62" fill="#ea2a32" stroke="#2a2a2a" stroke-width="0.5"/><text x="429.38" y="806.23" font-size="8.6" fill="#231f20" textLength="15.70" lengthAdjust="spacingAndGlyphs">1.00</text><rect x="451.54" y="789.12" width="28.62" height="28.62" fill="#f8ced1" stroke="#2a2a2a" stroke-width="0.5"/><text x="458.25" y="806.23" font-size="8.6" fill="#231f20" textLength="15.20" lengthAdjust="spacingAndGlyphs">0.21</text><rect x="480.16" y="789.12" width="28.62" height="28.62" fill="#f9d5d7" stroke="#2a2a2a" stroke-width="0.5"/><text x="486.97" y="806.23" font-size="8.6" fill="#231f20" textLength="15.00" lengthAdjust="spacingAndGlyphs">0.19</text><rect x="394.30" y="817.74" width="28.62" height="28.62" fill="#f6c3c6" stroke="#2a2a2a" stroke-width="0.5"/><text x="400.41" y="834.85" font-size="8.6" fill="#231f20" textLength="16.40" lengthAdjust="spacingAndGlyphs">0.26</text><rect x="422.92" y="817.74" width="28.62" height="28.62" fill="#f8ced1" stroke="#2a2a2a" stroke-width="0.5"/><text x="429.63" y="834.85" font-size="8.6" fill="#231f20" textLength="15.20" lengthAdjust="spacingAndGlyphs">0.21</text><rect x="451.54" y="817.74" width="28.62" height="28.62" fill="#ea2a32" stroke="#2a2a2a" stroke-width="0.5"/><text x="458.00" y="834.85" font-size="8.6" fill="#231f20" textLength="15.70" lengthAdjust="spacingAndGlyphs">1.00</text><rect x="480.16" y="817.74" width="28.62" height="28.62" fill="#ee7377" stroke="#2a2a2a" stroke-width="0.5"/><text x="486.27" y="834.85" font-size="8.6" fill="#231f20" textLength="16.40" lengthAdjust="spacingAndGlyphs">0.55</text><text x="483.97" y="841.35" font-size="4.3" fill="#231f20" textLength="21.50" lengthAdjust="spacingAndGlyphs">P = 0.036</text><rect x="394.30" y="846.36" width="28.62" height="28.62" fill="#f3aeb3" stroke="#2a2a2a" stroke-width="0.5"/><text x="400.41" y="863.47" font-size="8.6" fill="#231f20" textLength="16.40" lengthAdjust="spacingAndGlyphs">0.32</text><rect x="422.92" y="846.36" width="28.62" height="28.62" fill="#f9d5d7" stroke="#2a2a2a" stroke-width="0.5"/><text x="429.73" y="863.47" font-size="8.6" fill="#231f20" textLength="15.00" lengthAdjust="spacingAndGlyphs">0.19</text><rect x="451.54" y="846.36" width="28.62" height="28.62" fill="#ee7377" stroke="#2a2a2a" stroke-width="0.5"/><text x="457.65" y="863.47" font-size="8.6" fill="#231f20" textLength="16.40" lengthAdjust="spacingAndGlyphs">0.55</text><text x="455.35" y="869.97" font-size="4.3" fill="#231f20" textLength="21.50" lengthAdjust="spacingAndGlyphs">P = 0.036</text><rect x="480.16" y="846.36" width="28.62" height="28.62" fill="#ea2a32" stroke="#2a2a2a" stroke-width="0.5"/><text x="486.62" y="863.47" font-size="8.6" fill="#231f20" textLength="15.70" lengthAdjust="spacingAndGlyphs">1.00</text><rect x="394.30" y="760.50" width="114.48" height="114.48" fill="none" stroke="#1a1a1a" stroke-width="0.9"/><text x="410.51" y="754.90" font-size="8.8" fill="#333" transform="rotate(-90 410.51 754.90)" textLength="18.70" lengthAdjust="spacingAndGlyphs">Dkk1</text><text x="513.90" y="778.21" font-size="8.8" fill="#333" textLength="18.70" lengthAdjust="spacingAndGlyphs">Dkk1</text><text x="439.13" y="754.90" font-size="8.8" fill="#333" transform="rotate(-90 439.13 754.90)" textLength="20.10" lengthAdjust="spacingAndGlyphs">Dkk2</text><text x="513.90" y="806.83" font-size="8.8" fill="#333" textLength="20.10" lengthAdjust="spacingAndGlyphs">Dkk2</text><text x="467.75" y="754.90" font-size="8.8" fill="#333" transform="rotate(-90 467.75 754.90)" textLength="20.60" lengthAdjust="spacingAndGlyphs">Sfrp1</text><text x="513.90" y="835.45" font-size="8.8" fill="#333" textLength="20.60" lengthAdjust="spacingAndGlyphs">Sfrp1</text><text x="496.37" y="754.90" font-size="8.8" fill="#333" transform="rotate(-90 496.37 754.90)" textLength="23.40" lengthAdjust="spacingAndGlyphs">Sfrp2</text><text x="513.90" y="864.07" font-size="8.8" fill="#333" textLength="23.40" lengthAdjust="spacingAndGlyphs">Sfrp2</text><text x="428.20" y="886.90" font-size="8.8" fill="#333" textLength="48.60" lengthAdjust="spacingAndGlyphs">Correlation</text><defs><linearGradient id="bwr" x1="0" x2="1" y1="0" y2="0"><stop offset="0" stop-color="#3650a3"/><stop offset="0.5" stop-color="#ffffff"/><stop offset="1" stop-color="#ec2c33"/></linearGradient></defs><rect x="417.20" y="890.80" width="70.10" height="5.90" fill="url(#bwr)"/><line x1="434.72" y1="890.80" x2="434.72" y2="892.40" stroke="#fff" stroke-width="0.5"/><line x1="452.25" y1="890.80" x2="452.25" y2="892.40" stroke="#fff" stroke-width="0.5"/><line x1="469.77" y1="890.80" x2="469.77" y2="892.40" stroke="#fff" stroke-width="0.5"/><text x="410.70" y="906.00" font-size="8.3" fill="#333" textLength="14.00" lengthAdjust="spacingAndGlyphs">−1.0</text><text x="428.90" y="906.00" font-size="8.3" fill="#333" textLength="14.50" lengthAdjust="spacingAndGlyphs">−0.5</text><text x="449.90" y="906.00" font-size="8.3" fill="#333" textLength="4.80" lengthAdjust="spacingAndGlyphs">0</text><text x="464.00" y="906.00" font-size="8.3" fill="#333" textLength="11.60" lengthAdjust="spacingAndGlyphs">0.5</text><text x="481.90" y="906.00" font-size="8.3" fill="#333" textLength="10.10" lengthAdjust="spacingAndGlyphs">1.0</text></g>
<g id="ph"><text x="554.80" y="730.70" font-size="15.5" fill="#000" font-weight="bold">h</text><line x1="584.20" y1="834.25" x2="636.00" y2="834.25" stroke="#c4c4c4" stroke-width="0.6"/><line x1="584.20" y1="818.40" x2="636.00" y2="818.40" stroke="#c4c4c4" stroke-width="0.6"/><line x1="584.20" y1="802.55" x2="636.00" y2="802.55" stroke="#c4c4c4" stroke-width="0.6"/><line x1="584.20" y1="786.70" x2="636.00" y2="786.70" stroke="#c4c4c4" stroke-width="0.6"/><line x1="584.20" y1="770.85" x2="636.00" y2="770.85" stroke="#c4c4c4" stroke-width="0.6"/><line x1="584.20" y1="755.00" x2="636.00" y2="755.00" stroke="#c4c4c4" stroke-width="0.6"/><text x="575.40" y="853.10" font-size="8.5" fill="#333" textLength="5.40" lengthAdjust="spacingAndGlyphs">0</text><text x="570.20" y="837.25" font-size="8.5" fill="#333" textLength="10.60" lengthAdjust="spacingAndGlyphs">10</text><text x="570.20" y="821.40" font-size="8.5" fill="#333" textLength="10.60" lengthAdjust="spacingAndGlyphs">20</text><text x="570.20" y="805.55" font-size="8.5" fill="#333" textLength="10.60" lengthAdjust="spacingAndGlyphs">30</text><text x="570.20" y="789.70" font-size="8.5" fill="#333" textLength="10.60" lengthAdjust="spacingAndGlyphs">40</text><text x="570.20" y="773.85" font-size="8.5" fill="#333" textLength="10.60" lengthAdjust="spacingAndGlyphs">50</text><text x="570.20" y="758.00" font-size="8.5" fill="#333" textLength="10.60" lengthAdjust="spacingAndGlyphs">60</text><rect x="588.90" y="804.13" width="7.20" height="45.96" fill="#a7a9ac"/><rect x="598.50" y="823.15" width="7.40" height="26.95" fill="#fdb71a"/><rect x="612.40" y="837.42" width="8.20" height="12.68" fill="#a7a9ac"/><rect x="622.30" y="774.81" width="7.50" height="75.29" fill="#fdb71a"/><rect x="609.60" y="742.40" width="24.30" height="107.70" fill="#3cb35a" fill-opacity="0.24"/><rect x="584.20" y="742.40" width="51.80" height="107.70" fill="none" stroke="#808080" stroke-width="0.6"/><line x1="587.30" y1="833.93" x2="597.70" y2="833.93" stroke="#2db34a" stroke-width="0.7"/><line x1="597.10" y1="816.34" x2="606.90" y2="816.34" stroke="#ed1c24" stroke-width="0.7"/><line x1="611.80" y1="837.90" x2="621.60" y2="837.90" stroke="#2db34a" stroke-width="0.7"/><line x1="621.00" y1="809.37" x2="631.20" y2="809.37" stroke="#ed1c24" stroke-width="0.7"/><text x="587.30" y="863.00" font-size="8.8" fill="#333" textLength="19.00" lengthAdjust="spacingAndGlyphs">Dkk1</text><text x="611.40" y="863.00" font-size="8.8" fill="#333" textLength="21.10" lengthAdjust="spacingAndGlyphs">Dkk2</text><text x="562.60" y="833.30" font-size="9" fill="#333" transform="rotate(-90 562.60 833.30)" textLength="72.50" lengthAdjust="spacingAndGlyphs">Percentage 5mC</text><rect x="660.00" y="758.10" width="8.20" height="7.80" fill="#a7a9ac"/><text x="643.70" y="778.50" font-size="8.8" fill="#333" textLength="38.20" lengthAdjust="spacingAndGlyphs">Dkk2 low</text><text x="653.90" y="789.40" font-size="8.8" fill="#333" textLength="21.30" lengthAdjust="spacingAndGlyphs">(n10)</text><rect x="660.00" y="805.10" width="8.20" height="7.80" fill="#fdb71a"/><text x="643.10" y="825.60" font-size="8.8" fill="#333" textLength="43.00" lengthAdjust="spacingAndGlyphs">Dkk2 high</text><text x="653.90" y="835.40" font-size="8.8" fill="#333" textLength="21.30" lengthAdjust="spacingAndGlyphs">(n10)</text><line x1="585.90" y1="877.70" x2="594.00" y2="877.70" stroke="#2db34a" stroke-width="0.8"/><text x="599.80" y="880.30" font-size="8.8" fill="#333" textLength="43.90" lengthAdjust="spacingAndGlyphs">Average Y</text><line x1="585.90" y1="891.20" x2="594.00" y2="891.20" stroke="#ed1c24" stroke-width="0.8"/><text x="599.80" y="893.60" font-size="8.8" fill="#333" textLength="43.90" lengthAdjust="spacingAndGlyphs">Average A</text></g>
</svg>
</body></html>
